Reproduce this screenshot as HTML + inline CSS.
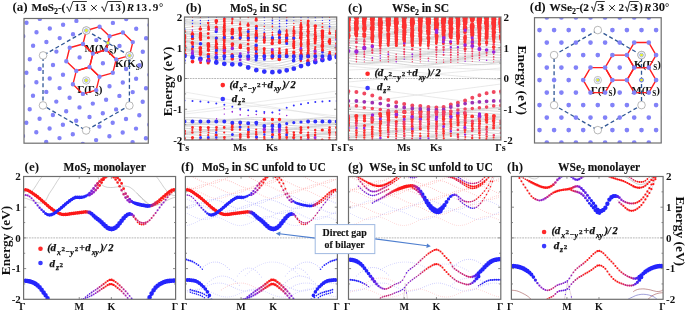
<!DOCTYPE html>
<html><head><meta charset="utf-8"><style>
html,body{margin:0;padding:0;background:#fff;width:685px;height:311px;overflow:hidden}
svg{display:block;will-change:transform}
</style></head><body>
<svg width="685" height="311" viewBox="0 0 685 311">
<defs><clipPath id="ca"><rect x="24" y="18.5" width="124.30000000000001" height="124.69999999999999"/></clipPath><clipPath id="cb"><rect x="184.5" y="17" width="152.2" height="123"/></clipPath><clipPath id="cc"><rect x="348.4" y="17" width="152.5" height="123"/></clipPath><clipPath id="cd"><rect x="534.5" y="17.7" width="126.70000000000005" height="125.3"/></clipPath><clipPath id="ce"><rect x="23.6" y="176.5" width="152.0" height="122.80000000000001"/></clipPath><clipPath id="cf"><rect x="185.4" y="176.5" width="151.99999999999997" height="122.80000000000001"/></clipPath><clipPath id="cg"><rect x="348.5" y="176.5" width="152.3" height="122.80000000000001"/></clipPath><clipPath id="ch"><rect x="511.4" y="176.5" width="151.70000000000005" height="122.80000000000001"/></clipPath></defs>
<text x="84.6" y="52.2" style="font-family:'Liberation Serif',serif;font-weight:bold;fill:#111;font-size:11px">M(<tspan>M</tspan><tspan style="font-size:7.2px" dy="2.3">S</tspan><tspan dy="-2.3">)</tspan></text>
<text x="114.9" y="67.3" style="font-family:'Liberation Serif',serif;font-weight:bold;fill:#111;font-size:11px">K(<tspan>K</tspan><tspan style="font-size:7.2px" dy="2.3">S</tspan><tspan dy="-2.3">)</tspan></text>
<text x="77.2" y="93.3" style="font-family:'Liberation Serif',serif;font-weight:bold;fill:#111;font-size:11px">Γ(<tspan>Γ</tspan><tspan style="font-size:7.2px" dy="2.3">S</tspan><tspan dy="-2.3">)</tspan></text>
<text x="634.0" y="67.6" style="font-family:'Liberation Serif',serif;font-weight:bold;fill:#111;font-size:11px">K(<tspan>Γ</tspan><tspan style="font-size:7.2px" dy="2.3">S</tspan><tspan dy="-2.3">)</tspan></text>
<text x="631.3" y="93.7" style="font-family:'Liberation Serif',serif;font-weight:bold;fill:#111;font-size:11px">M(<tspan>Γ</tspan><tspan style="font-size:7.2px" dy="2.3">S</tspan><tspan dy="-2.3">)</tspan></text>
<text x="590.8" y="93.7" style="font-family:'Liberation Serif',serif;font-weight:bold;fill:#111;font-size:11px">Γ(<tspan>Γ</tspan><tspan style="font-size:7.2px" dy="2.3">S</tspan><tspan dy="-2.3">)</tspan></text>
<g clip-path="url(#ca)">
<polygon points="99.53,76.67 96.18,90.12 82.88,93.94 72.93,84.31 76.28,70.86 89.58,67.04" fill="none" stroke="#ff1f1f" stroke-width="1.4" stroke-linejoin="round"/>
<polygon points="116.18,59.40 112.83,72.85 99.53,76.67 89.58,67.04 92.93,53.59 106.23,49.77" fill="none" stroke="#ff1f1f" stroke-width="1.4" stroke-linejoin="round"/>
<polygon points="92.93,53.59 89.58,67.04 76.28,70.86 66.33,61.23 69.68,47.78 82.98,43.96" fill="none" stroke="#ff1f1f" stroke-width="1.4" stroke-linejoin="round"/>
<polygon points="109.58,36.32 106.23,49.77 92.93,53.59 82.98,43.96 86.33,30.51 99.63,26.69" fill="none" stroke="#ff1f1f" stroke-width="1.4" stroke-linejoin="round"/>
<polygon points="132.83,42.13 129.48,55.58 116.18,59.40 106.23,49.77 109.58,36.32 122.88,32.50" fill="none" stroke="#ff1f1f" stroke-width="1.4" stroke-linejoin="round"/>
<polygon points="86.33,30.51 129.48,55.58 129.38,105.56 86.13,130.47 42.98,105.40 43.08,55.42" fill="none" stroke="#2f5694" stroke-width="1.3" stroke-dasharray="4,2.6"/>
<path d="M26.5 22.7h0M23.2 36.2h0M39.8 18.9h0M36.5 32.3h0M33.1 45.8h0M29.8 59.2h0M26.4 72.7h0M23.1 86.1h0M49.8 28.5h0M46.4 42.0h0M43.1 55.4h0M39.7 68.9h0M36.4 82.3h0M33.0 95.8h0M29.7 109.2h0M26.3 122.7h0M23.0 136.1h0M63.1 24.7h0M59.7 38.1h0M56.4 51.6h0M53.0 65.0h0M49.7 78.5h0M46.3 91.9h0M43.0 105.4h0M39.6 118.8h0M36.3 132.3h0M32.9 145.8h0M76.4 20.9h0M73.0 34.3h0M69.7 47.8h0M66.3 61.2h0M63.0 74.7h0M59.6 88.1h0M56.3 101.6h0M52.9 115.0h0M49.6 128.5h0M46.2 141.9h0M89.7 17.1h0M86.3 30.5h0M83.0 44.0h0M79.6 57.4h0M76.3 70.9h0M72.9 84.3h0M69.6 97.8h0M66.2 111.2h0M62.9 124.7h0M59.5 138.1h0M99.6 26.7h0M96.3 40.1h0M92.9 53.6h0M89.6 67.0h0M86.2 80.5h0M82.9 93.9h0M79.5 107.4h0M76.2 120.8h0M72.8 134.3h0M112.9 22.9h0M109.6 36.3h0M106.2 49.8h0M102.9 63.2h0M99.5 76.7h0M96.2 90.1h0M92.8 103.6h0M89.5 117.0h0M86.1 130.5h0M82.8 143.9h0M126.2 19.0h0M122.9 32.5h0M119.5 45.9h0M116.2 59.4h0M112.8 72.8h0M109.5 86.3h0M106.1 99.8h0M102.8 113.2h0M99.4 126.6h0M96.1 140.1h0M136.2 28.7h0M132.8 42.1h0M129.5 55.6h0M126.1 69.0h0M122.8 82.5h0M119.4 95.9h0M116.1 109.4h0M112.7 122.8h0M109.4 136.3h0M149.5 24.9h0M146.1 38.3h0M142.8 51.8h0M139.4 65.2h0M136.1 78.7h0M132.7 92.1h0M129.4 105.6h0M126.0 119.0h0M122.7 132.5h0M119.3 145.9h0M149.4 74.8h0M146.0 88.3h0M142.7 101.7h0M139.3 115.2h0M136.0 128.6h0M132.6 142.1h0M149.3 124.8h0M145.9 138.3h0" stroke="#8282f8" stroke-width="4.40" stroke-linecap="round"/>
<circle cx="86.33" cy="30.51" r="3.8" fill="#fff" stroke="#8a8a8a" stroke-width="0.6"/>
<circle cx="129.48" cy="55.58" r="3.8" fill="#fff" stroke="#8a8a8a" stroke-width="0.6"/>
<circle cx="129.38" cy="105.56" r="3.8" fill="#fff" stroke="#8a8a8a" stroke-width="0.6"/>
<circle cx="86.13" cy="130.47" r="3.8" fill="#fff" stroke="#8a8a8a" stroke-width="0.6"/>
<circle cx="42.98" cy="105.40" r="3.8" fill="#fff" stroke="#8a8a8a" stroke-width="0.6"/>
<circle cx="43.08" cy="55.42" r="3.8" fill="#fff" stroke="#8a8a8a" stroke-width="0.6"/>
<circle cx="86.23" cy="80.49" r="3.7" fill="#fff" stroke="#999" stroke-width="0.6"/>
<circle cx="86.23" cy="80.49" r="1.9" fill="none" stroke="#5a78d8" stroke-width="0.6"/>
<circle cx="86.23" cy="80.49" r="1.45" fill="#e4f028"/>
<circle cx="86.33" cy="30.51" r="3.7" fill="#fff" stroke="#999" stroke-width="0.6"/>
<circle cx="86.33" cy="30.51" r="1.9" fill="none" stroke="#5a78d8" stroke-width="0.6"/>
<circle cx="86.33" cy="30.51" r="1.45" fill="#e4f028"/>
<circle cx="129.48" cy="55.58" r="3.7" fill="#fff" stroke="#999" stroke-width="0.6"/>
<circle cx="129.48" cy="55.58" r="1.9" fill="none" stroke="#5a78d8" stroke-width="0.6"/>
<circle cx="129.48" cy="55.58" r="1.45" fill="#e4f028"/>
<circle cx="107.91" cy="43.05" r="1.9" fill="none" stroke="#5a78d8" stroke-width="0.6"/>
<circle cx="107.91" cy="43.05" r="1.45" fill="#e4f028"/>
</g>
<g clip-path="url(#cd)">
<polygon points="612.37,80.10 605.08,92.61 590.51,92.61 583.23,80.10 590.51,67.59 605.08,67.59" fill="none" stroke="#ff1f1f" stroke-width="1.4" stroke-linejoin="round"/>
<polygon points="634.23,67.59 626.94,80.10 612.37,80.10 605.08,67.59 612.37,55.08 626.94,55.08" fill="none" stroke="#ff1f1f" stroke-width="1.4" stroke-linejoin="round"/>
<polygon points="656.08,55.08 648.79,67.59 634.23,67.59 626.94,55.08 634.23,42.57 648.79,42.57" fill="none" stroke="#ff1f1f" stroke-width="1.4" stroke-linejoin="round"/>
<polygon points="656.08,80.10 648.79,92.61 634.23,92.61 626.94,80.10 634.23,67.59 648.79,67.59" fill="none" stroke="#ff1f1f" stroke-width="1.4" stroke-linejoin="round"/>
<polygon points="597.80,30.06 641.51,55.08 641.51,105.12 597.80,130.14 554.09,105.12 554.09,55.08" fill="none" stroke="#2f5694" stroke-width="1.3" stroke-dasharray="4,2.6"/>
<path d="M532.2 17.5h0M546.8 17.5h0M539.5 30.1h0M532.2 42.6h0M561.4 17.5h0M554.1 30.1h0M546.8 42.6h0M539.5 55.1h0M532.2 67.6h0M575.9 17.5h0M568.7 30.1h0M561.4 42.6h0M554.1 55.1h0M546.8 67.6h0M539.5 80.1h0M532.2 92.6h0M590.5 17.5h0M583.2 30.1h0M575.9 42.6h0M568.7 55.1h0M561.4 67.6h0M554.1 80.1h0M546.8 92.6h0M539.5 105.1h0M532.2 117.6h0M605.1 17.5h0M597.8 30.1h0M590.5 42.6h0M583.2 55.1h0M575.9 67.6h0M568.7 80.1h0M561.4 92.6h0M554.1 105.1h0M546.8 117.6h0M539.5 130.1h0M532.2 142.6h0M619.7 17.5h0M612.4 30.1h0M605.1 42.6h0M597.8 55.1h0M590.5 67.6h0M583.2 80.1h0M575.9 92.6h0M568.7 105.1h0M561.4 117.6h0M554.1 130.1h0M546.8 142.6h0M634.2 17.5h0M626.9 30.1h0M619.7 42.6h0M612.4 55.1h0M605.1 67.6h0M597.8 80.1h0M590.5 92.6h0M583.2 105.1h0M575.9 117.6h0M568.7 130.1h0M561.4 142.6h0M648.8 17.5h0M641.5 30.1h0M634.2 42.6h0M626.9 55.1h0M619.7 67.6h0M612.4 80.1h0M605.1 92.6h0M597.8 105.1h0M590.5 117.6h0M583.2 130.1h0M575.9 142.6h0M663.4 17.5h0M656.1 30.1h0M648.8 42.6h0M641.5 55.1h0M634.2 67.6h0M626.9 80.1h0M619.7 92.6h0M612.4 105.1h0M605.1 117.6h0M597.8 130.1h0M590.5 142.6h0M663.4 42.6h0M656.1 55.1h0M648.8 67.6h0M641.5 80.1h0M634.2 92.6h0M626.9 105.1h0M619.7 117.6h0M612.4 130.1h0M605.1 142.6h0M663.4 67.6h0M656.1 80.1h0M648.8 92.6h0M641.5 105.1h0M634.2 117.6h0M626.9 130.1h0M619.7 142.6h0M663.4 92.6h0M656.1 105.1h0M648.8 117.6h0M641.5 130.1h0M634.2 142.6h0M663.4 117.6h0M656.1 130.1h0M648.8 142.6h0M663.4 142.6h0" stroke="#8282f8" stroke-width="4.70" stroke-linecap="round"/>
<circle cx="597.80" cy="30.06" r="3.8" fill="#fff" stroke="#8a8a8a" stroke-width="0.6"/>
<circle cx="641.51" cy="55.08" r="3.8" fill="#fff" stroke="#8a8a8a" stroke-width="0.6"/>
<circle cx="641.51" cy="105.12" r="3.8" fill="#fff" stroke="#8a8a8a" stroke-width="0.6"/>
<circle cx="597.80" cy="130.14" r="3.8" fill="#fff" stroke="#8a8a8a" stroke-width="0.6"/>
<circle cx="554.09" cy="105.12" r="3.8" fill="#fff" stroke="#8a8a8a" stroke-width="0.6"/>
<circle cx="554.09" cy="55.08" r="3.8" fill="#fff" stroke="#8a8a8a" stroke-width="0.6"/>
<circle cx="597.80" cy="80.10" r="3.7" fill="#fff" stroke="#999" stroke-width="0.6"/>
<circle cx="597.80" cy="80.10" r="1.9" fill="none" stroke="#5a78d8" stroke-width="0.6"/>
<circle cx="597.80" cy="80.10" r="1.45" fill="#e4f028"/>
<circle cx="641.51" cy="55.08" r="3.7" fill="#fff" stroke="#999" stroke-width="0.6"/>
<circle cx="641.51" cy="55.08" r="1.9" fill="none" stroke="#5a78d8" stroke-width="0.6"/>
<circle cx="641.51" cy="55.08" r="1.45" fill="#e4f028"/>
<circle cx="641.51" cy="80.10" r="1.9" fill="none" stroke="#5a78d8" stroke-width="0.6"/>
<circle cx="641.51" cy="80.10" r="1.45" fill="#e4f028"/>
</g>
<g clip-path="url(#cb)">
<path d="M184.5,55.2 188.4,55.7 192.3,56.1 196.2,56.5 200.1,56.9 204,57.5 207.9,58.1 211.8,58.8 215.7,59.7 219.6,60.5 223.5,61.5 227.4,62.1 231.3,62.7 235.2,63 239.1,63.1 243,64.2 246.9,65.5 250.8,66.5 254.7,67.4 258.6,68 262.6,68.4 266.5,68.7 270.4,69 274.3,69.1 278.2,69.1 282.1,68.9 286,68.5 289.9,68 293.8,67.3 297.7,66 301.6,64.6 305.5,63.2 309.4,61.8 313.3,60.4 317.2,59 321.1,57.8 325,56.8 328.9,56.1 332.8,55.5 336.7,55" fill="none" stroke="#cacaca" stroke-width="0.75"/>
<path d="M184.5,53.5 188.4,53.7 192.3,54 196.2,54.4 200.1,54.9 204,55.7 207.9,56.6 211.8,57.6 215.7,58.7 219.6,59.6 223.5,60.5 227.4,61 231.3,61.3 235.2,61.3 239.1,61.1 243,61.8 246.9,62.9 250.8,63.8 254.7,64.7 258.6,65.4 262.6,66.1 266.5,66.7 270.4,67.3 274.3,67.6 278.2,67.7 282.1,67.4 286,66.9 289.9,66.1 293.8,65.2 297.7,63.6 301.6,62.1 305.5,60.7 309.4,59.4 313.3,58.2 317.2,57.2 321.1,56.3 325,55.7 328.9,55.3 332.8,54.9 336.7,54.4" fill="none" stroke="#cacaca" stroke-width="0.75"/>
<path d="M184.5,51.4 188.4,51.7 192.3,52.1 196.2,52.8 200.1,53.6 204,54.6 207.9,55.7 211.8,56.8 215.7,57.8 219.6,58.5 223.5,59.1 227.4,59.2 231.3,59.2 235.2,58.9 239.1,58.6 243,59.2 246.9,60.3 250.8,61.4 254.7,62.6 258.6,63.6 262.6,64.5 266.5,65.3 270.4,65.9 274.3,66.1 278.2,65.9 282.1,65.4 286,64.6 289.9,63.6 293.8,62.5 297.7,61 301.6,59.5 305.5,58.4 309.4,57.5 313.3,56.7 317.2,56 321.1,55.4 325,55 328.9,54.6 332.8,54.1 336.7,53.4" fill="none" stroke="#cacaca" stroke-width="0.75"/>
<path d="M184.5,49.8 188.4,50.3 192.3,51 196.2,51.9 200.1,52.9 204,53.9 207.9,54.9 211.8,55.7 215.7,56.3 219.6,56.7 223.5,56.9 227.4,56.8 231.3,56.7 235.2,56.5 239.1,56.3 243,57.2 246.9,58.5 250.8,59.8 254.7,61.2 258.6,62.3 262.6,63.1 266.5,63.7 270.4,64 274.3,63.9 278.2,63.4 282.1,62.6 286,61.7 289.9,60.8 293.8,59.8 297.7,58.6 301.6,57.6 305.5,56.9 309.4,56.3 313.3,55.8 317.2,55.2 321.1,54.6 325,54 328.9,53.3 332.8,52.5 336.7,51.6" fill="none" stroke="#cacaca" stroke-width="0.75"/>
<path d="M184.5,48.8 188.4,49.6 192.3,50.4 196.2,51.3 200.1,52.1 204,52.8 207.9,53.4 211.8,53.8 215.7,54.1 219.6,54.3 223.5,54.4 227.4,54.4 231.3,54.5 235.2,54.5 239.1,54.7 243,55.8 246.9,57.3 250.8,58.6 254.7,59.8 258.6,60.7 262.6,61.2 266.5,61.4 270.4,61.4 274.3,61.1 278.2,60.5 282.1,59.8 286,59.1 289.9,58.4 293.8,57.8 297.7,57 301.6,56.3 305.5,55.9 309.4,55.3 313.3,54.7 317.2,54 321.1,53.2 325,52.3 328.9,51.4 332.8,50.4 336.7,49.5" fill="none" stroke="#cacaca" stroke-width="0.75"/>
<path d="M184.5,48.3 188.4,49 192.3,49.6 196.2,50.2 200.1,50.6 204,51 207.9,51.3 211.8,51.5 215.7,51.7 219.6,52 223.5,52.3 227.4,52.6 231.3,53 235.2,53.3 239.1,53.7 243,54.8 246.9,56.1 250.8,57.1 254.7,57.9 258.6,58.4 262.6,58.6 266.5,58.6 270.4,58.4 274.3,58.2 278.2,57.8 282.1,57.4 286,57.1 289.9,56.8 293.8,56.5 297.7,55.9 301.6,55.2 305.5,54.6 309.4,53.9 313.3,53.1 317.2,52.1 321.1,51 325,50.1 328.9,49.2 332.8,48.5 336.7,47.8" fill="none" stroke="#cacaca" stroke-width="0.75"/>
<path d="M184.5,47.5 188.4,47.9 192.3,48.2 196.2,48.4 200.1,48.5 204,48.7 207.9,49 211.8,49.4 215.7,49.8 219.6,50.4 223.5,51 227.4,51.5 231.3,52 235.2,52.3 239.1,52.5 243,53.3 246.9,54.2 250.8,54.8 254.7,55.3 258.6,55.5 262.6,55.7 266.5,55.7 270.4,55.8 274.3,55.8 278.2,55.8 282.1,55.8 286,55.7 289.9,55.5 293.8,55.2 297.7,54.4 301.6,53.6 305.5,52.7 309.4,51.8 313.3,50.8 317.2,49.8 321.1,48.8 325,48.1 328.9,47.5 332.8,47.1 336.7,46.9" fill="none" stroke="#cacaca" stroke-width="0.75"/>
<path d="M184.5,46.1 188.4,46.1 192.3,46.1 196.2,46.2 200.1,46.4 204,46.8 207.9,47.3 211.8,47.9 215.7,48.6 219.6,49.4 223.5,50 227.4,50.5 231.3,50.8 235.2,50.9 239.1,50.7 243,51.1 246.9,51.7 250.8,52.1 254.7,52.5 258.6,52.8 262.6,53.2 266.5,53.5 270.4,53.9 274.3,54.2 278.2,54.4 282.1,54.4 286,54.2 289.9,53.8 293.8,53.3 297.7,52.3 301.6,51.2 305.5,50.3 309.4,49.3 313.3,48.4 317.2,47.7 321.1,47.1 325,46.8 328.9,46.6 332.8,46.4 336.7,46.3" fill="none" stroke="#cacaca" stroke-width="0.75"/>
<path d="M184.5,44 188.4,44.1 192.3,44.1 196.2,44.4 200.1,44.9 204,45.5 207.9,46.3 211.8,47 215.7,47.8 219.6,48.4 223.5,48.8 227.4,48.9 231.3,48.9 235.2,48.6 239.1,48.3 243,48.5 246.9,49 250.8,49.6 254.7,50.2 258.6,50.8 262.6,51.4 266.5,52 270.4,52.5 274.3,52.8 278.2,52.8 282.1,52.5 286,52.1 289.9,51.4 293.8,50.7 297.7,49.6 301.6,48.6 305.5,47.8 309.4,47.2 313.3,46.7 317.2,46.4 321.1,46.1 325,46 328.9,45.9 332.8,45.8 336.7,45.5" fill="none" stroke="#cacaca" stroke-width="0.75"/>
<path d="M184.5,42.2 188.4,42.4 192.3,42.8 196.2,43.4 200.1,44.1 204,44.8 207.9,45.5 211.8,46.1 215.7,46.5 219.6,46.7 223.5,46.8 227.4,46.7 231.3,46.4 235.2,46.1 239.1,45.9 243,46.3 246.9,47 250.8,47.8 254.7,48.6 258.6,49.4 262.6,50 266.5,50.5 270.4,50.8 274.3,50.8 278.2,50.5 282.1,50 286,49.3 289.9,48.6 293.8,47.9 297.7,47.1 301.6,46.5 305.5,46.1 309.4,45.8 313.3,45.7 317.2,45.5 321.1,45.3 325,45.2 328.9,44.9 332.8,44.4 336.7,43.9" fill="none" stroke="#cacaca" stroke-width="0.75"/>
<path d="M184.5,41 188.4,41.6 192.3,42.1 196.2,42.8 200.1,43.4 204,43.9 207.9,44.2 211.8,44.5 215.7,44.5 219.6,44.5 223.5,44.4 227.4,44.2 231.3,44.1 235.2,44 239.1,44.1 243,44.7 246.9,45.6 250.8,46.5 254.7,47.3 258.6,47.9 262.6,48.3 266.5,48.4 270.4,48.4 274.3,48.1 278.2,47.6 282.1,47.1 286,46.5 289.9,46.1 293.8,45.7 297.7,45.3 301.6,45.1 305.5,45 309.4,44.9 313.3,44.7 317.2,44.5 321.1,44.1 325,43.6 328.9,43.1 332.8,42.5 336.7,41.8" fill="none" stroke="#cacaca" stroke-width="0.75"/>
<path d="M184.5,40.5 188.4,41 192.3,41.5 196.2,41.9 200.1,42.1 204,42.2 207.9,42.3 211.8,42.2 215.7,42.1 219.6,42.1 223.5,42.1 227.4,42.2 231.3,42.4 235.2,42.7 239.1,43 243,43.7 246.9,44.5 250.8,45.1 254.7,45.6 258.6,45.8 262.6,45.8 266.5,45.7 270.4,45.4 274.3,45.1 278.2,44.8 282.1,44.5 286,44.3 289.9,44.2 293.8,44.2 297.7,44.1 301.6,44 305.5,43.9 309.4,43.7 313.3,43.3 317.2,42.8 321.1,42.1 325,41.5 328.9,40.9 332.8,40.4 336.7,39.9" fill="none" stroke="#cacaca" stroke-width="0.75"/>
<path d="M184.5,39.9 188.4,40.1 192.3,40.2 196.2,40.2 200.1,40.2 204,40 207.9,40 211.8,39.9 215.7,40 219.6,40.2 223.5,40.6 227.4,40.9 231.3,41.3 235.2,41.7 239.1,41.9 243,42.4 246.9,42.8 250.8,43.1 254.7,43.2 258.6,43.1 262.6,42.9 266.5,42.8 270.4,42.7 274.3,42.6 278.2,42.6 282.1,42.7 286,42.8 289.9,42.9 293.8,43 297.7,42.8 301.6,42.6 305.5,42.2 309.4,41.7 313.3,41.1 317.2,40.5 321.1,39.9 325,39.4 328.9,39 332.8,38.8 336.7,38.8" fill="none" stroke="#cacaca" stroke-width="0.75"/>
<path d="M184.5,38.6 188.4,38.5 192.3,38.3 196.2,38.1 200.1,38 204,37.9 207.9,38 211.8,38.3 215.7,38.6 219.6,39.1 223.5,39.6 227.4,40 231.3,40.2 235.2,40.4 239.1,40.3 243,40.4 246.9,40.5 250.8,40.4 254.7,40.3 258.6,40.3 262.6,40.3 266.5,40.4 270.4,40.6 274.3,40.8 278.2,41.1 282.1,41.3 286,41.4 289.9,41.4 293.8,41.3 297.7,40.9 301.6,40.4 305.5,39.8 309.4,39.2 313.3,38.7 317.2,38.3 321.1,38 325,37.8 328.9,37.9 332.8,38 336.7,38.2" fill="none" stroke="#cacaca" stroke-width="0.75"/>
<path d="M184.5,36.7 188.4,36.4 192.3,36.2 196.2,36.2 200.1,36.2 204,36.5 207.9,36.8 211.8,37.3 215.7,37.8 219.6,38.2 223.5,38.5 227.4,38.6 231.3,38.6 235.2,38.4 239.1,38.1 243,37.9 246.9,37.8 250.8,37.8 254.7,37.8 258.6,38 262.6,38.3 266.5,38.7 270.4,39 274.3,39.4 278.2,39.6 282.1,39.6 286,39.5 289.9,39.3 293.8,38.9 297.7,38.3 301.6,37.8 305.5,37.3 309.4,37 313.3,36.8 317.2,36.7 321.1,36.8 325,37 328.9,37.2 332.8,37.4 336.7,37.5" fill="none" stroke="#cacaca" stroke-width="0.75"/>
<path d="M184.5,34.7 188.4,34.6 192.3,34.7 196.2,34.9 200.1,35.2 204,35.7 207.9,36.1 211.8,36.4 215.7,36.7 219.6,36.8 223.5,36.7 227.4,36.5 231.3,36.2 235.2,35.9 239.1,35.6 243,35.5 246.9,35.5 250.8,35.7 254.7,36.1 258.6,36.5 262.6,36.9 266.5,37.2 270.4,37.5 274.3,37.6 278.2,37.5 282.1,37.3 286,36.9 289.9,36.5 293.8,36.1 297.7,35.7 301.6,35.5 305.5,35.4 309.4,35.4 313.3,35.6 317.2,35.8 321.1,36 325,36.2 328.9,36.3 332.8,36.3 336.7,36.1" fill="none" stroke="#cacaca" stroke-width="0.75"/>
<path d="M184.5,33.3 188.4,33.5 192.3,33.9 196.2,34.2 200.1,34.6 204,34.9 207.9,35 211.8,35 215.7,34.9 219.6,34.6 223.5,34.3 227.4,34 231.3,33.7 235.2,33.6 239.1,33.6 243,33.7 246.9,34 250.8,34.4 254.7,34.8 258.6,35.1 262.6,35.3 266.5,35.4 270.4,35.3 274.3,35.1 278.2,34.8 282.1,34.4 286,34.1 289.9,33.8 293.8,33.7 297.7,33.7 301.6,33.8 305.5,34.1 309.4,34.4 313.3,34.7 317.2,34.9 321.1,35 325,35 328.9,34.8 332.8,34.5 336.7,34.1" fill="none" stroke="#cacaca" stroke-width="0.75"/>
<path d="M184.5,32.4 188.4,32.8 192.3,33.1 196.2,33.3 200.1,33.4 204,33.3 207.9,33.1 211.8,32.8 215.7,32.5 219.6,32.2 223.5,31.9 227.4,31.8 231.3,31.8 235.2,32 239.1,32.3 243,32.6 246.9,32.9 250.8,33.2 254.7,33.4 258.6,33.4 262.6,33.2 266.5,33 270.4,32.7 274.3,32.3 278.2,32 282.1,31.8 286,31.8 289.9,31.9 293.8,32.1 297.7,32.4 301.6,32.8 305.5,33.1 309.4,33.3 313.3,33.4 317.2,33.3 321.1,33.1 325,32.8 328.9,32.5 332.8,32.2 336.7,31.9" fill="none" stroke="#cacaca" stroke-width="0.75"/>
<path d="M184.5,31.4 188.4,31.6 192.3,31.6 196.2,31.5 200.1,31.3 204,31 207.9,30.6 211.8,30.3 215.7,30.1 219.6,30 223.5,30.1 227.4,30.3 231.3,30.6 235.2,31 239.1,31.3 243,31.5 246.9,31.6 250.8,31.6 254.7,31.4 258.6,31.1 262.6,30.8 266.5,30.5 270.4,30.2 274.3,30.1 278.2,30.1 282.1,30.2 286,30.5 289.9,30.8 293.8,31.1 297.7,31.4 301.6,31.6 305.5,31.6 309.4,31.5 313.3,31.3 317.2,31 321.1,30.6 325,30.3 328.9,30.1 332.8,30 336.7,30.1" fill="none" stroke="#cacaca" stroke-width="0.75"/>
<path d="M184.5,29.9 188.4,29.7 192.3,29.5 196.2,29.1 200.1,28.8 204,28.5 207.9,28.3 211.8,28.3 215.7,28.4 219.6,28.7 223.5,29 227.4,29.3 231.3,29.6 235.2,29.8 239.1,29.9 243,29.8 246.9,29.6 250.8,29.3 254.7,29 258.6,28.6 262.6,28.4 266.5,28.3 270.4,28.3 274.3,28.5 278.2,28.8 282.1,29.2 286,29.5 289.9,29.7 293.8,29.9 297.7,29.9 301.6,29.7 305.5,29.5 309.4,29.1 313.3,28.8 317.2,28.5 321.1,28.3 325,28.3 328.9,28.4 332.8,28.7 336.7,29" fill="none" stroke="#cacaca" stroke-width="0.75"/>
<path d="M184.5,27.6 188.4,27.3 192.3,26.9 196.2,26.7 200.1,26.6 204,26.6 207.9,26.7 211.8,27 215.7,27.3 219.6,27.7 223.5,27.9 227.4,28.1 231.3,28.1 235.2,28 239.1,27.8 243,27.4 246.9,27.1 250.8,26.8 254.7,26.6 258.6,26.5 262.6,26.6 266.5,26.9 270.4,27.2 274.3,27.5 278.2,27.8 282.1,28 286,28.1 289.9,28.1 293.8,27.9 297.7,27.6 301.6,27.3 305.5,26.9 309.4,26.7 313.3,26.6 317.2,26.6 321.1,26.7 325,27 328.9,27.3 332.8,27.7 336.7,28" fill="none" stroke="#cacaca" stroke-width="0.75"/>
<path d="M184.5,25.1 188.4,24.9 192.3,24.8 196.2,24.9 200.1,25.1 204,25.3 207.9,25.7 211.8,26 215.7,26.3 219.6,26.4 223.5,26.4 227.4,26.2 231.3,25.9 235.2,25.6 239.1,25.2 243,25 246.9,24.8 250.8,24.8 254.7,24.9 258.6,25.2 262.6,25.5 266.5,25.9 270.4,26.2 274.3,26.3 278.2,26.4 282.1,26.3 286,26.1 289.9,25.8 293.8,25.4 297.7,25.1 301.6,24.9 305.5,24.8 309.4,24.9 313.3,25.1 317.2,25.4 321.1,25.7 325,26 328.9,26.3 332.8,26.4 336.7,26.4" fill="none" stroke="#cacaca" stroke-width="0.75"/>
<path d="M184.5,23 188.4,23.2 192.3,23.4 196.2,23.7 200.1,24 204,24.4 207.9,24.6 211.8,24.6 215.7,24.6 219.6,24.4 223.5,24.1 227.4,23.7 231.3,23.4 235.2,23.2 239.1,23.1 243,23.1 246.9,23.3 250.8,23.5 254.7,23.9 258.6,24.2 262.6,24.5 266.5,24.6 270.4,24.6 274.3,24.5 278.2,24.2 282.1,23.9 286,23.6 289.9,23.3 293.8,23.1 297.7,23 301.6,23.2 305.5,23.4 309.4,23.7 313.3,24.1 317.2,24.4 321.1,24.6 325,24.6 328.9,24.6 332.8,24.4 336.7,24.1" fill="none" stroke="#cacaca" stroke-width="0.75"/>
<path d="M184.5,21.7 188.4,22.1 192.3,22.4 196.2,22.7 200.1,22.9 204,22.9 207.9,22.8 211.8,22.5 215.7,22.2 219.6,21.9 223.5,21.6 227.4,21.4 231.3,21.3 235.2,21.4 239.1,21.6 243,21.9 246.9,22.2 250.8,22.5 254.7,22.8 258.6,22.9 262.6,22.8 266.5,22.7 270.4,22.4 274.3,22 278.2,21.7 282.1,21.5 286,21.3 289.9,21.3 293.8,21.5 297.7,21.7 301.6,22.1 305.5,22.4 309.4,22.7 313.3,22.9 317.2,22.9 321.1,22.8 325,22.5 328.9,22.2 332.8,21.9 336.7,21.6" fill="none" stroke="#cacaca" stroke-width="0.75"/>
<path d="M184.5,20.7 188.4,21 192.3,21.1 196.2,21.1 200.1,21 204,20.7 207.9,20.4 211.8,20 215.7,19.7 219.6,19.6 223.5,19.6 227.4,19.7 231.3,19.9 235.2,20.2 239.1,20.6 243,20.9 246.9,21.1 250.8,21.1 254.7,21.1 258.6,20.8 262.6,20.5 266.5,20.2 270.4,19.9 274.3,19.6 278.2,19.5 282.1,19.6 286,19.8 289.9,20.1 293.8,20.4 297.7,20.7 301.6,21 305.5,21.1 309.4,21.1 313.3,21 317.2,20.7 321.1,20.4 325,20 328.9,19.7 332.8,19.6 336.7,19.6" fill="none" stroke="#cacaca" stroke-width="0.75"/>
<path d="M184.5,19.4 188.4,19.3 192.3,19.1 196.2,18.8 200.1,18.5 204,18.2 207.9,17.9 211.8,17.8 215.7,17.8 219.6,18 223.5,18.3 227.4,18.6 231.3,18.9 235.2,19.2 239.1,19.4 243,19.4 246.9,19.3 250.8,19 254.7,18.7 258.6,18.3 262.6,18 266.5,17.8 270.4,17.8 274.3,17.9 278.2,18.1 282.1,18.4 286,18.8 289.9,19.1 293.8,19.3 297.7,19.4 301.6,19.3 305.5,19.1 309.4,18.8 313.3,18.5 317.2,18.2 321.1,17.9 325,17.8 328.9,17.8 332.8,18 336.7,18.3" fill="none" stroke="#cacaca" stroke-width="0.75"/>
<path d="M184.5,17.3 188.4,17 192.3,16.7 196.2,16.3 200.1,16.1 204,16 207.9,16.1 211.8,16.3 215.7,16.6 219.6,17 223.5,17.3 227.4,17.5 231.3,17.6 235.2,17.6 239.1,17.4 243,17.2 246.9,16.8 250.8,16.5 254.7,16.2 258.6,16.1 262.6,16.1 266.5,16.2 270.4,16.5 274.3,16.8 278.2,17.1 282.1,17.4 286,17.6 289.9,17.6 293.8,17.5 297.7,17.3 301.6,17 305.5,16.6 309.4,16.3 313.3,16.1 317.2,16 321.1,16.1 325,16.3 328.9,16.6 332.8,17 336.7,17.3" fill="none" stroke="#cacaca" stroke-width="0.75"/>
<path d="M184.5,14.8 188.4,14.5 192.3,14.3 196.2,14.3 200.1,14.4 204,14.6 207.9,15 211.8,15.3 215.7,15.6 219.6,15.8 223.5,15.9 227.4,15.8 231.3,15.6 235.2,15.3 239.1,15 243,14.6 246.9,14.4 250.8,14.3 254.7,14.3 258.6,14.5 262.6,14.8 266.5,15.1 270.4,15.5 274.3,15.7 278.2,15.9 282.1,15.9 286,15.7 289.9,15.5 293.8,15.1 297.7,14.8 301.6,14.5 305.5,14.3 309.4,14.3 313.3,14.4 317.2,14.6 321.1,15 325,15.3 328.9,15.6 332.8,15.8 336.7,15.9" fill="none" stroke="#cacaca" stroke-width="0.75"/>
<path d="M184.5,92 336.7,118" fill="none" stroke="#dcdcdc" stroke-width="0.55"/>
<path d="M184.5,112 336.7,91" fill="none" stroke="#dcdcdc" stroke-width="0.55"/>
<path d="M184.5,98 336.7,116" fill="none" stroke="#dcdcdc" stroke-width="0.55"/>
<path d="M184.5,114 336.7,97" fill="none" stroke="#dcdcdc" stroke-width="0.55"/>
<path d="M184.5,117.7 188.4,117.6 192.3,117.6 196.2,117.7 200.1,117.9 204,118.2 207.9,118.5 211.8,118.9 215.7,119.1 219.6,119.3 223.5,119.4 227.4,119.4 231.3,119.2 235.2,119 239.1,118.7 243,118.4 246.9,118.1 250.8,117.8 254.7,117.7 258.6,117.6 262.6,117.6 266.5,117.8 270.4,118 274.3,118.3 278.2,118.6 282.1,118.9 286,119.2 289.9,119.3 293.8,119.4 297.7,119.3 301.6,119.2 305.5,118.9 309.4,118.6 313.3,118.3 317.2,118 321.1,117.8 325,117.6 328.9,117.6 332.8,117.7 336.7,117.9" fill="none" stroke="#cacaca" stroke-width="0.75"/>
<path d="M184.5,119.6 188.4,119.8 192.3,120.1 196.2,120.5 200.1,120.7 204,121 207.9,121.1 211.8,121.1 215.7,121 219.6,120.8 223.5,120.5 227.4,120.2 231.3,119.9 235.2,119.6 239.1,119.4 243,119.3 246.9,119.3 250.8,119.4 254.7,119.6 258.6,119.9 262.6,120.2 266.5,120.5 270.4,120.8 274.3,121 278.2,121.1 282.1,121.1 286,120.9 289.9,120.7 293.8,120.4 297.7,120.1 301.6,119.8 305.5,119.6 309.4,119.4 313.3,119.3 317.2,119.3 321.1,119.5 325,119.7 328.9,120 332.8,120.3 336.7,120.6" fill="none" stroke="#cacaca" stroke-width="0.75"/>
<path d="M184.5,122.3 188.4,122.6 192.3,122.7 196.2,122.8 200.1,122.7 204,122.6 207.9,122.3 211.8,122 215.7,121.7 219.6,121.4 223.5,121.2 227.4,121 231.3,121 235.2,121.1 239.1,121.3 243,121.5 246.9,121.8 250.8,122.1 254.7,122.4 258.6,122.6 262.6,122.8 266.5,122.8 270.4,122.7 274.3,122.5 278.2,122.2 282.1,121.9 286,121.6 289.9,121.3 293.8,121.1 297.7,121 301.6,121 305.5,121.1 309.4,121.3 313.3,121.6 317.2,121.9 321.1,122.2 325,122.5 328.9,122.7 332.8,122.8 336.7,122.8" fill="none" stroke="#cacaca" stroke-width="0.75"/>
<path d="M184.5,124.5 188.4,124.3 192.3,124.1 196.2,123.8 200.1,123.5 204,123.2 207.9,122.9 211.8,122.8 215.7,122.7 219.6,122.7 223.5,122.9 227.4,123.1 231.3,123.4 235.2,123.7 239.1,124 243,124.3 246.9,124.4 250.8,124.5 254.7,124.4 258.6,124.3 262.6,124 266.5,123.7 270.4,123.4 274.3,123.1 278.2,122.9 282.1,122.7 286,122.7 289.9,122.8 293.8,122.9 297.7,123.2 301.6,123.5 305.5,123.8 309.4,124.1 313.3,124.3 317.2,124.5 321.1,124.5 325,124.4 328.9,124.2 332.8,124 336.7,123.6" fill="none" stroke="#cacaca" stroke-width="0.75"/>
<path d="M184.5,125.3 188.4,125 192.3,124.7 196.2,124.5 200.1,124.4 204,124.4 207.9,124.5 211.8,124.7 215.7,125 219.6,125.3 223.5,125.6 227.4,125.9 231.3,126.1 235.2,126.2 239.1,126.2 243,126 246.9,125.8 250.8,125.5 254.7,125.2 258.6,124.9 262.6,124.7 266.5,124.5 270.4,124.4 274.3,124.4 278.2,124.6 282.1,124.8 286,125.1 289.9,125.4 293.8,125.7 297.7,126 301.6,126.1 305.5,126.2 309.4,126.1 313.3,126 317.2,125.7 321.1,125.5 325,125.1 328.9,124.8 332.8,124.6 336.7,124.4" fill="none" stroke="#cacaca" stroke-width="0.75"/>
<path d="M184.5,126.1 188.4,126.1 192.3,126.2 196.2,126.4 200.1,126.6 204,126.9 207.9,127.2 211.8,127.5 215.7,127.7 219.6,127.9 223.5,127.9 227.4,127.8 231.3,127.6 235.2,127.3 239.1,127 243,126.7 246.9,126.4 250.8,126.2 254.7,126.1 258.6,126.1 262.6,126.2 266.5,126.4 270.4,126.7 274.3,127 278.2,127.3 282.1,127.6 286,127.8 289.9,127.9 293.8,127.9 297.7,127.8 301.6,127.5 305.5,127.3 309.4,126.9 313.3,126.6 317.2,126.4 321.1,126.2 325,126.1 328.9,126.1 332.8,126.3 336.7,126.5" fill="none" stroke="#cacaca" stroke-width="0.75"/>
<path d="M184.5,128.2 188.4,128.5 192.3,128.8 196.2,129.1 200.1,129.4 204,129.5 207.9,129.6 211.8,129.5 215.7,129.4 219.6,129.1 223.5,128.8 227.4,128.5 231.3,128.2 235.2,128 239.1,127.8 243,127.8 246.9,127.9 250.8,128 254.7,128.3 258.6,128.6 262.6,128.9 266.5,129.2 270.4,129.4 274.3,129.6 278.2,129.6 282.1,129.5 286,129.3 289.9,129.1 293.8,128.7 297.7,128.4 301.6,128.1 305.5,127.9 309.4,127.8 313.3,127.8 317.2,127.9 321.1,128.1 325,128.4 328.9,128.7 332.8,129 336.7,129.3" fill="none" stroke="#cacaca" stroke-width="0.75"/>
<path d="M184.5,131 188.4,131.2 192.3,131.3 196.2,131.3 200.1,131.1 204,130.9 207.9,130.6 211.8,130.3 215.7,130 219.6,129.8 223.5,129.6 227.4,129.5 231.3,129.5 235.2,129.7 239.1,129.9 243,130.2 246.9,130.5 250.8,130.8 254.7,131.1 258.6,131.2 262.6,131.3 266.5,131.2 270.4,131.1 274.3,130.9 278.2,130.6 282.1,130.2 286,129.9 289.9,129.7 293.8,129.5 297.7,129.5 301.6,129.6 305.5,129.7 309.4,130 313.3,130.3 317.2,130.6 321.1,130.9 325,131.1 328.9,131.3 332.8,131.3 336.7,131.2" fill="none" stroke="#cacaca" stroke-width="0.75"/>
<path d="M184.5,132.9 188.4,132.7 192.3,132.4 196.2,132.1 200.1,131.8 204,131.5 207.9,131.3 211.8,131.2 215.7,131.2 219.6,131.3 223.5,131.5 227.4,131.8 231.3,132.1 235.2,132.4 239.1,132.7 243,132.9 246.9,133 250.8,133 254.7,132.9 258.6,132.6 262.6,132.4 266.5,132 270.4,131.7 274.3,131.5 278.2,131.3 282.1,131.2 286,131.2 289.9,131.4 293.8,131.6 297.7,131.9 301.6,132.2 305.5,132.5 309.4,132.8 313.3,132.9 317.2,133 321.1,133 325,132.8 328.9,132.6 332.8,132.3 336.7,131.9" fill="none" stroke="#cacaca" stroke-width="0.75"/>
<path d="M184.5,133.6 188.4,133.3 192.3,133.1 196.2,132.9 200.1,132.9 204,133 207.9,133.1 211.8,133.4 215.7,133.7 219.6,134 223.5,134.3 227.4,134.5 231.3,134.7 235.2,134.7 239.1,134.6 243,134.4 246.9,134.2 250.8,133.8 254.7,133.5 258.6,133.3 262.6,133 266.5,132.9 270.4,132.9 274.3,133 278.2,133.2 282.1,133.5 286,133.8 289.9,134.1 293.8,134.4 297.7,134.6 301.6,134.7 305.5,134.7 309.4,134.6 313.3,134.4 317.2,134.1 321.1,133.8 325,133.4 328.9,133.2 332.8,133 336.7,132.9" fill="none" stroke="#cacaca" stroke-width="0.75"/>
<path d="M184.5,134.6 188.4,134.6 192.3,134.8 196.2,135 200.1,135.3 204,135.6 207.9,135.9 211.8,136.2 215.7,136.3 219.6,136.4 223.5,136.4 227.4,136.2 231.3,136 235.2,135.7 239.1,135.3 243,135 246.9,134.8 250.8,134.6 254.7,134.6 258.6,134.7 262.6,134.8 266.5,135.1 270.4,135.4 274.3,135.7 278.2,136 282.1,136.2 286,136.4 289.9,136.4 293.8,136.3 297.7,136.1 301.6,135.9 305.5,135.6 309.4,135.2 313.3,135 317.2,134.7 321.1,134.6 325,134.6 328.9,134.7 332.8,134.9 336.7,135.2" fill="none" stroke="#cacaca" stroke-width="0.75"/>
<path d="M184.5,136.9 188.4,137.2 192.3,137.5 196.2,137.8 200.1,138 204,138.1 207.9,138.1 211.8,138 215.7,137.7 219.6,137.5 223.5,137.1 227.4,136.8 231.3,136.6 235.2,136.4 239.1,136.3 243,136.3 246.9,136.5 250.8,136.7 254.7,137 258.6,137.3 262.6,137.6 266.5,137.9 270.4,138 274.3,138.1 278.2,138.1 282.1,137.9 286,137.7 289.9,137.4 293.8,137.1 297.7,136.8 301.6,136.5 305.5,136.4 309.4,136.3 313.3,136.4 317.2,136.5 321.1,136.8 325,137.1 328.9,137.4 332.8,137.7 336.7,137.9" fill="none" stroke="#cacaca" stroke-width="0.75"/>
<path d="M184.5,139.6 188.4,139.8 192.3,139.8 196.2,139.7 200.1,139.5 204,139.3 207.9,139 211.8,138.6 215.7,138.4 219.6,138.1 223.5,138 227.4,138 231.3,138.1 235.2,138.3 239.1,138.6 243,138.9 246.9,139.2 250.8,139.5 254.7,139.7 258.6,139.8 262.6,139.8 266.5,139.7 270.4,139.5 274.3,139.2 278.2,138.9 282.1,138.5 286,138.3 289.9,138.1 293.8,138 297.7,138 301.6,138.2 305.5,138.4 309.4,138.7 313.3,139 317.2,139.3 321.1,139.6 325,139.7 328.9,139.8 332.8,139.8 336.7,139.6" fill="none" stroke="#cacaca" stroke-width="0.75"/>
<path d="M184.5,141.3 188.4,141.1 192.3,140.8 196.2,140.4 200.1,140.1 204,139.9 207.9,139.7 211.8,139.7 215.7,139.8 219.6,139.9 223.5,140.2 227.4,140.5 231.3,140.8 235.2,141.1 239.1,141.3 243,141.5 246.9,141.5 250.8,141.4 254.7,141.2 258.6,141 262.6,140.7 266.5,140.3 270.4,140.1 274.3,139.8 278.2,139.7 282.1,139.7 286,139.8 289.9,140 293.8,140.3 297.7,140.6 301.6,140.9 305.5,141.2 309.4,141.4 313.3,141.5 317.2,141.5 321.1,141.4 325,141.2 328.9,140.9 332.8,140.6 336.7,140.3" fill="none" stroke="#cacaca" stroke-width="0.75"/>
<path d="M184.7 29.1h0M232.3 17.5h0M264.3 32.5h0M272.4 20.5h0M279.5 26.5h0M286.7 20.5h0M329.6 26.5h0" stroke="#3030fc" stroke-width="1.8" stroke-linecap="round"/>
<path d="M184.4 31.2h0M184.4 39.6h0M200.4 50h0M200.6 62.6h0M208.6 29.3h0M208.2 33.5h0M208.4 37.7h0M224.3 21.1h0M224.4 25.3h0M224.1 33.7h0M232.2 56.8h0M240 30.5h0M256.3 30.6h0M256.3 32.7h0M256.2 39h0M264.1 52.9h0M279.4 57.2h0M286.8 56.2h0M293.8 37.5h0M293.9 41.7h0M300.9 25.1h0M308.2 21h0M308 46.2h0M308.2 48.3h0M308.3 50.4h0M308 52.5h0M315.1 42.9h0M315.1 53.4h0M322.6 41.7h0M322.5 43.8h0M329.7 33.2h0M184.5 131h0M184.5 133.5h0M200.2 140h0M232.3 124.5h0M232.1 129.5h0M240.3 134.5h0M248.4 132h0M256.5 139.5h0M264.4 139.5h0M272.4 124.5h0M279.7 137h0M286.9 132.5h0M300.9 127.5h0M308 135h0M322.2 140h0M329.4 130h0M329.5 132.5h0M336.6 132.5h0M336.5 140h0" stroke="#fc2424" stroke-width="3.0" stroke-linecap="round"/>
<path d="M184.6 35.4h0M184.7 45.9h0M200.5 35.3h0M216.3 27.3h0M216.5 44.1h0M216.2 46.2h0M224.2 37.9h0M224.3 52.6h0M232.4 29.5h0M248.1 25.3h0M248.2 48.4h0M256.2 20.1h0M256.4 26.4h0M256.3 53.7h0M264.3 40.3h0M272.2 58.1h0M286.7 39.4h0M286.5 54.1h0M293.8 52.2h0M301 35.6h0M301 50.3h0M301.2 56.6h0M308.1 42h0M322.4 33.3h0M322.4 37.5h0M336.6 35.2h0M336.8 43.6h0M336.9 47.8h0M336.5 56.2h0M264.3 119.5h0M272.4 119.5h0M279.5 119.5h0" stroke="#fc2424" stroke-width="3.4" stroke-linecap="round"/>
<path d="M184.5 37.5h0M184.4 50.1h0M192.4 34.3h0M192.5 61.6h0M200.3 47.9h0M200.5 52.1h0M208.3 44h0M208.5 46.1h0M216.3 21h0M224.4 48.4h0M232.3 31.6h0M232.3 37.9h0M232.4 44.2h0M240.1 28.4h0M240.4 34.7h0M240.3 47.3h0M256.3 34.8h0M256.4 36.9h0M279.4 34.1h0M279.3 59.3h0M286.7 35.2h0M301 33.5h0M300.8 37.7h0M308.3 56.7h0M322.4 31.2h0M322.3 45.9h0M329.4 41.6h0" stroke="#fc2424" stroke-width="3.8" stroke-linecap="round"/>
<path d="M184.5 41.7h0M192.5 38.5h0M192.3 42.7h0M200.3 29h0M200.4 37.4h0M200.4 54.2h0M200.5 58.4h0M208.4 50.3h0M208.4 54.5h0M216.5 48.3h0M224.2 31.6h0M232.2 33.7h0M232.3 58.9h0M256.1 47.4h0M256.2 49.5h0M272.4 39.2h0M272.2 43.4h0M272.5 56h0M279.5 42.5h0M279.6 53h0M286.5 41.5h0M301 27.2h0M301.1 54.5h0M308.1 31.5h0M308.2 44.1h0M308 54.6h0M307.9 60.9h0M315.3 26.1h0M315.2 38.7h0M322.4 35.4h0M336.5 54.1h0" stroke="#fc2424" stroke-width="3.6" stroke-linecap="round"/>
<path d="M184.5 43.8h0M192.6 44.8h0M208.2 23h0M208.2 48.2h0M216.1 39.9h0M216.2 58.8h0M224.5 23.2h0M232.3 46.3h0M248.4 29.5h0M248.3 33.7h0M248.4 50.5h0M256.2 18h0M256.1 55.8h0M264.3 42.4h0M279.4 38.3h0M279.5 48.8h0M301.1 39.8h0M301.1 46.1h0M300.8 60.8h0M308 29.4h0M308.2 37.8h0M315.3 28.2h0M315.1 30.3h0M315.1 49.2h0M322.3 39.6h0M322.6 56.4h0M329.7 43.7h0M329.7 52.1h0M192.4 132.5h0M216.4 140h0M224.4 140h0M240.3 139.5h0M286.6 130h0M293.8 132.5h0M294 135h0M301 140h0M315.1 135h0M329.6 127.5h0" stroke="#fc2424" stroke-width="2.6" stroke-linecap="round"/>
<path d="M184.4 48h0M216.2 23.1h0M224.3 54.7h0M232.4 19h0M232.1 23.2h0M240.1 24.2h0M240.2 55.7h0M264.4 34h0M264.2 50.8h0M272.3 41.3h0M279.3 36.2h0M279.4 50.9h0M286.6 31h0M293.7 35.4h0M301 41.9h0M301.1 52.4h0M307.9 23.1h0M315.3 47.1h0M322.4 48h0M336.6 49.9h0M192.3 140h0M200.3 135h0M216.4 130h0M240 129.5h0M256.2 132h0M264.3 137h0M286.5 127.5h0M301 137.5h0M308.2 127.5h0M315.2 130h0M315.4 140h0" stroke="#fc2424" stroke-width="2.4" stroke-linecap="round"/>
<path d="M184.6 54.3h0" stroke="#fc2424" stroke-width="4.0" stroke-linecap="round"/>
<path d="M184.4 60.6h0M192.7 46.9h0M216.1 56.7h0M216.3 60.9h0M224.2 58.9h0M256.3 28.5h0M322.5 52.2h0M279.3 127h0M286.6 135h0" stroke="#3030fc" stroke-width="2.8" stroke-linecap="round"/>
<path d="M184.5 17.5h0M192.5 17.5h0M336.7 17.5h0" stroke="#fc2424" stroke-width="1.0" stroke-linecap="round"/>
<path d="M184.5 20.5h0M192.5 23.5h0M200.4 20.5h0M200.4 23.5h0M208.4 20.5h0M264.3 17.5h0M279.5 17.5h0M279.5 20.5h0M279.5 29.5h0M308.1 17.5h0M315.3 17.5h0M322.4 17.5h0M329.6 20.5h0M336.7 29.5h0" stroke="#3030fc" stroke-width="1.4" stroke-linecap="round"/>
<path d="M184.5 23.5h0M192.5 20.5h0M272.4 23.5h0M279.5 23.5h0M286.7 23.5h0M301 17.5h0M336.7 26.5h0" stroke="#3030fc" stroke-width="1.6" stroke-linecap="round"/>
<path d="M184.5 56.1h0M192.5 57.4h0M200.4 59h0M208.4 60.8h0M216.3 62.5h0M224.3 63.8h0M232.3 64.3h0M240.2 64.3h0M248.2 67.5h0M256.3 70.1h0M264.3 71.6h0M272.4 72.2h0M279.5 71.6h0M286.7 70.3h0M293.8 68.7h0M301 66.1h0M308.1 64h0M315.3 62h0M322.4 60h0M329.6 58.5h0M336.7 57h0" stroke="#3030fc" stroke-width="4.8" stroke-linecap="round"/>
<path d="M192.4 30.1h0M224.3 108.7h0M232.3 112h0M240.2 114.9h0M248.2 115.5h0M256.3 114.5h0M264.3 113.5h0M272.4 112.5h0M279.5 114h0M286.7 115.5h0" stroke="#9c24d8" stroke-width="1.6" stroke-linecap="round"/>
<path d="M192.4 32.2h0M293.9 27h0M293.7 29.1h0M208.5 132.5h0" stroke="#fc2424" stroke-width="2.0" stroke-linecap="round"/>
<path d="M192.4 36.4h0M192.6 55.3h0M256.4 57.9h0M264.4 59.2h0M286.7 43.6h0M200.6 137.5h0M208.3 137.5h0M232.4 134.5h0M240.1 127h0M248.4 129.5h0M279.4 124.5h0" stroke="#3030fc" stroke-width="3.0" stroke-linecap="round"/>
<path d="M192.3 49h0M208.5 27.2h0M216.5 37.8h0M216.2 42h0M224.4 19h0M224.3 42.1h0M224.2 44.2h0M224.5 56.8h0M240.3 32.6h0M240 38.9h0M248.1 44.2h0M264.2 55h0M279.6 40.4h0M286.6 49.9h0M286.6 52h0M293.7 39.6h0M293.9 48h0M293.9 54.3h0M300.8 31.4h0M308.3 27.3h0M308.3 33.6h0M315.3 32.4h0M315.4 57.6h0M329.7 39.5h0M336.5 33.1h0M184.5 138.5h0M192.5 127.5h0M200.4 130h0M208.3 140h0M216.5 127.5h0M224.2 127.5h0M224.4 137.5h0M240.3 137h0M256.2 134.5h0M264.5 127h0M264.3 132h0M279.6 129.5h0M279.6 139.5h0M286.7 137.5h0M301 130h0M308.3 137.5h0M329.4 140h0M336.8 135h0" stroke="#fc2424" stroke-width="2.8" stroke-linecap="round"/>
<path d="M192.5 51.1h0M240.3 53.6h0M240.2 59.9h0M248.3 52.6h0M322.4 58.5h0M279.4 132h0" stroke="#9c24d8" stroke-width="2.8" stroke-linecap="round"/>
<path d="M192.4 53.2h0M216.3 54.6h0M293.6 56.4h0M315.1 51.3h0M336.8 39.4h0" stroke="#9c24d8" stroke-width="3.4" stroke-linecap="round"/>
<path d="M192.5 26.5h0M240.2 22.1h0M248.2 17.5h0M264.3 26.5h0M272.4 17.5h0M286.7 17.5h0M301 20.5h0M322.4 23.5h0M329.5 29h0M336.7 20.5h0" stroke="#fc2424" stroke-width="1.6" stroke-linecap="round"/>
<path d="M200.5 33.2h0M200.6 39.5h0M208.6 58.7h0M208.2 62.9h0M216.2 52.5h0M224.2 27.4h0M224.4 29.5h0M224.4 35.8h0M224.2 40h0M224.2 46.3h0M232.1 54.7h0M240.3 36.8h0M240.4 45.2h0M248.1 35.8h0M248.4 37.9h0M248.3 40h0M256.2 41.1h0M264.2 48.7h0M272.3 51.8h0M272.4 53.9h0M286.5 37.3h0M293.9 31.2h0M294 33.3h0M293.7 43.8h0M293.7 45.9h0M301 29.3h0M301.1 44h0M308 25.2h0M307.9 35.7h0M308.2 39.9h0M315.1 34.5h0M315.5 36.6h0M315.2 40.8h0M322.5 50.1h0M329.6 54.2h0M336.7 31h0M336.7 37.3h0M192.5 137.5h0M200.4 127.5h0M208.3 127.5h0M216.2 135h0M232.2 127h0M248.1 134.5h0M248.3 137h0M272.6 134.5h0M279.4 134.5h0M293.7 137.5h0M300.8 132.5h0M322.3 130h0M336.7 127.5h0" stroke="#fc2424" stroke-width="3.2" stroke-linecap="round"/>
<path d="M200.5 43.7h0M256.2 45.3h0M300.9 58.7h0" stroke="#3030fc" stroke-width="3.6" stroke-linecap="round"/>
<path d="M200.3 60.5h0M300.9 48.2h0M336.8 45.7h0M315.1 137.5h0" stroke="#9c24d8" stroke-width="3.0" stroke-linecap="round"/>
<path d="M200.4 17.5h0M329.6 17.5h0" stroke="#fc2424" stroke-width="1.2" stroke-linecap="round"/>
<path d="M200.4 26.5h0M240.2 17.5h0M286.7 29.5h0M293.8 23.5h0" stroke="#fc2424" stroke-width="1.4" stroke-linecap="round"/>
<path d="M208.5 25.1h0M232.2 21.1h0M248.1 23.2h0M272.4 35h0M272.4 26.5h0M272.4 32.5h0M329.5 31.1h0" stroke="#fc2424" stroke-width="1.8" stroke-linecap="round"/>
<path d="M208.3 56.6h0M216.2 31.5h0M248.2 56.8h0" stroke="#3030fc" stroke-width="3.4" stroke-linecap="round"/>
<path d="M208.3 60.8h0M216.5 29.4h0M264.4 57.1h0M272.3 49.7h0M308 140h0" stroke="#9c24d8" stroke-width="3.2" stroke-linecap="round"/>
<path d="M208.4 17.5h0M216.3 17.5h0M264.3 20.5h0M264.3 23.5h0M272.4 29.5h0M286.7 26.5h0M293.8 20.5h0" stroke="#3030fc" stroke-width="1.0" stroke-linecap="round"/>
<path d="M216.4 50.4h0M248.2 31.6h0M256.1 60h0M216.3 38h0M224.3 37.5h0M232.3 37.5h0M240.2 37.8h0M248.2 38h0M256.3 38h0M264.3 37.4h0M272.4 37.7h0M279.5 37.5h0M286.7 38h0M293.8 38h0M256.5 137h0M286.7 123.6h0M293.8 122.6h0M301 122h0" stroke="#3030fc" stroke-width="3.2" stroke-linecap="round"/>
<path d="M224.3 50.5h0M232.3 48.4h0M315.4 59.7h0M329.4 56.3h0M264.3 129.5h0M272.4 129.5h0M279.5 129.5h0" stroke="#9c24d8" stroke-width="3.6" stroke-linecap="round"/>
<path d="M224.3 17.5h0M264.3 29.5h0M293.8 17.5h0M315.3 20.5h0M322.4 20.5h0M329.6 23.5h0M336.7 23.5h0" stroke="#3030fc" stroke-width="1.2" stroke-linecap="round"/>
<path d="M248.2 58.9h0" stroke="#9c24d8" stroke-width="3.8" stroke-linecap="round"/>
<path d="M256.2 51.6h0M293.8 58.5h0M216.3 137.5h0M272.4 132h0M272.2 137h0" stroke="#3030fc" stroke-width="2.6" stroke-linecap="round"/>
<path d="M264.3 36.1h0M264.4 38.2h0M286.8 33.1h0M301 23h0M322.4 27h0M192.3 130h0M200.5 132.5h0M208.4 130h0M208.2 135h0M224.2 132.5h0M240.1 124.5h0M248.4 127h0M256.2 129.5h0M272.3 139.5h0M286.7 140h0M308.2 132.5h0M315.3 132.5h0M329.6 135h0M329.4 137.5h0M336.7 137.5h0" stroke="#fc2424" stroke-width="2.2" stroke-linecap="round"/>
<path d="M279.5 32h0M293.6 60.6h0M264.3 126h0M272.4 126h0M279.5 126h0" stroke="#3030fc" stroke-width="3.8" stroke-linecap="round"/>
<path d="M216.3 57.6h0M224.3 56.3h0M232.3 56.3h0M240.2 56.3h0M248.2 56.3h0M256.3 56.3h0M264.3 56.3h0M272.4 56.3h0M279.5 56.3h0M286.7 56.3h0M293.8 56.3h0M301 56.3h0M308.1 56.3h0M315.3 56.3h0M322.4 56.3h0M329.6 56.3h0M336.7 56.3h0M184.5 121.6h0M192.5 121.6h0M200.4 121.6h0M208.4 121.6h0M216.3 121.6h0M224.3 121.6h0M232.3 122.7h0M240.2 122.5h0M248.2 123.2h0M256.3 122.7h0M308.1 121.5h0M315.3 121.5h0M322.4 121.5h0M329.6 121.5h0M336.7 121.5h0" stroke="#3030fc" stroke-width="4.0" stroke-linecap="round"/>
<path d="M184.5 100.6h0M192.5 100.9h0M200.4 101.4h0M208.4 102.2h0M216.3 103.4h0M224.3 104.8h0M232.3 106.8h0M240.2 108.9h0M248.2 110.2h0M256.3 111.3h0M264.3 112h0M272.4 112.4h0M279.5 110.2h0M286.7 107.7h0M293.8 105.6h0M301 104.2h0M308.1 103.1h0M315.3 101.9h0M322.4 101.4h0M329.6 101h0M336.7 100.9h0" stroke="#3030fc" stroke-width="2.0" stroke-linecap="round"/>
<path d="M216.2 132.5h0M256.4 124.5h0M264.4 134.5h0M272.5 129.5h0" stroke="#3030fc" stroke-width="2.4" stroke-linecap="round"/>
<path d="M232.2 139.5h0" stroke="#9c24d8" stroke-width="2.4" stroke-linecap="round"/>
<path d="M293.9 140h0" stroke="#3030fc" stroke-width="2.2" stroke-linecap="round"/>
<path d="M216.6 118.7h0M224.3 114.1h0M232.3 111.5h0M240.3 110h0" stroke="#9c24d8" stroke-width="1.4" stroke-linecap="round"/>
</g>
<g clip-path="url(#cc)">
<path d="M348.4,17.2 352.3,16.8 356.2,16.5 360.1,16.3 364,16.3 368,16.6 371.9,16.9 375.8,17.4 379.7,17.8 383.6,18.2 387.5,18.5 391.4,18.7 395.3,18.7 399.2,18.5 403.1,18.1 407.1,17.7 411,17.2 414.9,16.8 418.8,16.5 422.7,16.3 426.6,16.3 430.5,16.5 434.4,16.9 438.3,17.3 442.2,17.8 446.2,18.2 450.1,18.5 454,18.7 457.9,18.7 461.8,18.5 465.7,18.1 469.6,17.7 473.5,17.2 477.4,16.8 481.3,16.5 485.3,16.3 489.2,16.3 493.1,16.5 497,16.9 500.9,17.3" fill="none" stroke="#cacaca" stroke-width="0.75"/>
<path d="M348.4,18.2 352.3,18.1 356.2,18.2 360.1,18.5 364,18.8 368,19.3 371.9,19.8 375.8,20.1 379.7,20.4 383.6,20.5 387.5,20.4 391.4,20.2 395.3,19.8 399.2,19.3 403.1,18.9 407.1,18.5 411,18.2 414.9,18.1 418.8,18.2 422.7,18.4 426.6,18.8 430.5,19.3 434.4,19.7 438.3,20.1 442.2,20.4 446.2,20.5 450.1,20.4 454,20.2 457.9,19.8 461.8,19.4 465.7,18.9 469.6,18.5 473.5,18.2 477.4,18.1 481.3,18.2 485.3,18.4 489.2,18.8 493.1,19.2 497,19.7 500.9,20.1" fill="none" stroke="#cacaca" stroke-width="0.75"/>
<path d="M348.4,20.1 352.3,20.4 356.2,20.8 360.1,21.2 364,21.7 368,22 371.9,22.3 375.8,22.3 379.7,22.2 383.6,21.9 387.5,21.4 391.4,21 395.3,20.5 399.2,20.2 403.1,20 407.1,19.9 411,20 414.9,20.3 418.8,20.7 422.7,21.2 426.6,21.7 430.5,22 434.4,22.2 438.3,22.3 442.2,22.2 446.2,21.9 450.1,21.5 454,21 457.9,20.6 461.8,20.2 465.7,20 469.6,19.9 473.5,20 477.4,20.3 481.3,20.7 485.3,21.2 489.2,21.6 493.1,22 497,22.2 500.9,22.3" fill="none" stroke="#cacaca" stroke-width="0.75"/>
<path d="M348.4,22.7 352.3,23.2 356.2,23.6 360.1,23.9 364,24.1 368,24.1 371.9,23.9 375.8,23.5 379.7,23.1 383.6,22.6 387.5,22.2 391.4,21.9 395.3,21.7 399.2,21.7 403.1,21.9 407.1,22.2 411,22.7 414.9,23.1 418.8,23.6 422.7,23.9 426.6,24.1 430.5,24.1 434.4,23.9 438.3,23.6 442.2,23.1 446.2,22.7 450.1,22.2 454,21.9 457.9,21.7 461.8,21.7 465.7,21.9 469.6,22.2 473.5,22.6 477.4,23.1 481.3,23.5 485.3,23.9 489.2,24.1 493.1,24.1 497,23.9 500.9,23.6" fill="none" stroke="#cacaca" stroke-width="0.75"/>
<path d="M348.4,25.5 352.3,25.8 356.2,25.9 360.1,25.8 364,25.6 368,25.2 371.9,24.8 375.8,24.3 379.7,23.9 383.6,23.6 387.5,23.5 391.4,23.6 395.3,23.8 399.2,24.2 403.1,24.6 407.1,25.1 411,25.5 414.9,25.8 418.8,25.9 422.7,25.8 426.6,25.6 430.5,25.2 434.4,24.8 438.3,24.3 442.2,23.9 446.2,23.6 450.1,23.5 454,23.6 457.9,23.8 461.8,24.1 465.7,24.6 469.6,25.1 473.5,25.5 477.4,25.8 481.3,25.9 485.3,25.9 489.2,25.6 493.1,25.3 497,24.8 500.9,24.4" fill="none" stroke="#cacaca" stroke-width="0.75"/>
<path d="M348.4,27.7 352.3,27.6 356.2,27.3 360.1,26.9 364,26.4 368,26 371.9,25.6 375.8,25.4 379.7,25.3 383.6,25.4 387.5,25.7 391.4,26.1 395.3,26.6 399.2,27 403.1,27.4 407.1,27.6 411,27.7 414.9,27.6 418.8,27.3 422.7,26.9 426.6,26.5 430.5,26 434.4,25.6 438.3,25.4 442.2,25.3 446.2,25.4 450.1,25.7 454,26.1 457.9,26.5 461.8,27 465.7,27.4 469.6,27.6 473.5,27.7 477.4,27.6 481.3,27.3 485.3,26.9 489.2,26.5 493.1,26 497,25.6 500.9,25.4" fill="none" stroke="#cacaca" stroke-width="0.75"/>
<path d="M348.4,29 352.3,28.5 356.2,28.1 360.1,27.7 364,27.3 368,27.1 371.9,27.1 375.8,27.3 379.7,27.6 383.6,28 387.5,28.5 391.4,28.9 395.3,29.3 399.2,29.5 403.1,29.5 407.1,29.3 411,29 414.9,28.6 418.8,28.1 422.7,27.7 426.6,27.3 430.5,27.1 434.4,27.1 438.3,27.3 442.2,27.6 446.2,28 450.1,28.5 454,28.9 457.9,29.3 461.8,29.5 465.7,29.5 469.6,29.3 473.5,29 477.4,28.6 481.3,28.1 485.3,27.7 489.2,27.4 493.1,27.1 497,27.1 500.9,27.3" fill="none" stroke="#cacaca" stroke-width="0.75"/>
<path d="M348.4,29.7 352.3,29.3 356.2,29 360.1,28.9 364,29 368,29.2 371.9,29.5 375.8,30 379.7,30.4 383.6,30.9 387.5,31.2 391.4,31.3 395.3,31.3 399.2,31 403.1,30.7 407.1,30.2 411,29.8 414.9,29.4 418.8,29.1 422.7,28.9 426.6,28.9 430.5,29.1 434.4,29.5 438.3,29.9 442.2,30.4 446.2,30.8 450.1,31.1 454,31.3 457.9,31.3 461.8,31.1 465.7,30.7 469.6,30.3 473.5,29.8 477.4,29.4 481.3,29.1 485.3,28.9 489.2,28.9 493.1,29.1 497,29.5 500.9,29.9" fill="none" stroke="#cacaca" stroke-width="0.75"/>
<path d="M348.4,30.8 352.3,30.7 356.2,30.8 360.1,31.1 364,31.5 368,31.9 371.9,32.4 375.8,32.8 379.7,33 383.6,33.1 387.5,33 391.4,32.7 395.3,32.4 399.2,31.9 403.1,31.4 407.1,31.1 411,30.8 414.9,30.7 418.8,30.8 422.7,31 426.6,31.4 430.5,31.9 434.4,32.3 438.3,32.7 442.2,33 446.2,33.1 450.1,33 454,32.8 457.9,32.4 461.8,31.9 465.7,31.5 469.6,31.1 473.5,30.8 477.4,30.7 481.3,30.8 485.3,31 489.2,31.4 493.1,31.9 497,32.3 500.9,32.7" fill="none" stroke="#cacaca" stroke-width="0.75"/>
<path d="M348.4,32.7 352.3,33 356.2,33.4 360.1,33.9 364,34.3 368,34.6 371.9,34.9 375.8,34.9 379.7,34.7 383.6,34.4 387.5,34 391.4,33.6 395.3,33.1 399.2,32.8 403.1,32.5 407.1,32.5 411,32.6 414.9,32.9 418.8,33.4 422.7,33.8 426.6,34.3 430.5,34.6 434.4,34.8 438.3,34.9 442.2,34.8 446.2,34.5 450.1,34.1 454,33.6 457.9,33.1 461.8,32.8 465.7,32.6 469.6,32.5 473.5,32.6 477.4,32.9 481.3,33.3 485.3,33.8 489.2,34.2 493.1,34.6 497,34.8 500.9,34.9" fill="none" stroke="#cacaca" stroke-width="0.75"/>
<path d="M348.4,35.3 352.3,35.8 356.2,36.2 360.1,36.5 364,36.7 368,36.7 371.9,36.5 375.8,36.1 379.7,35.7 383.6,35.2 387.5,34.8 391.4,34.5 395.3,34.3 399.2,34.3 403.1,34.5 407.1,34.9 411,35.3 414.9,35.8 418.8,36.2 422.7,36.5 426.6,36.7 430.5,36.7 434.4,36.5 438.3,36.2 442.2,35.7 446.2,35.3 450.1,34.8 454,34.5 457.9,34.3 461.8,34.3 465.7,34.5 469.6,34.8 473.5,35.3 477.4,35.7 481.3,36.2 485.3,36.5 489.2,36.7 493.1,36.7 497,36.5 500.9,36.2" fill="none" stroke="#cacaca" stroke-width="0.75"/>
<path d="M348.4,38.1 352.3,38.4 356.2,38.5 360.1,38.4 364,38.2 368,37.8 371.9,37.3 375.8,36.9 379.7,36.5 383.6,36.2 387.5,36.1 391.4,36.2 395.3,36.4 399.2,36.8 403.1,37.2 407.1,37.7 411,38.1 414.9,38.4 418.8,38.5 422.7,38.4 426.6,38.2 430.5,37.8 434.4,37.4 438.3,36.9 442.2,36.5 446.2,36.2 450.1,36.1 454,36.2 457.9,36.4 461.8,36.8 465.7,37.2 469.6,37.7 473.5,38.1 477.4,38.4 481.3,38.5 485.3,38.4 489.2,38.2 493.1,37.9 497,37.4 500.9,36.9" fill="none" stroke="#cacaca" stroke-width="0.75"/>
<path d="M348.4,40.3 352.3,40.2 356.2,39.9 360.1,39.5 364,39 368,38.6 371.9,38.2 375.8,38 379.7,37.9 383.6,38 387.5,38.3 391.4,38.7 395.3,39.2 399.2,39.6 403.1,40 407.1,40.2 411,40.3 414.9,40.2 418.8,39.9 422.7,39.5 426.6,39 430.5,38.6 434.4,38.2 438.3,38 442.2,37.9 446.2,38 450.1,38.3 454,38.7 457.9,39.1 461.8,39.6 465.7,40 469.6,40.2 473.5,40.3 477.4,40.2 481.3,39.9 485.3,39.5 489.2,39.1 493.1,38.6 497,38.2 500.9,38" fill="none" stroke="#cacaca" stroke-width="0.75"/>
<path d="M348.4,41.6 352.3,41.1 356.2,40.7 360.1,40.2 364,39.9 368,39.7 371.9,39.7 375.8,39.9 379.7,40.2 383.6,40.7 387.5,41.1 391.4,41.6 395.3,41.9 399.2,42.1 403.1,42.1 407.1,41.9 411,41.6 414.9,41.2 418.8,40.7 422.7,40.3 426.6,39.9 430.5,39.7 434.4,39.7 438.3,39.9 442.2,40.2 446.2,40.6 450.1,41.1 454,41.5 457.9,41.9 461.8,42.1 465.7,42.1 469.6,41.9 473.5,41.6 477.4,41.2 481.3,40.7 485.3,40.3 489.2,39.9 493.1,39.7 497,39.7 500.9,39.9" fill="none" stroke="#cacaca" stroke-width="0.75"/>
<path d="M348.4,42.3 352.3,41.9 356.2,41.6 360.1,41.5 364,41.6 368,41.8 371.9,42.1 375.8,42.6 379.7,43.1 383.6,43.5 387.5,43.8 391.4,43.9 395.3,43.8 399.2,43.6 403.1,43.3 407.1,42.8 411,42.4 414.9,41.9 418.8,41.6 422.7,41.5 426.6,41.5 430.5,41.8 434.4,42.1 438.3,42.6 442.2,43 446.2,43.4 450.1,43.7 454,43.9 457.9,43.9 461.8,43.6 465.7,43.3 469.6,42.9 473.5,42.4 477.4,42 481.3,41.7 485.3,41.5 489.2,41.5 493.1,41.7 497,42.1 500.9,42.5" fill="none" stroke="#cacaca" stroke-width="0.75"/>
<path d="M348.4,43.4 352.3,43.3 356.2,43.4 360.1,43.7 364,44.1 368,44.5 371.9,45 375.8,45.4 379.7,45.6 383.6,45.7 387.5,45.6 391.4,45.3 395.3,44.9 399.2,44.5 403.1,44 407.1,43.6 411,43.4 414.9,43.3 418.8,43.4 422.7,43.7 426.6,44 430.5,44.5 434.4,45 438.3,45.3 442.2,45.6 446.2,45.7 450.1,45.6 454,45.4 457.9,45 461.8,44.5 465.7,44.1 469.6,43.7 473.5,43.4 477.4,43.3 481.3,43.4 485.3,43.6 489.2,44 493.1,44.5 497,44.9 500.9,45.3" fill="none" stroke="#cacaca" stroke-width="0.75"/>
<path d="M348.4,45.3 352.3,45.7 356.2,46.3 360.1,47 364,47.5 368,48 371.9,48.4 375.8,48.6 379.7,48.5 383.6,48.4 387.5,48 391.4,47.7 395.3,47.3 399.2,47.1 403.1,46.9 407.1,47 411,47.2 414.9,47.5 418.8,48 422.7,48.4 426.6,48.9 430.5,49.2 434.4,49.4 438.3,49.4 442.2,49.2 446.2,48.9 450.1,48.4 454,47.8 457.9,47.3 461.8,46.8 465.7,46.5 469.6,46.3 473.5,46.3 477.4,46.5 481.3,46.7 485.3,47 489.2,47.3 493.1,47.5 497,47.6 500.9,47.5" fill="none" stroke="#cacaca" stroke-width="0.75"/>
<path d="M348.4,47.9 352.3,48.6 356.2,49.2 360.1,49.6 364,49.9 368,50 371.9,50 375.8,49.8 379.7,49.5 383.6,49.1 387.5,48.8 391.4,48.6 395.3,48.6 399.2,48.7 403.1,48.9 407.1,49.3 411,49.8 414.9,50.3 418.8,50.8 422.7,51.1 426.6,51.3 430.5,51.3 434.4,51 438.3,50.7 442.2,50.2 446.2,49.6 450.1,49.1 454,48.7 457.9,48.5 461.8,48.4 465.7,48.4 469.6,48.7 473.5,49 477.4,49.3 481.3,49.6 485.3,49.7 489.2,49.8 493.1,49.6 497,49.3 500.9,48.8" fill="none" stroke="#cacaca" stroke-width="0.75"/>
<path d="M348.4,50.7 352.3,51.2 356.2,51.4 360.1,51.5 364,51.4 368,51.2 371.9,50.9 375.8,50.5 379.7,50.3 383.6,50.1 387.5,50.1 391.4,50.3 395.3,50.7 399.2,51.1 403.1,51.7 407.1,52.2 411,52.6 414.9,52.9 418.8,53.1 422.7,53 426.6,52.8 430.5,52.4 434.4,51.9 438.3,51.4 442.2,51 446.2,50.6 450.1,50.4 454,50.4 457.9,50.6 461.8,50.8 465.7,51.2 469.6,51.5 473.5,51.8 477.4,51.9 481.3,51.9 485.3,51.7 489.2,51.3 493.1,50.8 497,50.2 500.9,49.5" fill="none" stroke="#cacaca" stroke-width="0.75"/>
<path d="M348.4,52.9 352.3,52.9 356.2,52.8 360.1,52.5 364,52.2 368,51.9 371.9,51.7 375.8,51.6 379.7,51.7 383.6,52 387.5,52.4 391.4,52.9 395.3,53.4 399.2,54 403.1,54.4 407.1,54.7 411,54.8 414.9,54.7 418.8,54.5 422.7,54.1 426.6,53.6 430.5,53.2 434.4,52.8 438.3,52.5 442.2,52.4 446.2,52.4 450.1,52.6 454,53 457.9,53.3 461.8,53.7 465.7,53.9 469.6,54 473.5,54 477.4,53.7 481.3,53.3 485.3,52.7 489.2,52.1 493.1,51.5 497,51 500.9,50.6" fill="none" stroke="#cacaca" stroke-width="0.75"/>
<path d="M348.4,54.1 352.3,53.9 356.2,53.6 360.1,53.3 364,53.1 368,53.1 371.9,53.3 375.8,53.6 379.7,54 383.6,54.6 387.5,55.2 391.4,55.7 395.3,56.1 399.2,56.4 403.1,56.5 407.1,56.4 411,56.1 414.9,55.7 418.8,55.3 422.7,54.8 426.6,54.5 430.5,54.3 434.4,54.3 438.3,54.4 442.2,54.7 446.2,55 450.1,55.4 454,55.8 457.9,56 461.8,56.1 465.7,56 469.6,55.7 473.5,55.3 477.4,54.7 481.3,54.1 485.3,53.5 489.2,53 493.1,52.7 497,52.5 500.9,52.5" fill="none" stroke="#cacaca" stroke-width="0.75"/>
<path d="M348.4,54.9 352.3,54.7 356.2,54.5 360.1,54.6 364,54.8 368,55.2 371.9,55.7 375.8,56.3 379.7,56.9 383.6,57.4 387.5,57.8 391.4,58 395.3,58.1 399.2,57.9 403.1,57.7 407.1,57.3 411,56.9 414.9,56.5 418.8,56.2 422.7,56.1 426.6,56.2 430.5,56.4 434.4,56.7 438.3,57.1 442.2,57.5 446.2,57.9 450.1,58.1 454,58.1 457.9,58 461.8,57.7 465.7,57.2 469.6,56.6 473.5,56 477.4,55.5 481.3,55 485.3,54.7 489.2,54.6 493.1,54.7 497,54.9 500.9,55.2" fill="none" stroke="#cacaca" stroke-width="0.75"/>
<path d="M348.4,56 352.3,56.1 356.2,56.3 360.1,56.8 364,57.3 368,57.9 371.9,58.5 375.8,59.1 379.7,59.4 383.6,59.6 387.5,59.6 391.4,59.5 395.3,59.2 399.2,58.8 403.1,58.4 407.1,58.1 411,57.9 414.9,57.9 418.8,58 422.7,58.3 426.6,58.7 430.5,59.1 434.4,59.5 438.3,59.9 442.2,60.1 446.2,60.1 450.1,59.9 454,59.6 457.9,59.1 461.8,58.5 465.7,58 469.6,57.5 473.5,57.1 477.4,56.8 481.3,56.8 485.3,56.9 489.2,57.1 493.1,57.4 497,57.7 500.9,57.9" fill="none" stroke="#cacaca" stroke-width="0.75"/>
<path d="M348.4,57.9 352.3,58.4 356.2,59 360.1,59.6 364,60.2 368,60.7 371.9,61 375.8,61.2 379.7,61.1 383.6,60.9 387.5,60.6 391.4,60.3 395.3,59.9 399.2,59.7 403.1,59.5 407.1,59.6 411,59.8 414.9,60.1 418.8,60.6 422.7,61.1 426.6,61.5 430.5,61.8 434.4,62 438.3,62 442.2,61.8 446.2,61.4 450.1,60.9 454,60.4 457.9,59.9 461.8,59.4 465.7,59.1 469.6,58.9 473.5,58.9 477.4,59.1 481.3,59.4 485.3,59.7 489.2,60 493.1,60.2 497,60.2 500.9,60.1" fill="none" stroke="#cacaca" stroke-width="0.75"/>
<path d="M348.4,60.6 352.3,61.2 356.2,61.8 360.1,62.2 364,62.5 368,62.6 371.9,62.6 375.8,62.4 379.7,62 383.6,61.7 387.5,61.4 391.4,61.2 395.3,61.2 399.2,61.3 403.1,61.6 407.1,62 411,62.5 414.9,63 418.8,63.4 422.7,63.7 426.6,63.9 430.5,63.8 434.4,63.6 438.3,63.2 442.2,62.7 446.2,62.2 450.1,61.7 454,61.3 457.9,61.1 461.8,61 465.7,61.1 469.6,61.3 473.5,61.6 477.4,61.9 481.3,62.2 485.3,62.4 489.2,62.4 493.1,62.2 497,61.8 500.9,61.3" fill="none" stroke="#cacaca" stroke-width="0.75"/>
<path d="M348.4,63.4 352.3,63.8 356.2,64 360.1,64.1 364,64 368,63.7 371.9,63.4 375.8,63.1 379.7,62.9 383.6,62.7 387.5,62.7 391.4,62.9 395.3,63.3 399.2,63.8 403.1,64.3 407.1,64.8 411,65.3 414.9,65.6 418.8,65.7 422.7,65.6 426.6,65.4 430.5,65 434.4,64.5 438.3,64 442.2,63.6 446.2,63.2 450.1,63 454,63 457.9,63.2 461.8,63.4 465.7,63.8 469.6,64.1 473.5,64.4 477.4,64.5 481.3,64.5 485.3,64.3 489.2,63.9 493.1,63.3 497,62.7 500.9,62.1" fill="none" stroke="#cacaca" stroke-width="0.75"/>
<path d="M348.4,64 500.9,70" fill="none" stroke="#d6d6d6" stroke-width="0.55"/>
<path d="M348.4,70 500.9,64" fill="none" stroke="#d6d6d6" stroke-width="0.55"/>
<path d="M348.4,66 500.9,80" fill="none" stroke="#d6d6d6" stroke-width="0.55"/>
<path d="M348.4,82 500.9,68" fill="none" stroke="#d6d6d6" stroke-width="0.55"/>
<path d="M348.4,104 500.9,84" fill="none" stroke="#d6d6d6" stroke-width="0.55"/>
<path d="M348.4,86 500.9,106" fill="none" stroke="#d6d6d6" stroke-width="0.55"/>
<path d="M348.4,107.3 352.3,107.1 356.2,107 360.1,107 364,107.1 368,107.3 371.9,107.6 375.8,107.9 379.7,108.2 383.6,108.5 387.5,108.8 391.4,108.9 395.3,109 399.2,109 403.1,108.8 407.1,108.6 411,108.3 414.9,108 418.8,107.7 422.7,107.4 426.6,107.2 430.5,107 434.4,107 438.3,107.1 442.2,107.3 446.2,107.5 450.1,107.8 454,108.1 457.9,108.4 461.8,108.7 465.7,108.9 469.6,109 473.5,109 477.4,108.9 481.3,108.7 485.3,108.4 489.2,108.1 493.1,107.8 497,107.5 500.9,107.2" fill="none" stroke="#cacaca" stroke-width="0.75"/>
<path d="M348.4,108.8 352.3,109 356.2,109.2 360.1,109.5 364,109.8 368,110.1 371.9,110.4 375.8,110.6 379.7,110.8 383.6,110.8 387.5,110.7 391.4,110.5 395.3,110.3 399.2,110 403.1,109.7 407.1,109.4 411,109.1 414.9,108.9 418.8,108.8 422.7,108.8 426.6,108.9 430.5,109.1 434.4,109.4 438.3,109.7 442.2,110.1 446.2,110.3 450.1,110.6 454,110.7 457.9,110.8 461.8,110.8 465.7,110.6 469.6,110.4 473.5,110.1 477.4,109.8 481.3,109.4 485.3,109.2 489.2,108.9 493.1,108.8 497,108.8 500.9,108.9" fill="none" stroke="#cacaca" stroke-width="0.75"/>
<path d="M348.4,111.4 352.3,111.7 356.2,112.1 360.1,112.3 364,112.5 368,112.6 371.9,112.6 375.8,112.5 379.7,112.3 383.6,112 387.5,111.7 391.4,111.3 395.3,111 399.2,110.8 403.1,110.7 407.1,110.6 411,110.7 414.9,110.8 418.8,111 422.7,111.3 426.6,111.7 430.5,112 434.4,112.2 438.3,112.5 442.2,112.6 446.2,112.6 450.1,112.5 454,112.3 457.9,112.1 461.8,111.8 465.7,111.4 469.6,111.1 473.5,110.9 477.4,110.7 481.3,110.6 485.3,110.6 489.2,110.7 493.1,111 497,111.2 500.9,111.6" fill="none" stroke="#cacaca" stroke-width="0.75"/>
<path d="M348.4,114.2 352.3,114.3 356.2,114.4 360.1,114.3 364,114.2 368,114 371.9,113.7 375.8,113.3 379.7,113 383.6,112.7 387.5,112.5 391.4,112.4 395.3,112.4 399.2,112.5 403.1,112.7 407.1,112.9 411,113.2 414.9,113.6 418.8,113.9 422.7,114.1 426.6,114.3 430.5,114.4 434.4,114.4 438.3,114.2 442.2,114 446.2,113.8 450.1,113.4 454,113.1 457.9,112.8 461.8,112.6 465.7,112.4 469.6,112.4 473.5,112.5 477.4,112.6 481.3,112.9 485.3,113.2 489.2,113.5 493.1,113.8 497,114.1 500.9,114.3" fill="none" stroke="#cacaca" stroke-width="0.75"/>
<path d="M348.4,116.1 352.3,115.9 356.2,115.7 360.1,115.3 364,115 368,114.7 371.9,114.5 375.8,114.3 379.7,114.2 383.6,114.2 387.5,114.4 391.4,114.6 395.3,114.9 399.2,115.2 403.1,115.5 407.1,115.8 411,116 414.9,116.2 418.8,116.2 422.7,116.1 426.6,116 430.5,115.7 434.4,115.4 438.3,115.1 442.2,114.8 446.2,114.5 450.1,114.3 454,114.2 457.9,114.2 461.8,114.3 465.7,114.5 469.6,114.8 473.5,115.1 477.4,115.4 481.3,115.7 485.3,116 489.2,116.1 493.1,116.2 497,116.2 500.9,116" fill="none" stroke="#cacaca" stroke-width="0.75"/>
<path d="M348.4,117 352.3,116.7 356.2,116.4 360.1,116.2 364,116 368,116 371.9,116.1 375.8,116.2 379.7,116.5 383.6,116.8 387.5,117.1 391.4,117.4 395.3,117.7 399.2,117.9 403.1,118 407.1,118 411,117.9 414.9,117.7 418.8,117.4 422.7,117.1 426.6,116.8 430.5,116.5 434.4,116.2 438.3,116.1 442.2,116 446.2,116 450.1,116.2 454,116.4 457.9,116.7 461.8,117 465.7,117.3 469.6,117.6 473.5,117.8 477.4,118 481.3,118 485.3,117.9 489.2,117.8 493.1,117.5 497,117.2 500.9,116.9" fill="none" stroke="#cacaca" stroke-width="0.75"/>
<path d="M348.4,117.9 352.3,117.8 356.2,117.8 360.1,117.9 364,118.1 368,118.4 371.9,118.7 375.8,119 379.7,119.3 383.6,119.6 387.5,119.7 391.4,119.8 395.3,119.8 399.2,119.6 403.1,119.4 407.1,119.1 411,118.8 414.9,118.5 418.8,118.2 422.7,118 426.6,117.8 430.5,117.8 434.4,117.9 438.3,118 442.2,118.3 446.2,118.6 450.1,118.9 454,119.2 457.9,119.5 461.8,119.7 465.7,119.8 469.6,119.8 473.5,119.7 477.4,119.5 481.3,119.2 485.3,118.9 489.2,118.6 493.1,118.3 497,118 500.9,117.9" fill="none" stroke="#cacaca" stroke-width="0.75"/>
<path d="M348.4,119.8 352.3,120 356.2,120.3 360.1,120.6 364,120.9 368,121.2 371.9,121.4 375.8,121.6 379.7,121.6 383.6,121.5 387.5,121.4 391.4,121.1 395.3,120.8 399.2,120.5 403.1,120.2 407.1,119.9 411,119.7 414.9,119.6 418.8,119.6 422.7,119.7 426.6,119.9 430.5,120.2 434.4,120.5 438.3,120.8 442.2,121.1 446.2,121.4 450.1,121.5 454,121.6 457.9,121.6 461.8,121.4 465.7,121.2 469.6,120.9 473.5,120.6 477.4,120.2 481.3,120 485.3,119.8 489.2,119.6 493.1,119.6 497,119.7 500.9,119.9" fill="none" stroke="#cacaca" stroke-width="0.75"/>
<path d="M348.4,122.5 352.3,122.8 356.2,123.1 360.1,123.3 364,123.4 368,123.4 371.9,123.3 375.8,123.1 379.7,122.8 383.6,122.5 387.5,122.2 391.4,121.9 395.3,121.6 399.2,121.5 403.1,121.4 407.1,121.4 411,121.6 414.9,121.8 418.8,122.1 422.7,122.4 426.6,122.8 430.5,123 434.4,123.3 438.3,123.4 442.2,123.4 446.2,123.3 450.1,123.1 454,122.9 457.9,122.6 461.8,122.2 465.7,121.9 469.6,121.7 473.5,121.5 477.4,121.4 481.3,121.4 485.3,121.5 489.2,121.8 493.1,122 497,122.4 500.9,122.7" fill="none" stroke="#cacaca" stroke-width="0.75"/>
<path d="M348.4,125.1 352.3,125.2 356.2,125.2 360.1,125 364,124.8 368,124.5 371.9,124.2 375.8,123.8 379.7,123.6 383.6,123.3 387.5,123.2 391.4,123.2 395.3,123.3 399.2,123.5 403.1,123.7 407.1,124 411,124.4 414.9,124.7 418.8,124.9 422.7,125.1 426.6,125.2 430.5,125.2 434.4,125.1 438.3,124.8 442.2,124.6 446.2,124.2 450.1,123.9 454,123.6 457.9,123.4 461.8,123.2 465.7,123.2 469.6,123.3 473.5,123.4 477.4,123.7 481.3,123.9 485.3,124.3 489.2,124.6 493.1,124.9 497,125.1 500.9,125.2" fill="none" stroke="#cacaca" stroke-width="0.75"/>
<path d="M348.4,126.7 352.3,126.5 356.2,126.2 360.1,125.8 364,125.5 368,125.3 371.9,125.1 375.8,125 379.7,125 383.6,125.1 387.5,125.4 391.4,125.6 395.3,126 399.2,126.3 403.1,126.6 407.1,126.8 411,127 414.9,127 418.8,126.9 422.7,126.8 426.6,126.5 430.5,126.2 434.4,125.9 438.3,125.6 442.2,125.3 446.2,125.1 450.1,125 454,125 457.9,125.1 461.8,125.3 465.7,125.6 469.6,125.9 473.5,126.2 477.4,126.5 481.3,126.7 485.3,126.9 489.2,127 493.1,127 497,126.8 500.9,126.6" fill="none" stroke="#cacaca" stroke-width="0.75"/>
<path d="M348.4,127.5 352.3,127.2 356.2,127 360.1,126.8 364,126.8 368,126.9 371.9,127 375.8,127.3 379.7,127.6 383.6,127.9 387.5,128.2 391.4,128.5 395.3,128.7 399.2,128.8 403.1,128.8 407.1,128.7 411,128.5 414.9,128.2 418.8,127.9 422.7,127.6 426.6,127.3 430.5,127 434.4,126.9 438.3,126.8 442.2,126.8 446.2,127 450.1,127.2 454,127.5 457.9,127.8 461.8,128.1 465.7,128.4 469.6,128.6 473.5,128.8 477.4,128.8 481.3,128.7 485.3,128.6 489.2,128.3 493.1,128 497,127.7 500.9,127.4" fill="none" stroke="#cacaca" stroke-width="0.75"/>
<path d="M348.4,128.6 352.3,128.6 356.2,128.7 360.1,128.9 364,129.2 368,129.5 371.9,129.8 375.8,130.1 379.7,130.4 383.6,130.5 387.5,130.6 391.4,130.6 395.3,130.4 399.2,130.2 403.1,129.9 407.1,129.6 411,129.3 414.9,129 418.8,128.8 422.7,128.6 426.6,128.6 430.5,128.7 434.4,128.8 438.3,129.1 442.2,129.4 446.2,129.7 450.1,130 454,130.3 457.9,130.5 461.8,130.6 465.7,130.6 469.6,130.5 473.5,130.3 477.4,130 481.3,129.7 485.3,129.4 489.2,129.1 493.1,128.8 497,128.7 500.9,128.6" fill="none" stroke="#cacaca" stroke-width="0.75"/>
<path d="M348.4,130.8 352.3,131.1 356.2,131.4 360.1,131.7 364,132 368,132.2 371.9,132.4 375.8,132.4 379.7,132.3 383.6,132.2 387.5,131.9 391.4,131.6 395.3,131.3 399.2,131 403.1,130.7 407.1,130.5 411,130.4 414.9,130.4 418.8,130.5 422.7,130.7 426.6,131 430.5,131.3 434.4,131.6 438.3,131.9 442.2,132.2 446.2,132.3 450.1,132.4 454,132.4 457.9,132.2 461.8,132 465.7,131.7 469.6,131.4 473.5,131.1 477.4,130.8 481.3,130.6 485.3,130.4 489.2,130.4 493.1,130.5 497,130.7 500.9,130.9" fill="none" stroke="#cacaca" stroke-width="0.75"/>
<path d="M348.4,133.6 352.3,133.9 356.2,134.1 360.1,134.2 364,134.2 368,134.1 371.9,133.9 375.8,133.6 379.7,133.3 383.6,133 387.5,132.7 391.4,132.4 395.3,132.3 399.2,132.2 403.1,132.2 407.1,132.4 411,132.6 414.9,132.9 418.8,133.2 422.7,133.6 426.6,133.8 430.5,134 434.4,134.2 438.3,134.2 442.2,134.1 446.2,133.9 450.1,133.7 454,133.4 457.9,133.1 461.8,132.7 465.7,132.5 469.6,132.3 473.5,132.2 477.4,132.2 481.3,132.3 485.3,132.5 489.2,132.8 493.1,133.1 497,133.5 500.9,133.8" fill="none" stroke="#cacaca" stroke-width="0.75"/>
<path d="M348.4,136 352.3,136 356.2,135.8 360.1,135.6 364,135.3 368,135 371.9,134.6 375.8,134.4 379.7,134.1 383.6,134 387.5,134 391.4,134.1 395.3,134.3 399.2,134.5 403.1,134.8 407.1,135.2 411,135.5 414.9,135.7 418.8,135.9 422.7,136 426.6,136 430.5,135.9 434.4,135.6 438.3,135.4 442.2,135.1 446.2,134.7 450.1,134.4 454,134.2 457.9,134.1 461.8,134 465.7,134.1 469.6,134.2 473.5,134.4 477.4,134.7 481.3,135.1 485.3,135.4 489.2,135.7 493.1,135.9 497,136 500.9,136" fill="none" stroke="#cacaca" stroke-width="0.75"/>
<path d="M348.4,137.3 352.3,137 356.2,136.6 360.1,136.3 364,136.1 368,135.9 371.9,135.8 375.8,135.8 379.7,135.9 383.6,136.2 387.5,136.4 391.4,136.8 395.3,137.1 399.2,137.4 403.1,137.6 407.1,137.8 411,137.8 414.9,137.7 418.8,137.6 422.7,137.4 426.6,137.1 430.5,136.7 434.4,136.4 438.3,136.1 442.2,135.9 446.2,135.8 450.1,135.8 454,135.9 457.9,136.1 461.8,136.4 465.7,136.7 469.6,137 473.5,137.3 477.4,137.5 481.3,137.7 485.3,137.8 489.2,137.8 493.1,137.6 497,137.4 500.9,137.1" fill="none" stroke="#cacaca" stroke-width="0.75"/>
<path d="M348.4,138 352.3,137.8 356.2,137.6 360.1,137.6 364,137.7 368,137.8 371.9,138.1 375.8,138.4 379.7,138.7 383.6,139 387.5,139.3 391.4,139.5 395.3,139.6 399.2,139.6 403.1,139.5 407.1,139.3 411,139 414.9,138.7 418.8,138.4 422.7,138.1 426.6,137.9 430.5,137.7 434.4,137.6 438.3,137.6 442.2,137.8 446.2,138 450.1,138.3 454,138.6 457.9,138.9 461.8,139.2 465.7,139.4 469.6,139.6 473.5,139.6 477.4,139.5 481.3,139.4 485.3,139.1 489.2,138.8 493.1,138.5 497,138.2 500.9,137.9" fill="none" stroke="#cacaca" stroke-width="0.75"/>
<path d="M348.4,139.4 352.3,139.5 356.2,139.7 360.1,140 364,140.3 368,140.6 371.9,140.9 375.8,141.2 379.7,141.3 383.6,141.4 387.5,141.4 391.4,141.2 395.3,141 399.2,140.7 403.1,140.4 407.1,140.1 411,139.8 414.9,139.6 418.8,139.4 422.7,139.4 426.6,139.5 430.5,139.6 434.4,139.9 438.3,140.2 442.2,140.5 446.2,140.8 450.1,141.1 454,141.3 457.9,141.4 461.8,141.4 465.7,141.3 469.6,141.1 473.5,140.8 477.4,140.5 481.3,140.2 485.3,139.9 489.2,139.6 493.1,139.5 497,139.4 500.9,139.4" fill="none" stroke="#cacaca" stroke-width="0.75"/>
<path d="M348.3 17h0M372.5 17h0M380.4 22.7h0M380.3 24.6h0M388.3 24.6h0M396.3 22.7h0M412.4 22.7h0M420.3 20.8h0M436.5 24.6h0M443.7 18.9h0M443.4 20.8h0M450.7 22.7h0M457.8 17h0M479.2 20.8h0M486.5 17h0M493.8 17h0M493.8 18.9h0M500.8 22.7h0" stroke="#fc3030" stroke-width="5.2" stroke-linecap="round"/>
<path d="M348.5 18.9h0M356.3 22.7h0M356.4 28.4h0M372.3 18.9h0M372.2 28.4h0M388.1 17h0M388.1 20.8h0M404.2 26.5h0M412.3 20.8h0M428.5 20.8h0M436.2 18.9h0M436.3 22.7h0M436.3 28.4h0M443.4 22.7h0M451 28.4h0M465 20.8h0M472.4 18.9h0M472.2 26.5h0M479.3 22.7h0M486.4 22.7h0M493.6 22.7h0M500.8 18.9h0M500.8 20.8h0" stroke="#fc3030" stroke-width="5.0" stroke-linecap="round"/>
<path d="M348.5 20.8h0M348.6 30.3h0M348.5 36h0M356.5 18.9h0M356.6 20.8h0M356.3 26.5h0M356.2 34.1h0M364.5 18.9h0M364.2 22.7h0M372.5 24.6h0M372.5 26.5h0M380.3 18.9h0M380.5 32.2h0M396.3 28.4h0M396.3 30.3h0M396.1 32.2h0M404.2 18.9h0M404.2 22.7h0M404.4 32.2h0M404.3 34.1h0M412.4 18.9h0M412.2 36h0M420.4 22.7h0M420.3 26.5h0M428.3 17h0M428.2 24.6h0M428.5 26.5h0M428.4 32.2h0M436.3 20.8h0M450.9 17h0M450.9 24.6h0M450.9 32.2h0M450.6 34.1h0M450.7 36h0M457.9 18.9h0M458 36h0M472.2 24.6h0M472.1 28.4h0M472.2 32.2h0M472.3 34.1h0M479.5 28.4h0M486.6 20.8h0M486.7 24.6h0M493.9 26.5h0M501 17h0M501 30.3h0M388.2 113h0M404.4 112h0M420.5 112h0" stroke="#fc3030" stroke-width="4.4" stroke-linecap="round"/>
<path d="M348.3 22.7h0M348.3 24.6h0M348.5 26.5h0M356.2 24.6h0M364.2 20.8h0M372.4 20.8h0M372.4 22.7h0M396.2 18.9h0M404.4 24.6h0M412.3 17h0M412.2 24.6h0M420.3 24.6h0M420.2 30.3h0M428.4 28.4h0M428.2 30.3h0M436.5 17h0M436.4 26.5h0M443.8 17h0M443.7 30.3h0M458.1 20.8h0M465.3 22.7h0M479.3 17h0M479.3 26.5h0M486.7 26.5h0M486.7 28.4h0M493.9 20.8h0M493.6 28.4h0M493.8 32.2h0M500.7 24.6h0M500.7 26.5h0" stroke="#fc3030" stroke-width="4.6" stroke-linecap="round"/>
<path d="M348.2 28.4h0M364.4 28.4h0M380.2 17h0M380.2 20.8h0M380.5 28.4h0M388.4 22.7h0M396.2 17h0M396.1 20.8h0M404.1 20.8h0M420.2 18.9h0M443.5 26.5h0M450.9 18.9h0M450.6 20.8h0M458 22.7h0M458.1 24.6h0M465.2 18.9h0M465.1 28.4h0M486.6 18.9h0M493.7 24.6h0" stroke="#fc3030" stroke-width="4.8" stroke-linecap="round"/>
<path d="M348.5 34.1h0M356.2 32.2h0M372.3 34.1h0M380.1 34.1h0M380.3 37.9h0M388.3 37.9h0M396.3 34.1h0M396.3 36h0M396.4 39.8h0M404.2 36h0M404.2 39.8h0M412.2 39.8h0M420.5 37.9h0M420.5 39.8h0M443.7 36h0M465 32.2h0M479.4 30.3h0M486.8 30.3h0M493.6 30.3h0M493.6 34.1h0M500.9 32.2h0M388.5 120.2h0M420.5 116.8h0M472.2 116.4h0M486.5 119.8h0" stroke="#fc3030" stroke-width="3.8" stroke-linecap="round"/>
<path d="M348.4 37.9h0M356.5 36h0M388.1 43.6h0M396.3 41.7h0M412.4 45.5h0M420.4 41.7h0M420.2 43.6h0M443.6 39.8h0M451 37.9h0M465.2 36h0M464.9 41.7h0M486.6 43h0M348.4 120.8h0M364.4 116h0M364.5 120.8h0M372.1 117.4h0M380.5 121.2h0M380.4 123.6h0M396.3 116.8h0M396.3 121.6h0M428.2 119.2h0M458.1 122.6h0M486.6 117.4h0M501.1 123.2h0" stroke="#fc3030" stroke-width="3.4" stroke-linecap="round"/>
<path d="M348.4 40.3h0M348.4 45.3h0M364.3 44.3h0M364.3 46.8h0M372.3 50.3h0M380.3 48.3h0M436.4 49.8h0M443.6 49.8h0M465.1 48.8h0M479.4 45.3h0M479.4 47.8h0M493.7 49.3h0M500.9 42.3h0M348.5 137.6h0M388.4 134.6h0M404 131.2h0M428.3 131.2h0M436.5 138.4h0M486.8 131.8h0" stroke="#f03c60" stroke-width="2.4" stroke-linecap="round"/>
<path d="M348.4 42.8h0M465.1 46.3h0M388.3 132.2h0M412.1 124h0M436.4 133.6h0M443.5 121.6h0M450.8 128.8h0M457.9 129.8h0M472.2 130.8h0M479.5 130.8h0" stroke="#f03c60" stroke-width="2.8" stroke-linecap="round"/>
<path d="M348.4 47.8h0M356.4 49.3h0M356.4 59.3h0M364.3 51.8h0M364.3 56.8h0M388.3 51.8h0M396.2 56.8h0M396.2 59.3h0M420.3 51.8h0M428.4 58.3h0M436.4 52.3h0M450.8 57.3h0M450.8 59.8h0M457.9 49.8h0M465.1 56.3h0M465.1 58.8h0M472.3 53.8h0M479.4 52.8h0M479.4 57.8h0M486.6 50.3h0M486.6 55.3h0M493.7 56.8h0M500.9 54.8h0" stroke="#f03c60" stroke-width="1.8" stroke-linecap="round"/>
<path d="M348.4 50.3h0M388.3 54.3h0M412.3 54.3h0" stroke="#9c24d8" stroke-width="2.0" stroke-linecap="round"/>
<path d="M348.4 52.8h0M348.4 57.8h0M356.4 51.8h0M356.4 54.3h0M364.3 39.3h0M372.3 47.8h0M380.3 50.8h0M380.3 53.3h0M388.3 56.8h0M404.2 49.3h0M404.2 54.3h0M420.3 56.8h0M436.4 54.8h0M450.8 49.8h0M450.8 52.3h0M457.9 52.3h0M457.9 54.8h0M472.3 48.8h0M472.3 56.3h0M479.4 55.3h0M486.6 45.3h0M493.7 46.8h0M500.9 47.3h0M356.3 140h0M372.3 139h0M380.3 140.4h0M396.1 138.4h0M404.3 138.4h0M412.1 138.4h0" stroke="#f03c60" stroke-width="2.0" stroke-linecap="round"/>
<path d="M348.4 55.3h0M356.4 56.8h0M388.3 59.3h0M396.2 54.3h0M420.3 59.3h0M450.8 62.3h0M457.9 57.3h0M457.9 59.8h0M465.1 53.8h0M493.7 54.3h0M493.7 59.3h0M500.9 52.3h0M500.9 57.3h0" stroke="#f03c60" stroke-width="1.6" stroke-linecap="round"/>
<path d="M356.4 17h0M364.5 17h0M388.3 18.9h0M420.5 17h0M428.2 18.9h0M428.3 22.7h0M472.1 17h0M479.4 18.9h0" stroke="#fc3030" stroke-width="5.4" stroke-linecap="round"/>
<path d="M356.2 30.3h0M364.3 24.6h0M364.2 34.1h0M364.3 36h0M372.5 36h0M372.2 37.9h0M380.3 26.5h0M388.3 28.4h0M388.3 34.1h0M396.1 24.6h0M404.4 28.4h0M404.3 30.3h0M412.2 26.5h0M412.1 28.4h0M412.4 30.3h0M412.1 34.1h0M420.2 28.4h0M420.5 32.2h0M420.2 34.1h0M420.2 36h0M428.4 34.1h0M428.4 37.9h0M436.6 36h0M443.6 32.2h0M443.5 34.1h0M450.6 26.5h0M450.8 30.3h0M457.9 26.5h0M464.9 24.6h0M465.1 26.5h0M472.2 20.8h0M479.2 24.6h0M486.6 34.1h0M486.5 37.9h0M493.6 36h0M500.9 28.4h0M501 37.9h0M356.3 116h0" stroke="#fc3030" stroke-width="4.2" stroke-linecap="round"/>
<path d="M356.4 39.3h0M372.3 45.3h0M412.3 49.3h0M436.4 47.3h0M443.6 47.3h0M493.7 44.3h0M356.3 125.6h0M396.2 126.4h0M396.4 131.2h0M404.3 136h0M458 137h0M486.5 129.4h0M486.5 134.2h0M493.8 135.2h0M501 132.8h0" stroke="#f03c60" stroke-width="2.6" stroke-linecap="round"/>
<path d="M356.4 46.8h0M364.3 49.3h0M364.3 54.3h0M372.3 52.8h0M404.2 51.8h0M420.3 49.3h0M420.3 54.3h0M428.4 48.3h0M443.6 54.8h0M450.8 54.8h0M465.1 51.3h0M472.3 46.3h0M472.3 51.3h0M479.4 50.3h0M486.6 52.8h0M500.9 49.8h0M364.4 140h0M472.3 135.6h0" stroke="#f03c60" stroke-width="2.2" stroke-linecap="round"/>
<path d="M356.4 61.8h0M372.3 60.3h0M380.3 60.8h0M388.3 61.8h0M404.2 56.8h0M412.3 59.3h0M412.3 61.8h0M436.4 57.3h0M436.4 59.8h0M443.6 62.3h0M472.3 58.8h0" stroke="#f03c60" stroke-width="1.4" stroke-linecap="round"/>
<path d="M364.5 26.5h0M364.4 30.3h0M372.5 30.3h0M380.1 30.3h0M380.2 36h0M388.3 26.5h0M388.1 30.3h0M388.3 36h0M396.1 26.5h0M404.1 37.9h0M412.2 32.2h0M443.4 28.4h0M457.9 28.4h0M458 30.3h0M457.8 32.2h0M458 34.1h0M458.1 37.9h0M465 37.9h0M472.2 30.3h0M479.3 32.2h0M479.5 34.1h0M479.4 36h0M486.7 32.2h0M486.7 36h0M500.8 36h0M380.1 114h0M388.3 115.4h0M457.8 115.4h0M486.4 115h0M493.9 116h0" stroke="#fc3030" stroke-width="4.0" stroke-linecap="round"/>
<path d="M364.3 59.3h0M428.4 60.8h0M479.4 60.3h0" stroke="#9c24d8" stroke-width="1.2" stroke-linecap="round"/>
<path d="M364.3 61.8h0M420.3 61.8h0M436.4 62.3h0M443.6 59.8h0M457.9 62.3h0M472.3 61.3h0M493.7 61.8h0" stroke="#f03c60" stroke-width="1.2" stroke-linecap="round"/>
<path d="M372.2 32.2h0M372.3 39.8h0M380.3 41.7h0M388.4 39.8h0M396.3 37.9h0M412.2 37.9h0M412.1 41.7h0M436.3 34.1h0M436.6 37.9h0M472.2 36h0M479.4 37.9h0M493.8 37.9h0M479.4 44h0M493.7 47h0M348.4 118.4h0M348.3 123.2h0M380.5 116.4h0M388.4 117.8h0M396.3 112h0M404.2 116.8h0M412.3 112h0M412.1 119.2h0M428.4 112h0M443.6 119.2h0M465.3 115.4h0M493.6 120.8h0" stroke="#fc3030" stroke-width="3.6" stroke-linecap="round"/>
<path d="M372.4 41.7h0M380.4 39.8h0M380.3 43.6h0M380.2 45.5h0M388.3 41.7h0M396.3 43.6h0M396.4 45.5h0M404.4 41.7h0M412.2 43.6h0M428.6 39.8h0M428.5 41.7h0M436.6 39.8h0M457.8 39.8h0M465.1 39.8h0M479.6 39.8h0M486.7 41.7h0M493.7 39.8h0M465.1 49h0M356.3 118.4h0M356.5 120.8h0M364.5 118.4h0M364.5 125.6h0M372.1 122.2h0M380.2 130.8h0M412.3 114.4h0M412.2 126.4h0M420.3 128.8h0M428.6 124h0M443.5 116.8h0M443.8 124h0M450.7 114.4h0M457.8 117.8h0M457.9 120.2h0M458 125h0M465.2 117.8h0M465.2 122.6h0M472.4 123.6h0M479.5 121.2h0M479.5 123.6h0M493.8 118.4h0M501.1 128h0" stroke="#fc3030" stroke-width="3.2" stroke-linecap="round"/>
<path d="M372.3 57.8h0M404.4 140.8h0" stroke="#9c24d8" stroke-width="1.8" stroke-linecap="round"/>
<path d="M380.3 55.8h0M380.3 58.3h0M396.2 61.8h0M412.3 56.8h0M443.6 52.3h0M486.6 60.3h0" stroke="#9c24d8" stroke-width="1.6" stroke-linecap="round"/>
<path d="M388.3 45.5h0M436.3 43.6h0M450.7 43.6h0M457.8 43.6h0M479.3 41.7h0M348.6 130.4h0M356.5 132.8h0M372.2 129.4h0M372.2 131.8h0M372.2 134.2h0M380.1 128.4h0M388.2 127.4h0M388.2 129.8h0M396.1 128.8h0M404.3 128.8h0M428.3 128.8h0M436.5 124h0M443.6 131.2h0M443.6 133.6h0M450.9 124h0M451 126.4h0M457.9 134.6h0M472.2 126h0M479.3 128.4h0M479.4 133.2h0M486.7 127h0M493.8 123.2h0" stroke="#fc3030" stroke-width="2.8" stroke-linecap="round"/>
<path d="M404.2 17h0M465 17h0" stroke="#fc3030" stroke-width="5.6" stroke-linecap="round"/>
<path d="M404.3 43.6h0M472.4 41.7h0M348.3 128h0" stroke="#9c24d8" stroke-width="2.8" stroke-linecap="round"/>
<path d="M404.2 45.5h0M420.3 45.5h0M465.1 43.6h0M500.7 39.8h0M356.4 130.4h0M364.4 130.4h0M364.3 132.8h0M364.4 135.2h0M372.3 136.6h0M380.1 126h0M380.3 135.6h0M420.3 136h0M443.4 128.8h0M464.9 125h0" stroke="#fc3030" stroke-width="2.6" stroke-linecap="round"/>
<path d="M404.2 59.3h0M465.1 61.3h0M500.9 59.8h0" stroke="#9c24d8" stroke-width="1.4" stroke-linecap="round"/>
<path d="M428.4 43.6h0M428.3 45.5h0M436.5 41.7h0M443.4 43.6h0M458 41.7h0M472.4 39.8h0M472.4 43.6h0M493.9 41.7h0M372.3 127h0M404.1 126.4h0M412.1 121.6h0M412.4 131.2h0M428.2 126.4h0M436.6 121.6h0M450.9 119.2h0M450.6 121.6h0M465 129.8h0M472.5 128.4h0M486.7 122.2h0M493.7 125.6h0M493.6 128h0" stroke="#fc3030" stroke-width="3.0" stroke-linecap="round"/>
<path d="M436.5 30.3h0M372.3 46.4h0M465.1 45h0M472.3 42h0M486.6 50h0M493.7 52h0M420.4 119.2h0M457.9 113h0" stroke="#9c24d8" stroke-width="3.6" stroke-linecap="round"/>
<path d="M436.6 32.2h0M443.8 37.9h0M396.4 114.4h0M412.1 116.8h0M450.9 116.8h0" stroke="#9c24d8" stroke-width="3.8" stroke-linecap="round"/>
<path d="M443.4 41.7h0M450.6 41.7h0M472.2 37.9h0M380.3 118.8h0M436.3 119.2h0M464.9 127.4h0" stroke="#9c24d8" stroke-width="3.2" stroke-linecap="round"/>
<path d="M450.8 47.3h0M457.9 47.3h0M356.5 128h0M465.1 134.6h0" stroke="#9c24d8" stroke-width="2.4" stroke-linecap="round"/>
<path d="M465.2 30.3h0M372.5 115h0M436.6 116.8h0M479.5 114h0" stroke="#9c24d8" stroke-width="3.4" stroke-linecap="round"/>
<path d="M493.7 51.8h0M420.2 138.4h0M428.5 138.4h0" stroke="#9c24d8" stroke-width="2.2" stroke-linecap="round"/>
<path d="M356.4 42.2h0M364.3 41.2h0M396.2 124h0M420.3 124h0M420.2 126.4h0M436.4 128.8h0M479.3 126h0M500.8 120.8h0" stroke="#f03c60" stroke-width="3.0" stroke-linecap="round"/>
<path d="M356.4 51.6h0M364.3 48h0" stroke="#9c24d8" stroke-width="4.4" stroke-linecap="round"/>
<path d="M348.4 51h0M472.3 46h0M479.4 49h0M479.5 116.4h0" stroke="#9c24d8" stroke-width="4.0" stroke-linecap="round"/>
<path d="M348.4 91.2h0M356.4 92.1h0M364.3 93.5h0M372.3 95.6h0M380.3 98.3h0M388.3 100h0M396.2 102.3h0M404.2 104.1h0M412.3 105.4h0M420.3 105.9h0M428.4 107h0M436.4 107.5h0M443.6 107.1h0M450.8 104.5h0M457.9 102.7h0M465.1 100.6h0M472.3 97.7h0M479.4 95.3h0M486.6 93.3h0M493.7 92.1h0M500.9 91.5h0" stroke="#f04860" stroke-width="4.0" stroke-linecap="round"/>
<path d="M348.4 100.9h0M356.4 101h0M364.3 101.8h0M372.3 102.7h0M380.3 103.6h0M388.3 105.4h0M396.2 106.5h0M404.2 107.5h0M412.3 108.5h0M420.3 109h0M428.4 109.5h0M436.4 110h0M443.6 109.5h0M450.8 107h0M457.9 105.4h0M465.1 103.6h0M472.3 102.7h0M479.4 101.8h0M486.6 101.3h0M493.7 100.9h0M500.9 100.9h0" stroke="#9c30b4" stroke-width="3.8" stroke-linecap="round"/>
<path d="M348.4 105.9h0M356.4 105.9h0M364.3 107.7h0M372.3 108.5h0M380.3 109.5h0M388.3 110.5h0M396.2 111.5h0M404.2 112h0M412.3 112.5h0M420.3 113h0M428.4 113h0M436.4 113h0M443.6 112.5h0M450.8 111h0M457.9 110h0M465.1 109h0M472.3 108.5h0M479.4 107.7h0M486.6 107.1h0M493.7 105.9h0M500.9 105.4h0" stroke="#f04860" stroke-width="3.6" stroke-linecap="round"/>
<path d="M348.4 116h0M348.4 125.6h0M388.2 125h0M404 121.6h0M404.1 124h0M428.2 114.4h0M428.5 121.6h0M450.9 112h0M472.3 121.2h0" stroke="#f03c60" stroke-width="3.4" stroke-linecap="round"/>
<path d="M348.4 135.2h0M420.2 133.6h0M428.4 140.8h0M436.5 136h0M443.6 136h0M443.7 140.8h0M458.1 139.4h0M465.3 137h0M465.1 139.4h0M493.6 137.6h0M500.9 137.6h0M501 140h0" stroke="#fc3030" stroke-width="2.0" stroke-linecap="round"/>
<path d="M348.4 140h0M356.4 135.2h0M364.3 137.6h0M380.4 133.2h0M388.1 137h0M396.1 133.6h0M404.3 133.6h0M412.3 133.6h0M420.4 140.8h0M428.4 133.6h0M428.2 136h0M436.3 131.2h0M450.8 133.6h0M472.2 138h0M486.7 136.6h0" stroke="#fc3030" stroke-width="2.4" stroke-linecap="round"/>
<path d="M356.3 123.2h0M388.4 122.6h0M420.2 121.6h0M436.5 114.4h0M436.6 126.4h0M465.1 120.2h0M479.2 118.8h0" stroke="#f03c60" stroke-width="3.2" stroke-linecap="round"/>
<path d="M356.3 137.6h0M412.5 140.8h0M472.1 140.4h0M493.6 140h0" stroke="#fc3030" stroke-width="1.8" stroke-linecap="round"/>
<path d="M364.2 128h0M380.4 138h0M450.8 131.2h0" stroke="#9c24d8" stroke-width="2.6" stroke-linecap="round"/>
<path d="M372.3 119.8h0M443.7 112h0M464.9 113h0" stroke="#f03c60" stroke-width="4.0" stroke-linecap="round"/>
<path d="M396.2 136h0M396.4 140.8h0M412.4 136h0M443.8 138.4h0M450.9 136h0M450.7 140.8h0M464.9 132.2h0M479.6 135.6h0M479.6 138h0M486.4 139h0" stroke="#fc3030" stroke-width="2.2" stroke-linecap="round"/>
<path d="M404.2 119.2h0M412.3 128.8h0M443.6 126.4h0" stroke="#9c24d8" stroke-width="3.0" stroke-linecap="round"/>
<path d="M420.5 114.4h0M428.5 116.8h0M443.6 114.4h0" stroke="#f03c60" stroke-width="3.8" stroke-linecap="round"/>
<path d="M436.5 112h0" stroke="#f03c60" stroke-width="4.2" stroke-linecap="round"/>
<path d="M436.3 140.8h0M479.3 140.4h0" stroke="#fc3030" stroke-width="1.6" stroke-linecap="round"/>
</g>
<g clip-path="url(#ce)">
<path d="M23.6,197.8 25.1,198.2 26.6,198.6 28.1,199.1 29.6,199.7 31.1,200.2 32.6,200.8 34,201.4 35.5,201.9 37,202.4 38.5,202.8 40.1,203 41.8,203 43.3,202.6 44.5,201.8 45.6,200.7 46.4,199.3 47.2,197.8 47.9,196.3 48.6,194.8 49.4,193.4 50.3,192.1 51.1,190.8 52,189.5 52.9,188.2 53.7,186.9 54.5,185.6 55.4,184.2 56.2,182.9 57,181.5 57.9,180.2 58.8,178.9 59.7,177.6 60.6,176.3" fill="none" stroke="#a8a8a8" stroke-width="0.55"/>
<path d="M23.6,196.2 25.2,195.8 26.7,195.1 28.2,194.3 29.5,193.4 30.8,192.3 32,191.1 33,189.8 34.1,188.5 35,187.1 35.9,185.8 36.8,184.3 37.7,182.9 38.5,181.5 39.5,180.2 40.4,178.8 41.5,177.5 42.6,176.3" fill="none" stroke="#a8a8a8" stroke-width="0.55"/>
<path d="M97.7,176.4 98.2,177.8 98.8,179.2 99.4,180.7 100.1,182.2 100.8,183.5 101.8,184.7 103,185.7 104.3,186.4 105.8,186.9 107.4,187.3 109,187.4 110.6,187.5 112.2,187.5 113.7,187.4 115.3,187.2 116.8,187 118.3,186.8 119.8,186.5 121.4,186.3 122.9,186.2 124.5,186.1 126.1,186.2 127.6,186.5 129.1,186.9 130.4,187.6 131.7,188.5 133,189.5 134.1,190.5 135.3,191.6 136.4,192.7 137.4,193.8 138.5,194.9 139.6,196 140.6,197.2 141.7,198.3 142.8,199.4 143.8,200.5 145,201.6 146.1,202.6 147.4,203.6 148.6,204.4 150,205.2" fill="none" stroke="#a8a8a8" stroke-width="0.55"/>
<path d="M150,205.2 151.7,205.5 153.3,205.6 154.9,205.5 156.5,205.2 158,204.8 159.5,204.2 160.9,203.6 162.4,202.9 163.8,202.1 165.2,201.4 166.7,200.6 168.1,199.9 169.5,199.2 171,198.6 172.5,198 174,197.6 175.6,197.2" fill="none" stroke="#a8a8a8" stroke-width="0.55"/>
<path d="M156.3,176.6 157.4,177.9 158.4,179.2 159.3,180.5 160.2,181.9 161.2,183.2 162.1,184.6 163,186 163.9,187.3 164.9,188.6 165.9,189.9 167,191.2 168.2,192.4 169.4,193.5 170.8,194.4 172.3,195.1 173.9,195.5 175.6,195.5" fill="none" stroke="#a8a8a8" stroke-width="0.55"/>
<path d="M137,193.3 138.2,194.5 139.5,195.7 140.7,196.9 142,198.1 143.3,199.3 144.6,200.4 145.9,201.6 147.2,202.7 148.6,203.8 149.9,204.9" fill="none" stroke="#a8a8a8" stroke-width="0.55"/>
<path d="M23.6,189.4 25.6,189.7 27.4,190.3 29.2,191.1 30.8,192.1 32.5,193.2 34.1,194.3 35.7,195.5 37.2,196.6 38.7,197.8 40.3,199.1 41.7,200.4 43.2,201.7 44.6,203 46.1,204.3 47.5,205.6 49,206.8 50.5,208.1 52.1,209.3 53.7,210.4 55.3,211.4 57.1,212.3 58.8,213.2 60.6,214 62.5,214.5 64.4,214.5 66.4,214.3 68.3,214 70.3,213.8 72.2,213.5 74.1,213.3 76.1,213.1 78,212.8 80,212.6 81.9,212.3 83.8,212 85.8,211.9 87.7,212 89.6,212.5 91.3,213.5 92.7,214.8 94.1,216.2 95.6,217.5 97.1,218.7 98.7,219.9 100.3,221.1 101.7,222.3 103.1,223.7 104.4,225.1 105.9,226.5 107.4,227.7 109.2,228.5 111.1,229 113,228.8 114.9,228.1 116.5,226.9 117.8,225.5 119.1,224 120.3,222.4 121.4,220.9 122.6,219.4 123.9,217.9 125.2,216.5 126.7,215.2 128.5,214.2 130.4,213.9 132.2,214.6 133.7,215.9 134.9,217.5 136.1,219.1 137.5,220.4 139.1,221.6 140.8,222.5 142.7,223 144.6,222.9 146.5,222.3 148.2,221.3 149.7,220.1 151.1,218.7 152.3,217.2 153.5,215.6 154.7,214.1 155.9,212.5 157.1,211 158.3,209.4 159.4,207.8 160.5,206.2 161.7,204.7 162.9,203.2 164.2,201.7 165.4,200.1 166.6,198.6 167.7,197 168.9,195.5 170.1,193.9 171.5,192.5 172.9,191.2 174.6,190.2" fill="none" stroke="#c8a0b0" stroke-width="0.45"/>
<path d="M133,216.5 134.3,217.7 135.5,219.3 136.7,221 137.9,222.7 139.4,223.9 141.2,224.6 143.2,224.6 145.1,224" fill="none" stroke="#c8a0b0" stroke-width="0.45"/>
<path d="M23.6,195.2 25.7,195.1 27.5,195.5 29.3,196.4 30.8,197.6 32.2,198.9 33.5,200.4 34.8,201.9 36,203.5 37.2,205 38.5,206.4 39.8,207.9 41.1,209.3 42.5,210.7 43.9,212 45.4,213.3 47.1,214.4 48.9,215 50.9,214.8 52.7,214.1 54.4,213.2 56,212 57.6,210.9 59.1,209.7 60.6,208.4 62.1,207.2 63.6,205.9 65.1,204.6 66.6,203.3 68.1,202.1 69.6,200.9 71.2,199.8 72.9,198.7 74.6,197.8 76.5,197.3 78.4,197.3 80.4,197.4 82.3,197.2 84.2,196.7 86,195.9 87.7,194.9 89.2,193.6 90.5,192.2 91.8,190.8 93,189.2 94.2,187.7 95.3,186.1 96.5,184.5 97.8,183.1 99.2,181.7 100.7,180.4 102.1,179.1 103.6,177.8 105.2,176.7 107,175.8" fill="none" stroke="#c8a0b0" stroke-width="0.45"/>
<path d="M88,195.8 89.8,195 91.4,193.9 93,192.7 94.4,191.4 95.8,190 97.1,188.5 98.4,187.1 99.6,185.5 100.7,184 101.8,182.3 102.9,180.7 104,179.1 105.3,177.6 106.8,176.4" fill="none" stroke="#c8a0b0" stroke-width="0.45"/>
<path d="M114.5,176 116.3,176.9 117.9,178 119.2,179.5 120.3,181.1 121.3,182.8 122.1,184.5 122.8,186.4 123.4,188.2 124.1,190.1 124.8,191.9 125.6,193.6 126.7,195.3 127.8,196.9 129,198.5 130.2,200 131.6,201.3 133.2,202.4 135,203.2 136.9,203.8 138.8,204.3 140.7,204.7 142.6,205.1 144.5,205.5 146.5,205.8 148.4,206 150.3,205.8 152.1,205.1 153.9,204.1 155.5,203 157.1,201.8 158.6,200.6 160.1,199.4 161.6,198.1 163,196.8 164.5,195.5 165.9,194.2 167.4,192.9 168.9,191.7 170.6,190.7 172.3,189.8 174.2,189.3" fill="none" stroke="#c8a0b0" stroke-width="0.45"/>
<path d="M112,176 113.6,177.2 114.9,178.6 116.1,180.2 117.2,181.8 118.2,183.5 119.1,185.2 120,187 120.9,188.7 121.7,190.5 122.6,192.2 123.5,194 124.4,195.7 125.4,197.4 126.6,199 127.8,200.4 129.3,201.8 130.9,202.9" fill="none" stroke="#c8a0b0" stroke-width="0.45"/>
<path d="M150,206.8 151.9,206.2 153.7,205.5 155.5,204.7 157.2,203.7 158.8,202.7 160.4,201.5 162,200.3 163.4,199 164.9,197.7 166.2,196.3 167.6,194.9 169,193.5 170.5,192.2 172.1,191.2 174,190.6" fill="none" stroke="#c8a0b0" stroke-width="0.45"/>
<path d="M97,186 97.8,184.5 98.5,183" fill="none" stroke="#c8a0b0" stroke-width="0.45"/>
<path d="M23.6,280.8 25.6,280.8 27.5,281 29.4,281.3 31.3,281.9 33.1,282.6 34.9,283.5 36.5,284.6 38.1,285.8 39.5,287.2 40.7,288.7 41.9,290.2 43.1,291.8 44.2,293.4 45.4,295 46.5,296.6 47.5,298.2 48.5,299.9" fill="none" stroke="#c8a0b0" stroke-width="0.45"/>
<path d="M82.5,299.8 83.9,298.5 85.4,297.2 86.9,295.9 88.5,294.7 90,293.6 91.6,292.5 93.2,291.4 94.8,290.3 96.5,289.2 98.1,288.1 99.7,287 101.3,285.9 102.8,284.7 104.3,283.5 105.9,282.3 107.6,281 109.4,280 111.1,279.7 112.9,280.2 114.7,281.3 116.3,282.6 117.9,283.9 119.3,285.1 120.8,286.4 122.1,287.7 123.5,289.1 124.9,290.5 126.2,291.9 127.5,293.4 128.8,294.9 130,296.4 131.2,298 132.3,299.6" fill="none" stroke="#c8a0b0" stroke-width="0.45"/>
<path d="M79,299.8 81,299.4 82.9,299 84.7,298.4 86.6,297.8 88.4,297 90.2,296.2 91.9,295.3 93.6,294.4 95.3,293.4 96.9,292.3 98.5,291.2 100.1,290.1 101.7,289 103.3,288 105,286.9 106.7,285.7 108.5,284.7 110.3,284.1 112.1,284.2 113.8,285 115.5,286.2 117.1,287.5 118.7,288.7 120.2,290 121.6,291.3 122.9,292.6 124.2,294.1 125.5,295.5 126.8,297 128.2,298.5" fill="none" stroke="#c8a0b0" stroke-width="0.45"/>
<path d="M147.5,300.8 148.6,299.2 149.5,297.5 150.5,295.7 151.4,294 152.3,292.3 153.4,290.6 154.5,289 155.7,287.5 157.1,286.1 158.6,284.9 160.3,283.9 162.1,283 163.9,282.2 165.7,281.6 167.6,281.1 169.5,280.9 171.5,280.7 173.5,280.6 175.4,280.6" fill="none" stroke="#c8a0b0" stroke-width="0.45"/>
<path d="M25.6 189.7h0M27.6 190.3h0M29.6 191.3h0M31.6 192.6h0M33.6 194h0M35.6 195.4h0M37.6 196.9h0M39.6 198.5h0M41.6 200.2h0M43.6 202h0M45.6 203.8h0M47.6 205.6h0M49.6 207.3h0M51.6 208.9h0M53.6 210.3h0M55.6 211.5h0M57.6 212.6h0M59.6 213.6h0M61.6 214.3h0M63.6 214.5h0M65.6 214.4h0M67.6 214.2h0M69.6 213.9h0M71.6 213.6h0M73.6 213.4h0M75.6 213.1h0M77.6 212.9h0M79.6 212.6h0M81.6 212.4h0M83.6 212.1h0M85.6 211.9h0" stroke="#fc1818" stroke-width="3.6" stroke-linecap="round"/>
<path d="M87.6 212h0" stroke="#cc2454" stroke-width="3.6" stroke-linecap="round"/>
<path d="M89.6 212.5h0" stroke="#6024cc" stroke-width="4.0" stroke-linecap="round"/>
<path d="M91.6 213.8h0M129.6 213.9h0M139.6 204.5h0M141.6 204.9h0M143.6 205.3h0M145.6 205.7h0" stroke="#2424fc" stroke-width="4.0" stroke-linecap="round"/>
<path d="M93.6 215.7h0M127.6 214.6h0" stroke="#2424fc" stroke-width="4.2" stroke-linecap="round"/>
<path d="M95.6 217.5h0M97.6 219h0M125.6 216.1h0M45.6 295.3h0M47.6 298.3h0M147.6 300.7h0" stroke="#2424fc" stroke-width="4.4" stroke-linecap="round"/>
<path d="M99.6 220.5h0M101.6 222.2h0M121.6 220.7h0M123.6 218.2h0M25.6 280.8h0M27.6 281h0M29.6 281.4h0M31.6 282h0M33.6 282.8h0M35.6 283.9h0M37.6 285.4h0M39.6 287.3h0M41.6 289.8h0M43.6 292.6h0M149.6 297.3h0M151.6 293.6h0M153.6 290.3h0M155.6 287.6h0M157.6 285.7h0M159.6 284.3h0M161.6 283.2h0M163.6 282.3h0M165.6 281.6h0M167.6 281.1h0M169.6 280.9h0M171.6 280.7h0M173.6 280.6h0M175.6 280.6h0" stroke="#2424fc" stroke-width="4.6" stroke-linecap="round"/>
<path d="M103.6 224.3h0M105.6 226.2h0M107.6 227.8h0M109.6 228.7h0M111.6 229h0M113.6 228.6h0M115.6 227.6h0M117.6 225.8h0M119.6 223.3h0" stroke="#2424fc" stroke-width="4.8" stroke-linecap="round"/>
<path d="M131.6 214.3h0" stroke="#6024e4" stroke-width="3.2" stroke-linecap="round"/>
<path d="M133.6 215.8h0" stroke="#9c24b4" stroke-width="2.6" stroke-linecap="round"/>
<path d="M135.6 218.5h0" stroke="#cc2478" stroke-width="2.2" stroke-linecap="round"/>
<path d="M137.6 220.5h0M139.6 221.9h0M141.6 222.8h0M143.6 223h0M145.6 222.6h0M147.6 221.7h0M149.6 220.2h0M151.6 218.1h0M153.6 215.5h0" stroke="#cc2478" stroke-width="2.0" stroke-linecap="round"/>
<path d="M155.6 212.9h0" stroke="#b4249c" stroke-width="2.0" stroke-linecap="round"/>
<path d="M157.6 210.3h0M159.6 207.5h0M161.6 204.8h0M163.6 202.4h0M25.6 195.1h0M27.6 195.5h0M29.6 196.6h0M31.6 198.3h0" stroke="#9024cc" stroke-width="2.0" stroke-linecap="round"/>
<path d="M165.6 199.8h0M125.6 295.6h0" stroke="#a824b4" stroke-width="2.0" stroke-linecap="round"/>
<path d="M167.6 197.2h0M123.6 289.2h0" stroke="#c02490" stroke-width="2.0" stroke-linecap="round"/>
<path d="M169.6 194.6h0M101.6 285.6h0M101.6 289.1h0" stroke="#d82460" stroke-width="2.0" stroke-linecap="round"/>
<path d="M171.6 192.4h0" stroke="#fc2424" stroke-width="2.0" stroke-linecap="round"/>
<path d="M173.6 190.8h0M175.6 189.8h0" stroke="#fc1818" stroke-width="2.0" stroke-linecap="round"/>
<path d="M133.6 217h0M145.6 223.8h0" stroke="#cc246c" stroke-width="1.8" stroke-linecap="round"/>
<path d="M135.6 219.5h0M153.6 205.5h0" stroke="#f0243c" stroke-width="1.8" stroke-linecap="round"/>
<path d="M137.6 222.3h0M139.6 224h0M141.6 224.6h0M155.6 204.6h0M157.6 203.5h0M159.6 202.2h0M161.6 200.6h0M163.6 198.9h0M165.6 196.9h0M167.6 194.9h0M169.6 192.9h0M171.6 191.5h0M173.6 190.6h0M175.6 190.5h0M97.6 184.8h0" stroke="#fc1818" stroke-width="1.8" stroke-linecap="round"/>
<path d="M143.6 224.5h0" stroke="#f02430" stroke-width="1.8" stroke-linecap="round"/>
<path d="M33.6 200.5h0" stroke="#8424d8" stroke-width="2.0" stroke-linecap="round"/>
<path d="M35.6 203h0" stroke="#6c24e4" stroke-width="2.2" stroke-linecap="round"/>
<path d="M37.6 205.4h0" stroke="#6024e4" stroke-width="2.2" stroke-linecap="round"/>
<path d="M39.6 207.7h0" stroke="#6024e4" stroke-width="2.4" stroke-linecap="round"/>
<path d="M41.6 209.8h0" stroke="#4824f0" stroke-width="2.6" stroke-linecap="round"/>
<path d="M43.6 211.7h0" stroke="#3024fc" stroke-width="2.8" stroke-linecap="round"/>
<path d="M45.6 213.4h0" stroke="#2424fc" stroke-width="3.0" stroke-linecap="round"/>
<path d="M47.6 214.6h0M83.6 196.9h0M133.6 202.6h0" stroke="#2424fc" stroke-width="3.4" stroke-linecap="round"/>
<path d="M49.6 215h0M51.6 214.6h0M53.6 213.7h0M55.6 212.4h0M57.6 210.8h0M59.6 209.3h0M61.6 207.6h0M63.6 205.9h0M65.6 204.1h0M67.6 202.5h0M69.6 200.9h0M71.6 199.5h0M73.6 198.3h0M75.6 197.4h0M77.6 197.2h0M79.6 197.4h0M81.6 197.3h0M135.6 203.4h0M149.6 205.9h0" stroke="#2424fc" stroke-width="3.6" stroke-linecap="round"/>
<path d="M85.6 196.1h0" stroke="#2424fc" stroke-width="3.2" stroke-linecap="round"/>
<path d="M87.6 194.9h0" stroke="#3024fc" stroke-width="3.0" stroke-linecap="round"/>
<path d="M89.6 193.2h0" stroke="#5424f0" stroke-width="2.8" stroke-linecap="round"/>
<path d="M91.6 191h0M89.6 195h0" stroke="#7824d8" stroke-width="2.8" stroke-linecap="round"/>
<path d="M93.6 188.5h0" stroke="#9c24c0" stroke-width="2.8" stroke-linecap="round"/>
<path d="M95.6 185.7h0M95.6 190.2h0" stroke="#b4249c" stroke-width="2.8" stroke-linecap="round"/>
<path d="M97.6 183.3h0" stroke="#cc246c" stroke-width="2.8" stroke-linecap="round"/>
<path d="M99.6 181.4h0" stroke="#f0243c" stroke-width="2.8" stroke-linecap="round"/>
<path d="M101.6 179.6h0M103.6 177.9h0M105.6 176.5h0M101.6 182.6h0M103.6 179.6h0M105.6 177.3h0M107.6 176h0M115.6 176.5h0M117.6 177.8h0M119.6 180h0M121.6 183.4h0" stroke="#fc1818" stroke-width="2.8" stroke-linecap="round"/>
<path d="M91.6 193.8h0M93.6 192.2h0" stroke="#9024cc" stroke-width="2.8" stroke-linecap="round"/>
<path d="M97.6 187.9h0" stroke="#d8246c" stroke-width="2.8" stroke-linecap="round"/>
<path d="M99.6 185.5h0" stroke="#fc2430" stroke-width="2.8" stroke-linecap="round"/>
<path d="M123.6 188.7h0" stroke="#fc2424" stroke-width="2.8" stroke-linecap="round"/>
<path d="M125.6 193.6h0M127.6 196.6h0" stroke="#cc2478" stroke-width="2.8" stroke-linecap="round"/>
<path d="M129.6 199.3h0" stroke="#8424c0" stroke-width="3.0" stroke-linecap="round"/>
<path d="M131.6 201.3h0" stroke="#4824f0" stroke-width="3.2" stroke-linecap="round"/>
<path d="M137.6 204h0M147.6 206h0" stroke="#2424fc" stroke-width="3.8" stroke-linecap="round"/>
<path d="M151.6 205.4h0" stroke="#6c24c0" stroke-width="3.4" stroke-linecap="round"/>
<path d="M153.6 204.3h0" stroke="#c02478" stroke-width="3.2" stroke-linecap="round"/>
<path d="M155.6 202.9h0" stroke="#d82454" stroke-width="3.2" stroke-linecap="round"/>
<path d="M157.6 201.4h0" stroke="#f02430" stroke-width="3.0" stroke-linecap="round"/>
<path d="M159.6 199.8h0M161.6 198.1h0M163.6 196.3h0M165.6 194.4h0M167.6 192.7h0M169.6 191.2h0M171.6 190.1h0M173.6 189.5h0M175.6 189.2h0" stroke="#fc1818" stroke-width="3.0" stroke-linecap="round"/>
<path d="M113.6 177.3h0M115.6 179.5h0M117.6 182.5h0" stroke="#fc1818" stroke-width="2.6" stroke-linecap="round"/>
<path d="M119.6 186.2h0" stroke="#f02430" stroke-width="2.6" stroke-linecap="round"/>
<path d="M121.6 190.2h0M123.6 194.3h0" stroke="#cc2478" stroke-width="2.6" stroke-linecap="round"/>
<path d="M125.6 197.6h0" stroke="#a824a8" stroke-width="2.6" stroke-linecap="round"/>
<path d="M127.6 200.2h0M129.6 202h0" stroke="#9024cc" stroke-width="2.6" stroke-linecap="round"/>
<path d="M151.6 206.3h0" stroke="#d82460" stroke-width="1.8" stroke-linecap="round"/>
<path d="M83.6 298.8h0M85.6 297h0M87.6 295.4h0M89.6 293.9h0M79.6 299.7h0M81.6 299.3h0M83.6 298.8h0M85.6 298.1h0M87.6 297.4h0M89.6 296.5h0" stroke="#6024e4" stroke-width="1.6" stroke-linecap="round"/>
<path d="M91.6 292.5h0M91.6 295.5h0" stroke="#6c24d8" stroke-width="1.8" stroke-linecap="round"/>
<path d="M93.6 291.1h0M129.6 295.9h0M93.6 294.4h0" stroke="#8424d8" stroke-width="1.8" stroke-linecap="round"/>
<path d="M95.6 289.8h0M95.6 293.2h0M127.6 297.9h0" stroke="#9024cc" stroke-width="1.8" stroke-linecap="round"/>
<path d="M97.6 288.4h0M125.6 291.3h0M97.6 291.8h0" stroke="#a824a8" stroke-width="2.0" stroke-linecap="round"/>
<path d="M99.6 287.1h0M99.6 290.5h0" stroke="#c02484" stroke-width="2.0" stroke-linecap="round"/>
<path d="M103.6 284.1h0" stroke="#e42448" stroke-width="2.2" stroke-linecap="round"/>
<path d="M105.6 282.5h0M105.6 286.5h0" stroke="#fc2424" stroke-width="2.2" stroke-linecap="round"/>
<path d="M107.6 281h0M115.6 282h0M107.6 285.2h0M115.6 286.3h0" stroke="#fc1818" stroke-width="2.2" stroke-linecap="round"/>
<path d="M109.6 279.9h0M111.6 279.8h0M113.6 280.6h0M109.6 284.2h0M111.6 284.1h0M113.6 284.9h0" stroke="#fc1818" stroke-width="2.4" stroke-linecap="round"/>
<path d="M117.6 283.6h0M117.6 287.9h0" stroke="#f02430" stroke-width="2.2" stroke-linecap="round"/>
<path d="M119.6 285.4h0M119.6 289.5h0" stroke="#e42454" stroke-width="2.2" stroke-linecap="round"/>
<path d="M121.6 287.2h0M121.6 291.3h0" stroke="#cc246c" stroke-width="2.0" stroke-linecap="round"/>
<path d="M127.6 293.5h0" stroke="#9c24c0" stroke-width="1.8" stroke-linecap="round"/>
<path d="M131.6 298.5h0" stroke="#6c24e4" stroke-width="1.8" stroke-linecap="round"/>
<path d="M103.6 287.8h0" stroke="#e4243c" stroke-width="2.2" stroke-linecap="round"/>
<path d="M123.6 293.4h0" stroke="#b42490" stroke-width="2.0" stroke-linecap="round"/>
</g>
<g clip-path="url(#cf)">
<path d="M185.4,189.4 187.4,189.7 189.2,190.3 191,191.1 192.6,192.1 194.3,193.2 195.9,194.3 197.5,195.5 199,196.6 200.5,197.8 202.1,199.1 203.5,200.4 205,201.7 206.4,203 207.9,204.3 209.3,205.6 210.8,206.8 212.3,208.1 213.9,209.3 215.5,210.4 217.1,211.4 218.9,212.3 220.6,213.2 222.4,214 224.3,214.5 226.2,214.5 228.2,214.3 230.1,214 232.1,213.8 234,213.5 235.9,213.3 237.9,213.1 239.8,212.8 241.8,212.6 243.7,212.3 245.6,212 247.6,211.9 249.5,212 251.4,212.5 253.1,213.5 254.5,214.8 255.9,216.2 257.4,217.5 258.9,218.7 260.5,219.9 262.1,221.1 263.5,222.3 264.9,223.7 266.2,225.1 267.7,226.5 269.2,227.7 271,228.5 272.9,229 274.8,228.8 276.7,228.1 278.3,226.9 279.6,225.5 280.9,224 282.1,222.4 283.2,220.9 284.4,219.4 285.7,217.9 287,216.5 288.5,215.2 290.3,214.2 292.2,213.9 294,214.6 295.5,215.9 296.7,217.5 297.9,219.1 299.3,220.4 300.9,221.6 302.6,222.5 304.5,223 306.4,222.9 308.3,222.3 310,221.3 311.5,220.1 312.9,218.7 314.1,217.2 315.3,215.6 316.5,214.1 317.7,212.5 318.9,211 320.1,209.4 321.2,207.8 322.3,206.2 323.5,204.7 324.7,203.2 326,201.7 327.2,200.1 328.4,198.6 329.5,197 330.7,195.5 331.9,193.9 333.3,192.5 334.7,191.2 336.4,190.2" fill="none" stroke="#c8a0b0" stroke-width="0.45"/>
<path d="M294.8,216.5 296.1,217.7 297.3,219.3 298.5,221 299.7,222.7 301.2,223.9 303,224.6 305,224.6 306.9,224" fill="none" stroke="#c8a0b0" stroke-width="0.45"/>
<path d="M185.4,195.2 187.5,195.1 189.3,195.5 191.1,196.4 192.6,197.6 194,198.9 195.3,200.4 196.6,201.9 197.8,203.5 199,205 200.3,206.4 201.6,207.9 202.9,209.3 204.3,210.7 205.7,212 207.2,213.3 208.9,214.4 210.7,215 212.7,214.8 214.5,214.1 216.2,213.2 217.8,212 219.4,210.9 220.9,209.7 222.4,208.4 223.9,207.2 225.4,205.9 226.9,204.6 228.4,203.3 229.9,202.1 231.4,200.9 233,199.8 234.7,198.7 236.4,197.8 238.3,197.3 240.2,197.3 242.2,197.4 244.1,197.2 246,196.7 247.8,195.9 249.5,194.9 251,193.6 252.3,192.2 253.6,190.8 254.8,189.2 256,187.7 257.1,186.1 258.3,184.5 259.6,183.1 261,181.7 262.5,180.4 263.9,179.1 265.4,177.8 267,176.7 268.8,175.8" fill="none" stroke="#c8a0b0" stroke-width="0.45"/>
<path d="M249.8,195.8 251.6,195 253.2,193.9 254.8,192.7 256.2,191.4 257.6,190 258.9,188.5 260.2,187.1 261.4,185.5 262.5,184 263.6,182.3 264.7,180.7 265.8,179.1 267.1,177.6 268.6,176.4" fill="none" stroke="#c8a0b0" stroke-width="0.45"/>
<path d="M276.3,176 278.1,176.9 279.7,178 281,179.5 282.1,181.1 283.1,182.8 283.9,184.5 284.6,186.4 285.2,188.2 285.9,190.1 286.6,191.9 287.4,193.6 288.5,195.3 289.6,196.9 290.8,198.5 292,200 293.4,201.3 295,202.4 296.8,203.2 298.7,203.8 300.6,204.3 302.5,204.7 304.4,205.1 306.3,205.5 308.3,205.8 310.2,206 312.1,205.8 313.9,205.1 315.7,204.1 317.3,203 318.9,201.8 320.4,200.6 321.9,199.4 323.4,198.1 324.8,196.8 326.3,195.5 327.7,194.2 329.2,192.9 330.7,191.7 332.4,190.7 334.1,189.8 336,189.3" fill="none" stroke="#c8a0b0" stroke-width="0.45"/>
<path d="M273.8,176 275.4,177.2 276.7,178.6 277.9,180.2 279,181.8 280,183.5 280.9,185.2 281.8,187 282.7,188.7 283.5,190.5 284.4,192.2 285.3,194 286.2,195.7 287.2,197.4 288.4,199 289.6,200.4 291.1,201.8 292.7,202.9" fill="none" stroke="#c8a0b0" stroke-width="0.45"/>
<path d="M311.8,206.8 313.7,206.2 315.5,205.5 317.3,204.7 319,203.7 320.6,202.7 322.2,201.5 323.8,200.3 325.2,199 326.7,197.7 328,196.3 329.4,194.9 330.8,193.5 332.3,192.2 333.9,191.2 335.8,190.6" fill="none" stroke="#c8a0b0" stroke-width="0.45"/>
<path d="M258.8,186 259.6,184.5 260.3,183" fill="none" stroke="#c8a0b0" stroke-width="0.45"/>
<path d="M244.3,299.8 245.7,298.5 247.2,297.2 248.7,295.9 250.3,294.7 251.8,293.6 253.4,292.5 255,291.4 256.6,290.3 258.3,289.2 259.9,288.1 261.5,287 263.1,285.9 264.6,284.7 266.1,283.5 267.7,282.3 269.4,281 271.2,280 272.9,279.7 274.7,280.2 276.5,281.3 278.1,282.6 279.7,283.9 281.1,285.1 282.6,286.4 283.9,287.7 285.3,289.1 286.7,290.5 288,291.9 289.3,293.4 290.6,294.9 291.8,296.4 293,298 294.1,299.6" fill="none" stroke="#c8a0b0" stroke-width="0.45"/>
<path d="M240.8,299.8 242.8,299.4 244.7,299 246.5,298.4 248.4,297.8 250.2,297 252,296.2 253.7,295.3 255.4,294.4 257.1,293.4 258.7,292.3 260.3,291.2 261.9,290.1 263.5,289 265.1,288 266.8,286.9 268.5,285.7 270.3,284.7 272.1,284.1 273.9,284.2 275.6,285 277.3,286.2 278.9,287.5 280.5,288.7 282,290 283.4,291.3 284.7,292.6 286,294.1 287.3,295.5 288.6,297 290,298.5" fill="none" stroke="#c8a0b0" stroke-width="0.45"/>
<path d="M187.4 175h0M189.4 175.6h0M191.4 176.3h0M193.4 177.2h0M195.4 178.2h0M197.4 179.2h0M199.4 180.2h0M201.4 181.1h0M203.4 182h0M205.4 182.6h0M207.4 183.1h0M209.4 183.4h0M211.4 183.5h0M213.4 183.3h0M215.4 182.9h0M217.4 182.3h0M219.4 181.6h0M221.4 180.7h0M223.4 179.7h0M225.4 178.7h0M227.4 177.7h0M229.4 176.8h0M231.4 176h0M233.4 175.3h0M235.4 174.8h0M237.4 174.6h0M239.4 174.5h0M241.4 174.7h0M243.4 175.1h0M245.4 175.7h0M247.4 176.5h0M249.4 177.4h0M251.4 178.4h0M253.4 179.4h0M255.4 180.4h0M257.4 181.3h0M259.4 182.1h0M261.4 182.8h0M263.4 183.2h0M265.4 183.5h0M267.4 183.5h0M269.4 183.3h0M271.4 182.8h0M273.4 182.2h0M275.4 181.4h0M277.4 180.5h0M279.4 179.5h0M281.4 178.5h0M283.4 177.5h0M285.4 176.6h0M287.4 175.8h0M289.4 175.2h0M291.4 174.7h0M293.4 174.5h0M295.4 174.5h0M297.4 174.8h0M299.4 175.2h0M301.4 175.9h0M303.4 176.7h0M305.4 177.6h0M307.4 178.6h0M309.4 179.6h0M311.4 180.6h0M313.4 181.5h0M315.4 182.3h0M317.4 182.9h0M319.4 183.3h0M321.4 183.5h0M323.4 183.5h0M325.4 183.2h0M327.4 182.7h0M329.4 182.1h0M331.4 181.2h0M333.4 180.3h0M335.4 179.3h0M187.4 187.1h0M189.4 187.8h0M191.4 188.2h0M193.4 188.5h0M195.4 188.5h0M197.4 188.3h0M199.4 187.8h0M201.4 187.2h0M203.4 186.4h0M205.4 185.5h0M207.4 184.5h0M209.4 183.5h0M211.4 182.5h0M213.4 181.6h0M215.4 180.8h0M217.4 180.2h0M219.4 179.7h0M221.4 179.5h0M223.4 179.5h0M225.4 179.8h0M227.4 180.2h0M229.4 180.9h0M231.4 181.7h0M233.4 182.6h0M235.4 183.6h0M237.4 184.6h0M239.4 185.6h0M241.4 186.5h0M243.4 187.2h0M245.4 187.9h0M247.4 188.3h0M249.4 188.5h0M251.4 188.5h0M253.4 188.2h0M255.4 187.7h0M257.4 187.1h0M259.4 186.3h0M261.4 185.3h0M263.4 184.3h0M265.4 183.3h0M267.4 182.3h0M269.4 181.4h0M271.4 180.7h0M273.4 180.1h0M275.4 179.7h0M277.4 179.5h0M279.4 179.6h0M281.4 179.8h0M283.4 180.3h0M285.4 181h0M287.4 181.8h0M289.4 182.8h0M291.4 183.8h0M293.4 184.8h0M295.4 185.8h0M297.4 186.6h0M299.4 187.4h0M301.4 188h0M303.4 188.3h0M305.4 188.5h0M307.4 188.4h0M309.4 188.1h0M311.4 187.6h0M313.4 186.9h0M315.4 186.1h0M317.4 185.1h0M319.4 184.1h0M321.4 183.1h0M323.4 182.2h0M325.4 181.3h0M327.4 180.5h0M329.4 180h0M331.4 179.6h0M333.4 179.5h0M335.4 179.6h0" stroke="#fc5454" stroke-width="1.2" stroke-linecap="round" stroke-opacity="0.3"/>
<path d="M187.4 191.3h0M189.4 190.3h0M191.4 189.3h0M193.4 188.3h0M195.4 187.4h0M197.4 186.5h0M199.4 185.7h0M201.4 185.1h0M203.4 184.7h0M205.4 184.5h0M207.4 184.6h0M209.4 184.8h0M211.4 185.3h0M213.4 186h0M215.4 186.8h0M217.4 187.8h0M219.4 188.8h0M221.4 189.8h0M223.4 190.7h0M225.4 191.6h0M227.4 192.4h0M229.4 193h0M231.4 193.3h0M233.4 193.5h0M235.4 193.4h0M237.4 193.1h0M239.4 192.6h0M241.4 191.9h0M243.4 191.1h0M245.4 190.2h0M247.4 189.1h0M249.4 188.1h0M251.4 187.2h0M253.4 186.3h0M255.4 185.6h0M257.4 185h0M259.4 184.6h0M261.4 184.5h0M263.4 184.6h0M265.4 184.9h0M267.4 185.4h0M269.4 186.1h0M271.4 187h0M273.4 187.9h0M275.4 189h0M277.4 190h0M279.4 190.9h0M281.4 191.8h0M283.4 192.5h0M285.4 193.1h0M287.4 193.4h0M289.4 193.5h0M291.4 193.4h0M293.4 193h0M295.4 192.5h0M297.4 191.8h0M299.4 190.9h0M301.4 190h0M303.4 188.9h0M305.4 187.9h0M307.4 187h0M309.4 186.1h0M311.4 185.4h0M313.4 184.9h0M315.4 184.6h0M317.4 184.5h0M319.4 184.6h0M321.4 185h0M323.4 185.6h0M325.4 186.3h0M327.4 187.2h0M329.4 188.1h0M331.4 189.2h0M333.4 190.2h0M335.4 191.1h0" stroke="#fc6060" stroke-width="1.2" stroke-linecap="round" stroke-opacity="0.3"/>
<path d="M187.4 189.6h0M189.4 189.5h0M191.4 189.6h0M193.4 189.9h0M195.4 190.4h0M197.4 191.1h0M199.4 192h0M201.4 192.9h0M203.4 193.9h0M205.4 194.9h0M207.4 195.9h0M209.4 196.8h0M211.4 197.5h0M213.4 198h0M215.4 198.4h0M217.4 198.5h0M219.4 198.4h0M221.4 198.1h0M223.4 197.5h0M225.4 196.8h0M227.4 195.9h0M229.4 195h0M231.4 194h0M233.4 193h0M235.4 192h0M237.4 191.1h0M239.4 190.4h0M241.4 189.9h0M243.4 189.6h0M245.4 189.5h0M247.4 189.6h0M249.4 190h0M251.4 190.6h0M253.4 191.3h0M255.4 192.2h0M257.4 193.1h0M259.4 194.1h0M261.4 195.1h0M263.4 196.1h0M265.4 196.9h0M267.4 197.6h0M269.4 198.1h0M271.4 198.4h0M273.4 198.5h0M275.4 198.3h0M277.4 198h0M279.4 197.4h0M281.4 196.6h0M283.4 195.7h0M285.4 194.8h0M287.4 193.8h0M289.4 192.8h0M291.4 191.8h0M293.4 191h0M295.4 190.3h0M297.4 189.8h0M299.4 189.6h0M301.4 189.5h0M303.4 189.7h0M305.4 190.1h0M307.4 190.7h0M309.4 191.5h0M311.4 192.4h0M313.4 193.3h0M315.4 194.3h0M317.4 195.3h0M319.4 196.3h0M321.4 197.1h0M323.4 197.7h0M325.4 198.2h0M327.4 198.5h0M329.4 198.5h0M331.4 198.3h0M333.4 197.9h0M335.4 197.2h0" stroke="#fc6c6c" stroke-width="1.2" stroke-linecap="round" stroke-opacity="0.3"/>
<path d="M187.4 199.1h0M189.4 200.1h0M191.4 201.1h0M193.4 201.9h0M195.4 202.6h0M197.4 203.1h0M199.4 203.4h0M201.4 203.5h0M203.4 203.3h0M205.4 203h0M207.4 202.4h0M209.4 201.6h0M211.4 200.8h0M213.4 199.8h0M215.4 198.8h0M217.4 197.8h0M219.4 196.8h0M221.4 196h0M223.4 195.3h0M225.4 194.8h0M227.4 194.6h0M229.4 194.5h0M231.4 194.7h0M233.4 195.1h0M235.4 195.7h0M237.4 196.4h0M239.4 197.3h0M241.4 198.3h0M243.4 199.3h0M245.4 200.3h0M247.4 201.3h0M249.4 202.1h0M251.4 202.7h0M253.4 203.2h0M255.4 203.5h0M257.4 203.5h0M259.4 203.3h0M261.4 202.9h0M263.4 202.3h0M265.4 201.5h0M267.4 200.6h0M269.4 199.6h0M271.4 198.6h0M273.4 197.6h0M275.4 196.7h0M277.4 195.9h0M279.4 195.2h0M281.4 194.8h0M283.4 194.5h0M285.4 194.5h0M287.4 194.7h0M289.4 195.2h0M291.4 195.8h0M293.4 196.6h0M295.4 197.5h0M297.4 198.5h0M299.4 199.5h0M301.4 200.5h0M303.4 201.4h0M305.4 202.2h0M307.4 202.8h0M309.4 203.3h0M311.4 203.5h0M313.4 203.5h0M315.4 203.2h0M317.4 202.8h0M319.4 202.1h0M321.4 201.3h0M323.4 200.4h0M325.4 199.4h0M327.4 198.4h0M329.4 197.4h0M331.4 196.5h0M333.4 195.7h0M335.4 195.1h0" stroke="#6c6cfc" stroke-width="1.2" stroke-linecap="round" stroke-opacity="0.3"/>
<path d="M187.4 208.3h0M189.4 207.9h0M191.4 207.3h0M193.4 206.5h0M195.4 205.6h0M197.4 204.6h0M199.4 203.6h0M201.4 202.6h0M203.4 201.7h0M205.4 200.9h0M207.4 200.2h0M209.4 199.8h0M211.4 199.5h0M213.4 199.5h0M215.4 199.7h0M217.4 200.2h0M219.4 200.8h0M221.4 201.6h0M223.4 202.5h0M225.4 203.5h0M227.4 204.5h0M229.4 205.5h0M231.4 206.4h0M233.4 207.2h0M235.4 207.8h0M237.4 208.3h0M239.4 208.5h0M241.4 208.5h0M243.4 208.2h0M245.4 207.8h0M247.4 207.1h0M249.4 206.3h0M251.4 205.4h0M253.4 204.4h0M255.4 203.4h0M257.4 202.4h0M259.4 201.5h0M261.4 200.7h0M263.4 200.1h0M265.4 199.7h0M267.4 199.5h0M269.4 199.6h0M271.4 199.8h0M273.4 200.3h0M275.4 201h0M277.4 201.8h0M279.4 202.7h0M281.4 203.7h0M283.4 204.7h0M285.4 205.7h0M287.4 206.6h0M289.4 207.3h0M291.4 207.9h0M293.4 208.3h0M295.4 208.5h0M297.4 208.4h0M299.4 208.1h0M301.4 207.7h0M303.4 207h0M305.4 206.1h0M307.4 205.2h0M309.4 204.2h0M311.4 203.2h0M313.4 202.2h0M315.4 201.3h0M317.4 200.6h0M319.4 200h0M321.4 199.6h0M323.4 199.5h0M325.4 199.6h0M327.4 199.9h0M329.4 200.4h0M331.4 201.1h0M333.4 202h0M335.4 202.9h0M187.4 206.5h0M189.4 205.7h0M191.4 205.1h0M193.4 204.7h0M195.4 204.5h0M197.4 204.5h0M199.4 204.8h0M201.4 205.3h0M203.4 205.9h0M205.4 206.8h0M207.4 207.7h0M209.4 208.7h0M211.4 209.7h0M213.4 210.7h0M215.4 211.6h0M217.4 212.3h0M219.4 212.9h0M221.4 213.3h0M223.4 213.5h0M225.4 213.4h0M227.4 213.2h0M229.4 212.7h0M231.4 212h0M233.4 211.1h0M235.4 210.2h0M237.4 209.2h0M239.4 208.2h0M241.4 207.2h0M243.4 206.3h0M245.4 205.6h0M247.4 205h0M249.4 204.7h0M251.4 204.5h0M253.4 204.6h0M255.4 204.9h0M257.4 205.4h0M259.4 206.1h0M261.4 206.9h0M263.4 207.9h0M265.4 208.9h0M267.4 209.9h0M269.4 210.9h0M271.4 211.7h0M273.4 212.5h0M275.4 213h0M277.4 213.4h0M279.4 213.5h0M281.4 213.4h0M283.4 213.1h0M285.4 212.5h0M287.4 211.8h0M289.4 211h0M291.4 210h0M293.4 209h0M295.4 208h0M297.4 207h0M299.4 206.2h0M301.4 205.5h0M303.4 204.9h0M305.4 204.6h0M307.4 204.5h0M309.4 204.6h0M311.4 205h0M313.4 205.5h0M315.4 206.3h0M317.4 207.1h0M319.4 208.1h0M321.4 209.1h0M323.4 210.1h0M325.4 211.1h0M327.4 211.9h0M329.4 212.6h0M331.4 213.1h0M333.4 213.4h0M335.4 213.5h0" stroke="#6060fc" stroke-width="1.2" stroke-linecap="round" stroke-opacity="0.3"/>
<path d="M187.4 213.5h0M189.4 214.5h0M191.4 215.5h0M193.4 216.5h0M195.4 217.4h0M197.4 218.2h0M199.4 218.8h0M201.4 219.3h0M203.4 219.5h0M205.4 219.5h0M207.4 219.2h0M209.4 218.8h0M211.4 218.1h0M213.4 217.3h0M215.4 216.4h0M217.4 215.4h0M219.4 214.4h0M221.4 213.4h0M223.4 212.5h0M225.4 211.7h0M227.4 211.1h0M229.4 210.7h0M231.4 210.5h0M233.4 210.6h0M235.4 210.8h0M237.4 211.3h0M239.4 212h0M241.4 212.8h0M243.4 213.7h0M245.4 214.7h0M247.4 215.7h0M249.4 216.7h0M251.4 217.6h0M253.4 218.4h0M255.4 218.9h0M257.4 219.3h0M259.4 219.5h0M261.4 219.4h0M263.4 219.1h0M265.4 218.6h0M267.4 218h0M269.4 217.1h0M271.4 216.2h0M273.4 215.2h0M275.4 214.2h0M277.4 213.2h0M279.4 212.3h0M281.4 211.6h0M283.4 211h0M285.4 210.6h0M287.4 210.5h0M289.4 210.6h0M291.4 210.9h0M293.4 211.4h0M295.4 212.1h0M297.4 213h0M299.4 213.9h0M301.4 214.9h0M303.4 215.9h0M305.4 216.9h0M307.4 217.8h0M309.4 218.5h0M311.4 219h0M313.4 219.4h0M315.4 219.5h0M317.4 219.4h0M319.4 219.1h0M321.4 218.5h0M323.4 217.8h0M325.4 216.9h0M327.4 216h0M329.4 215h0M331.4 214h0M333.4 213h0M335.4 212.2h0" stroke="#8484fc" stroke-width="1.2" stroke-linecap="round" stroke-opacity="0.3"/>
<path d="M187.4 225.3h0M189.4 224.9h0M191.4 224.2h0M193.4 223.5h0M195.4 222.6h0M197.4 221.6h0M199.4 220.6h0M201.4 219.6h0M203.4 218.6h0M205.4 217.8h0M207.4 217.2h0M209.4 216.8h0M211.4 216.5h0M213.4 216.5h0M215.4 216.8h0M217.4 217.2h0M219.4 217.8h0M221.4 218.6h0M223.4 219.5h0M225.4 220.5h0M227.4 221.5h0M229.4 222.5h0M231.4 223.4h0M233.4 224.2h0M235.4 224.8h0M237.4 225.3h0M239.4 225.5h0M241.4 225.5h0M243.4 225.2h0M245.4 224.7h0M247.4 224.1h0M249.4 223.3h0M251.4 222.4h0M253.4 221.4h0M255.4 220.3h0M257.4 219.4h0M259.4 218.5h0M261.4 217.7h0M263.4 217.1h0M265.4 216.7h0M267.4 216.5h0M269.4 216.6h0M271.4 216.8h0M273.4 217.3h0M275.4 218h0M277.4 218.8h0M279.4 219.7h0M281.4 220.7h0M283.4 221.8h0M285.4 222.7h0M287.4 223.6h0M289.4 224.4h0M291.4 225h0M293.4 225.3h0M295.4 225.5h0M297.4 225.4h0M299.4 225.1h0M301.4 224.6h0M303.4 223.9h0M305.4 223.1h0M307.4 222.2h0M309.4 221.2h0M311.4 220.1h0M313.4 219.2h0M315.4 218.3h0M317.4 217.6h0M319.4 217h0M321.4 216.6h0M323.4 216.5h0M325.4 216.6h0M327.4 216.9h0M329.4 217.4h0M331.4 218.1h0M333.4 219h0M335.4 219.9h0" stroke="#9090fc" stroke-width="1.2" stroke-linecap="round" stroke-opacity="0.3"/>
<path d="M201.4 268.6h0M203.4 266.8h0M205.4 265.3h0M207.4 264.1h0M209.4 263.1h0M211.4 262.5h0M213.4 262.1h0M215.4 262h0M217.4 262.2h0M219.4 262.7h0M221.4 263.5h0M223.4 264.5h0M225.4 265.8h0M227.4 267.5h0M229.4 269.4h0M293.4 268.6h0M295.4 266.8h0M297.4 265.3h0M299.4 264.1h0M301.4 263.1h0M303.4 262.5h0M305.4 262.1h0M307.4 262h0M309.4 262.2h0M311.4 262.7h0M313.4 263.5h0M315.4 264.5h0M317.4 265.8h0M319.4 267.5h0M321.4 269.4h0" stroke="#5454fc" stroke-width="1.2" stroke-linecap="round" stroke-opacity="0.28"/>
<path d="M237.4 276h0M239.4 273.5h0M241.4 271.4h0M243.4 269.9h0M245.4 268.8h0M247.4 268.2h0M249.4 268h0M251.4 268.3h0M253.4 269.1h0M255.4 270.4h0M257.4 272.2h0M259.4 274.4h0M261.4 277.1h0M285.4 276h0M287.4 273.5h0M289.4 271.4h0M291.4 269.9h0M293.4 268.8h0M295.4 268.2h0M297.4 268h0M299.4 268.3h0M301.4 269.1h0M303.4 270.4h0M305.4 272.2h0M307.4 274.4h0M309.4 277.1h0M287.4 289.9h0M289.4 288.5h0M291.4 287.3h0M293.4 286.2h0M295.4 285.2h0M297.4 284.5h0M299.4 283.9h0M301.4 283.4h0M303.4 283.1h0M305.4 283h0M307.4 283h0M309.4 283.2h0M311.4 283.6h0M313.4 284.1h0M315.4 284.8h0M317.4 285.6h0M319.4 286.6h0M321.4 287.7h0M323.4 289.1h0M325.4 290.5h0M187.4 290.7h0M189.4 290.9h0M191.4 291h0M193.4 290.8h0M195.4 290.5h0M197.4 290h0M199.4 289.3h0M201.4 288.5h0M203.4 287.6h0M205.4 286.7h0M207.4 285.9h0M209.4 285h0M211.4 284.3h0M213.4 283.7h0M215.4 283.3h0M217.4 283h0M219.4 283h0M221.4 283.2h0M223.4 283.5h0M225.4 284.1h0M227.4 284.8h0M229.4 285.6h0M231.4 286.4h0M233.4 287.4h0M235.4 288.2h0M237.4 289.1h0M239.4 289.8h0M241.4 290.3h0M243.4 290.8h0M245.4 291h0M247.4 291h0M249.4 290.8h0M251.4 290.4h0M253.4 289.9h0M255.4 289.2h0M257.4 288.3h0M259.4 287.5h0M261.4 286.6h0M263.4 285.7h0M265.4 284.9h0M267.4 284.2h0M269.4 283.6h0M271.4 283.2h0M273.4 283h0M275.4 283h0M277.4 283.2h0M279.4 283.6h0M281.4 284.2h0M283.4 284.9h0M285.4 285.7h0M287.4 286.6h0M289.4 287.5h0M291.4 288.4h0M293.4 289.2h0M295.4 289.9h0M297.4 290.4h0M299.4 290.8h0M301.4 291h0M303.4 291h0M305.4 290.7h0M307.4 290.3h0M309.4 289.7h0M311.4 289h0M313.4 288.2h0M315.4 287.3h0M317.4 286.4h0M319.4 285.5h0M321.4 284.7h0M323.4 284h0M325.4 283.5h0M327.4 283.2h0M329.4 283h0M331.4 283.1h0M333.4 283.3h0M335.4 283.7h0" stroke="#6c6cfc" stroke-width="1.2" stroke-linecap="round" stroke-opacity="0.28"/>
<path d="M245.4 275.6h0M247.4 273.7h0M249.4 271.9h0M251.4 270.2h0M253.4 268.8h0M255.4 267.4h0M257.4 266.2h0M259.4 265.2h0M261.4 264.3h0M263.4 263.5h0M265.4 262.9h0M267.4 262.5h0M269.4 262.2h0M271.4 262h0M273.4 262h0M275.4 262.2h0M277.4 262.4h0M279.4 262.9h0M281.4 263.5h0M283.4 264.2h0M285.4 265.1h0M287.4 266.1h0M289.4 267.3h0M291.4 268.6h0M293.4 270.1h0M295.4 271.7h0M297.4 273.5h0M299.4 275.4h0" stroke="#9090fc" stroke-width="1.2" stroke-linecap="round" stroke-opacity="0.28"/>
<path d="M205.4 285.5h0M207.4 283.4h0M209.4 281.6h0M211.4 280h0M213.4 278.7h0M215.4 277.6h0M217.4 276.8h0M219.4 276.3h0M221.4 276h0M223.4 276h0M225.4 276.3h0M227.4 276.8h0M229.4 277.6h0M231.4 278.6h0M233.4 279.9h0M235.4 281.4h0M237.4 283.2h0M239.4 285.3h0M283.4 284.5h0M285.4 282.6h0M287.4 280.9h0M289.4 279.5h0M291.4 278.3h0M293.4 277.3h0M295.4 276.7h0M297.4 276.2h0M299.4 276h0M301.4 276.1h0M303.4 276.4h0M305.4 276.9h0M307.4 277.7h0M309.4 278.7h0M311.4 280h0M313.4 281.5h0M315.4 283.3h0M317.4 285.3h0" stroke="#6060fc" stroke-width="1.2" stroke-linecap="round" stroke-opacity="0.28"/>
<path d="M221.4 289.9h0M223.4 288.5h0M225.4 287.3h0M227.4 286.2h0M229.4 285.2h0M231.4 284.5h0M233.4 283.9h0M235.4 283.4h0M237.4 283.1h0M239.4 283h0M241.4 283h0M243.4 283.2h0M245.4 283.6h0M247.4 284.1h0M249.4 284.8h0M251.4 285.6h0M253.4 286.6h0M255.4 287.7h0M257.4 289.1h0M259.4 290.5h0" stroke="#fc6c6c" stroke-width="1.2" stroke-linecap="round" stroke-opacity="0.28"/>
<path d="M187.4 292h0M189.4 291.2h0M191.4 290.4h0M193.4 289.8h0M195.4 289.3h0M197.4 289.1h0M199.4 289h0M201.4 289.1h0M203.4 289.5h0M205.4 290h0M207.4 290.6h0M209.4 291.4h0M211.4 292.3h0M213.4 293.2h0M215.4 294.1h0M217.4 294.9h0M219.4 295.7h0M221.4 296.3h0M223.4 296.7h0M225.4 296.9h0M227.4 297h0M229.4 296.8h0M231.4 296.5h0M233.4 296h0M235.4 295.3h0M237.4 294.5h0M239.4 293.6h0M241.4 292.7h0M243.4 291.8h0M245.4 291h0M247.4 290.3h0M249.4 289.7h0M251.4 289.3h0M253.4 289h0M255.4 289h0M257.4 289.2h0M259.4 289.6h0M261.4 290.1h0M263.4 290.8h0M265.4 291.6h0M267.4 292.5h0M269.4 293.4h0M271.4 294.3h0M273.4 295.1h0M275.4 295.8h0M277.4 296.4h0M279.4 296.8h0M281.4 297h0M283.4 297h0M285.4 296.8h0M287.4 296.4h0M289.4 295.8h0M291.4 295.1h0M293.4 294.3h0M295.4 293.4h0M297.4 292.5h0M299.4 291.7h0M301.4 290.8h0M303.4 290.1h0M305.4 289.6h0M307.4 289.2h0M309.4 289h0M311.4 289h0M313.4 289.2h0M315.4 289.7h0M317.4 290.2h0M319.4 290.9h0M321.4 291.8h0M323.4 292.6h0M325.4 293.6h0M327.4 294.4h0M329.4 295.2h0M331.4 295.9h0M333.4 296.5h0M335.4 296.8h0" stroke="#8484fc" stroke-width="1.2" stroke-linecap="round" stroke-opacity="0.28"/>
<path d="M187.4 189.7h0M189.4 190.3h0M191.4 191.3h0M193.4 192.6h0M195.4 194h0M197.4 195.4h0M199.4 196.9h0M201.4 198.5h0M203.4 200.2h0M205.4 202h0M207.4 203.8h0M209.4 205.6h0M211.4 207.3h0M213.4 208.9h0M215.4 210.3h0M217.4 211.5h0M219.4 212.6h0M221.4 213.6h0M223.4 214.3h0M225.4 214.5h0M227.4 214.4h0M229.4 214.2h0M231.4 213.9h0M233.4 213.6h0M235.4 213.4h0M237.4 213.1h0M239.4 212.9h0M241.4 212.6h0M243.4 212.4h0M245.4 212.1h0M247.4 211.9h0" stroke="#fc1818" stroke-width="3.6" stroke-linecap="round"/>
<path d="M249.4 212h0" stroke="#cc2454" stroke-width="3.6" stroke-linecap="round"/>
<path d="M251.4 212.5h0" stroke="#6024cc" stroke-width="4.0" stroke-linecap="round"/>
<path d="M253.4 213.8h0M291.4 213.9h0M187.4 280h0M189.4 280.1h0M191.4 280.2h0M193.4 280.5h0M195.4 281h0M327.4 281h0M329.4 280.5h0M331.4 280.2h0M333.4 280.1h0M335.4 280h0" stroke="#2424fc" stroke-width="4.0" stroke-linecap="round"/>
<path d="M255.4 215.7h0M289.4 214.6h0" stroke="#2424fc" stroke-width="4.2" stroke-linecap="round"/>
<path d="M257.4 217.5h0M259.4 219h0M287.4 216.1h0" stroke="#2424fc" stroke-width="4.4" stroke-linecap="round"/>
<path d="M261.4 220.5h0M263.4 222.2h0M283.4 220.7h0M285.4 218.2h0" stroke="#2424fc" stroke-width="4.6" stroke-linecap="round"/>
<path d="M265.4 224.3h0M267.4 226.2h0M269.4 227.8h0M271.4 228.7h0M273.4 229h0M275.4 228.6h0M277.4 227.6h0M279.4 225.8h0M281.4 223.3h0" stroke="#2424fc" stroke-width="4.8" stroke-linecap="round"/>
<path d="M293.4 214.3h0" stroke="#6024e4" stroke-width="3.0" stroke-linecap="round"/>
<path d="M295.4 215.8h0" stroke="#9c24b4" stroke-width="2.0" stroke-linecap="round"/>
<path d="M297.4 218.5h0" stroke="#cc2478" stroke-width="1.8" stroke-linecap="round"/>
<path d="M299.4 220.5h0M301.4 221.9h0M303.4 222.8h0M305.4 223h0M307.4 222.6h0M309.4 221.7h0M311.4 220.2h0M313.4 218.1h0M315.4 215.5h0" stroke="#cc2478" stroke-width="1.6" stroke-linecap="round"/>
<path d="M317.4 212.9h0" stroke="#b4249c" stroke-width="1.6" stroke-linecap="round"/>
<path d="M319.4 210.3h0M321.4 207.5h0M323.4 204.8h0M325.4 202.4h0M187.4 195.1h0M189.4 195.5h0M191.4 196.6h0M193.4 198.3h0" stroke="#9024cc" stroke-width="1.6" stroke-linecap="round"/>
<path d="M327.4 199.8h0" stroke="#a824b4" stroke-width="1.6" stroke-linecap="round"/>
<path d="M329.4 197.2h0" stroke="#c02490" stroke-width="1.6" stroke-linecap="round"/>
<path d="M331.4 194.6h0" stroke="#d82460" stroke-width="1.6" stroke-linecap="round"/>
<path d="M333.4 192.4h0" stroke="#fc2424" stroke-width="1.6" stroke-linecap="round"/>
<path d="M335.4 190.8h0" stroke="#fc1818" stroke-width="1.6" stroke-linecap="round"/>
<path d="M295.4 217h0M307.4 223.8h0" stroke="#cc246c" stroke-width="1.4" stroke-linecap="round"/>
<path d="M297.4 219.5h0M315.4 205.5h0" stroke="#f0243c" stroke-width="1.4" stroke-linecap="round"/>
<path d="M299.4 222.3h0M301.4 224h0M303.4 224.6h0M317.4 204.6h0M319.4 203.5h0M321.4 202.2h0M323.4 200.6h0M325.4 198.9h0M327.4 196.9h0M329.4 194.9h0M331.4 192.9h0M333.4 191.5h0M335.4 190.6h0M259.4 184.8h0" stroke="#fc1818" stroke-width="1.4" stroke-linecap="round"/>
<path d="M305.4 224.5h0" stroke="#f02430" stroke-width="1.4" stroke-linecap="round"/>
<path d="M195.4 200.5h0" stroke="#8424d8" stroke-width="1.6" stroke-linecap="round"/>
<path d="M197.4 203h0" stroke="#6c24e4" stroke-width="1.8" stroke-linecap="round"/>
<path d="M199.4 205.4h0" stroke="#6024e4" stroke-width="1.8" stroke-linecap="round"/>
<path d="M201.4 207.7h0M245.4 298.8h0M247.4 297h0M249.4 295.4h0M251.4 293.9h0M241.4 299.7h0M243.4 299.3h0M245.4 298.8h0M247.4 298.1h0M249.4 297.4h0M251.4 296.5h0" stroke="#6024e4" stroke-width="2.0" stroke-linecap="round"/>
<path d="M203.4 209.8h0" stroke="#4824f0" stroke-width="2.0" stroke-linecap="round"/>
<path d="M205.4 211.7h0" stroke="#3024fc" stroke-width="2.2" stroke-linecap="round"/>
<path d="M207.4 213.4h0" stroke="#2424fc" stroke-width="2.4" stroke-linecap="round"/>
<path d="M209.4 214.6h0M301.4 204.5h0M303.4 204.9h0M305.4 205.3h0M307.4 205.7h0" stroke="#2424fc" stroke-width="3.0" stroke-linecap="round"/>
<path d="M211.4 215h0M213.4 214.6h0M215.4 213.7h0M217.4 212.4h0M219.4 210.8h0M221.4 209.3h0M223.4 207.6h0M225.4 205.9h0M227.4 204.1h0M229.4 202.5h0M231.4 200.9h0M233.4 199.5h0M235.4 198.3h0M237.4 197.4h0M239.4 197.2h0M241.4 197.4h0M201.4 284.9h0M203.4 286.7h0M205.4 289h0M207.4 291.9h0M209.4 295.4h0M211.4 300.2h0M311.4 300.2h0M313.4 295.4h0M315.4 291.9h0M317.4 289h0M319.4 286.7h0M321.4 284.9h0" stroke="#2424fc" stroke-width="3.6" stroke-linecap="round"/>
<path d="M243.4 197.3h0" stroke="#2424fc" stroke-width="3.2" stroke-linecap="round"/>
<path d="M245.4 196.9h0M297.4 203.4h0M299.4 204h0M309.4 206h0M311.4 205.9h0" stroke="#2424fc" stroke-width="2.8" stroke-linecap="round"/>
<path d="M247.4 196.1h0M295.4 202.6h0" stroke="#2424fc" stroke-width="2.6" stroke-linecap="round"/>
<path d="M249.4 194.9h0" stroke="#3024fc" stroke-width="2.4" stroke-linecap="round"/>
<path d="M251.4 193.2h0" stroke="#5424f0" stroke-width="2.2" stroke-linecap="round"/>
<path d="M253.4 191h0M251.4 195h0" stroke="#7824d8" stroke-width="2.2" stroke-linecap="round"/>
<path d="M255.4 188.5h0M289.4 293.5h0" stroke="#9c24c0" stroke-width="2.2" stroke-linecap="round"/>
<path d="M257.4 185.7h0M257.4 190.2h0" stroke="#b4249c" stroke-width="2.2" stroke-linecap="round"/>
<path d="M259.4 183.3h0" stroke="#cc246c" stroke-width="2.2" stroke-linecap="round"/>
<path d="M261.4 181.4h0" stroke="#f0243c" stroke-width="2.2" stroke-linecap="round"/>
<path d="M263.4 179.6h0M265.4 177.9h0M267.4 176.5h0M263.4 182.6h0M265.4 179.6h0M267.4 177.3h0M269.4 176h0M321.4 199.8h0M323.4 198.1h0M325.4 196.3h0M327.4 194.4h0M329.4 192.7h0M331.4 191.2h0M333.4 190.1h0M335.4 189.5h0" stroke="#fc1818" stroke-width="2.2" stroke-linecap="round"/>
<path d="M253.4 193.8h0M255.4 192.2h0M257.4 289.8h0M257.4 293.2h0M289.4 297.9h0" stroke="#9024cc" stroke-width="2.2" stroke-linecap="round"/>
<path d="M259.4 187.9h0" stroke="#d8246c" stroke-width="2.2" stroke-linecap="round"/>
<path d="M261.4 185.5h0" stroke="#fc2430" stroke-width="2.2" stroke-linecap="round"/>
<path d="M277.4 176.5h0M279.4 177.8h0M281.4 180h0M283.4 183.4h0M275.4 177.3h0M277.4 179.5h0M279.4 182.5h0" stroke="#fc1818" stroke-width="2.0" stroke-linecap="round"/>
<path d="M285.4 188.7h0" stroke="#fc2424" stroke-width="2.0" stroke-linecap="round"/>
<path d="M287.4 193.6h0M289.4 196.6h0M283.4 190.2h0M285.4 194.3h0" stroke="#cc2478" stroke-width="2.0" stroke-linecap="round"/>
<path d="M291.4 199.3h0" stroke="#8424c0" stroke-width="2.2" stroke-linecap="round"/>
<path d="M293.4 201.3h0" stroke="#4824f0" stroke-width="2.4" stroke-linecap="round"/>
<path d="M313.4 205.4h0" stroke="#6c24c0" stroke-width="2.6" stroke-linecap="round"/>
<path d="M315.4 204.3h0" stroke="#c02478" stroke-width="2.4" stroke-linecap="round"/>
<path d="M317.4 202.9h0" stroke="#d82454" stroke-width="2.4" stroke-linecap="round"/>
<path d="M319.4 201.4h0" stroke="#f02430" stroke-width="2.2" stroke-linecap="round"/>
<path d="M281.4 186.2h0" stroke="#f02430" stroke-width="2.0" stroke-linecap="round"/>
<path d="M287.4 197.6h0" stroke="#a824a8" stroke-width="2.0" stroke-linecap="round"/>
<path d="M289.4 200.2h0M291.4 202h0" stroke="#9024cc" stroke-width="2.0" stroke-linecap="round"/>
<path d="M313.4 206.3h0" stroke="#d82460" stroke-width="1.4" stroke-linecap="round"/>
<path d="M253.4 292.5h0M253.4 295.5h0" stroke="#6c24d8" stroke-width="2.0" stroke-linecap="round"/>
<path d="M255.4 291.1h0M291.4 295.9h0M255.4 294.4h0" stroke="#8424d8" stroke-width="2.2" stroke-linecap="round"/>
<path d="M259.4 288.4h0M287.4 291.3h0M259.4 291.8h0" stroke="#a824a8" stroke-width="2.2" stroke-linecap="round"/>
<path d="M261.4 287.1h0M261.4 290.5h0" stroke="#c02484" stroke-width="2.4" stroke-linecap="round"/>
<path d="M263.4 285.6h0M263.4 289.1h0" stroke="#d82460" stroke-width="2.4" stroke-linecap="round"/>
<path d="M265.4 284.1h0" stroke="#e42448" stroke-width="2.6" stroke-linecap="round"/>
<path d="M267.4 282.5h0M267.4 286.5h0" stroke="#fc2424" stroke-width="2.6" stroke-linecap="round"/>
<path d="M269.4 281h0M277.4 282h0M269.4 285.2h0M277.4 286.3h0" stroke="#fc1818" stroke-width="2.6" stroke-linecap="round"/>
<path d="M271.4 279.9h0M273.4 279.8h0M275.4 280.6h0M271.4 284.2h0M273.4 284.1h0M275.4 284.9h0" stroke="#fc1818" stroke-width="2.8" stroke-linecap="round"/>
<path d="M279.4 283.6h0M279.4 287.9h0" stroke="#f02430" stroke-width="2.6" stroke-linecap="round"/>
<path d="M281.4 285.4h0M281.4 289.5h0" stroke="#e42454" stroke-width="2.4" stroke-linecap="round"/>
<path d="M283.4 287.2h0M283.4 291.3h0" stroke="#cc246c" stroke-width="2.4" stroke-linecap="round"/>
<path d="M285.4 289.2h0" stroke="#c02490" stroke-width="2.4" stroke-linecap="round"/>
<path d="M293.4 298.5h0" stroke="#6c24e4" stroke-width="2.0" stroke-linecap="round"/>
<path d="M265.4 287.8h0" stroke="#e4243c" stroke-width="2.6" stroke-linecap="round"/>
<path d="M285.4 293.4h0" stroke="#b42490" stroke-width="2.4" stroke-linecap="round"/>
<path d="M287.4 295.6h0" stroke="#a824b4" stroke-width="2.2" stroke-linecap="round"/>
<path d="M197.4 281.8h0M199.4 283.2h0M323.4 283.2h0M325.4 281.8h0" stroke="#2424fc" stroke-width="3.8" stroke-linecap="round"/>
<path d="M186.4 259.6h0M188.4 260.2h0M190.4 260.8h0M192.4 261.6h0M336.4 259.6h0M334.4 260.2h0M332.4 260.8h0M330.4 261.6h0" stroke="#2424fc" stroke-width="2.0" stroke-linecap="round"/>
<path d="M194.4 262.6h0M196.4 263.8h0M198.4 265.2h0M328.4 262.6h0M326.4 263.8h0M324.4 265.2h0M190.4 289.7h0M192.4 290.4h0M194.4 290.9h0M196.4 291.5h0M198.4 292h0M200.4 292.6h0M202.4 293.3h0M204.4 294.3h0M206.4 295.6h0M208.4 297.4h0M210.4 300.3h0M332.4 289.7h0M330.4 290.4h0M328.4 290.9h0M326.4 291.5h0M324.4 292h0M322.4 292.6h0M320.4 293.3h0M318.4 294.3h0M316.4 295.6h0M314.4 297.4h0M312.4 300.3h0" stroke="#2424fc" stroke-width="1.8" stroke-linecap="round"/>
<path d="M200.4 267h0M322.4 267h0M190.4 292.3h0M192.4 293h0M194.4 293.5h0M196.4 294.1h0M198.4 294.7h0M200.4 295.4h0M202.4 296.4h0M204.4 297.8h0M206.4 299.7h0M332.4 292.3h0M330.4 293h0M328.4 293.5h0M326.4 294.1h0M324.4 294.7h0M322.4 295.4h0M320.4 296.4h0M318.4 297.8h0M316.4 299.7h0" stroke="#2424fc" stroke-width="1.6" stroke-linecap="round"/>
<path d="M202.4 269.3h0M320.4 269.3h0" stroke="#2424fc" stroke-width="1.4" stroke-linecap="round"/>
</g>
<g clip-path="url(#cg)">
<path d="M356.5,175.5 358,176.8 359.6,177.9 361.2,179 362.9,179.9 364.6,180.9 366.4,181.8 368.1,182.7 369.9,183.5 371.7,184.3 373.5,185 375.4,185.6 377.3,185.9 379.2,186 381.2,185.7 383.1,185.3 384.9,184.7 386.7,183.9 388.5,183 390.2,182 391.9,181 393.5,179.9 395.1,178.8 396.6,177.5 398,176.2" fill="none" stroke="#c8a0b0" stroke-width="0.45"/>
<path d="M355.5,175.5 356.7,177 358,178.5 359.2,180.1 360.4,181.6 361.6,183.1 362.9,184.6 364.2,186 365.6,187.4 367.1,188.7 368.6,189.9 370.4,190.8 372.3,191.4 374.2,191.6 376.1,191.4 378,190.7 379.8,189.9 381.6,189 383.3,188.2 385,187.3 386.8,186.4 388.4,185.4 390.1,184.4 391.7,183.3 393.4,182.3 395.1,181.2 396.7,180.1 398.2,179 399.7,177.7 401,176.2" fill="none" stroke="#c8a0b0" stroke-width="0.45"/>
<path d="M357,184.5 358.3,186 359.6,187.5 361,188.8 362.4,190.2 363.9,191.4 365.4,192.6 367.1,193.6 368.9,194.5 370.8,195.3 372.7,195.6 374.6,195.4 376.5,194.8 378.3,194 380.1,193.2 381.8,192.3 383.6,191.5 385.3,190.7 387.1,189.9 388.9,189.2" fill="none" stroke="#c8a0b0" stroke-width="0.45"/>
<path d="M372,203.5 373.6,202.3 375.3,201.3 377,200.4 378.7,199.6 380.5,198.7 382.2,197.8 383.9,196.8 385.5,195.7 387.2,194.7 388.8,193.7 390.5,192.7 392.3,191.8 394,191 395.8,190.1 397.6,189.4 399.4,188.7 401.2,188 403.1,187.4 405,186.8 406.9,186.3 408.8,186 410.7,185.8 412.7,185.8 414.6,186.1 416.3,186.9 417.9,188.2 419.2,189.6 420.4,191.2 421.5,192.8 422.5,194.4 423.6,196.1 424.5,197.8 425.6,199.4 426.6,201.1 427.7,202.7 428.8,204.3 430,205.9 431.3,207.3 432.8,208.6 434.4,209.7 436.1,210.7 438,210.8 439.8,210 441.4,208.8 442.8,207.4 444,205.8 445.1,204.3 446.1,202.6 447.2,201 448.3,199.3 449.4,197.7 450.8,196.3 452.5,195.3 454.4,194.8 456.3,195.2 458,196.2 459.5,197.6 460.8,198.9 462.4,200.1 464.1,201 466,201.6 468,201.9 469.9,201.9 471.9,201.5 473.7,200.9 475.4,199.9 477,198.7 478.5,197.5 479.9,196.1 481.3,194.7 482.6,193.3 483.8,191.8 485.1,190.3 486.2,188.7 487.3,187.1 488.4,185.4 489.3,183.7 490.2,182 491,180.2 491.8,178.4 492.5,176.6" fill="none" stroke="#c8a0b0" stroke-width="0.45"/>
<path d="M412,187.5 413.7,188.4 415.4,189.4 417,190.5 418.5,191.8 419.9,193.2 421.2,194.7 422.3,196.3 423.4,197.9 424.4,199.6 425.5,201.2 426.6,202.8 427.7,204.4 428.9,205.9 430.2,207.4 431.5,208.9 432.9,210.2 434.6,211.3 436.4,212.1 438.3,212.3 440.2,211.7" fill="none" stroke="#c8a0b0" stroke-width="0.45"/>
<path d="M458,198.5 459.2,200.1 460.6,201.5 462.1,202.7 463.6,203.9 465.2,204.9 466.9,206 468.6,207 470.4,207.9 472.3,208.3 474.2,208.1 476.1,207.4 477.7,206.4 479.1,205 480.4,203.5 481.6,201.9 482.8,200.4 483.9,198.8 484.9,197.1 486,195.5 487,193.8 487.9,192.1 488.8,190.4 489.7,188.6 490.5,186.8 491.2,185 491.9,183.2 492.6,181.4 493.2,179.5 493.8,177.6 494.4,175.8" fill="none" stroke="#c8a0b0" stroke-width="0.45"/>
<path d="M446,175.5 447.7,176.5 449.5,177.1 451.4,177.5 453.4,177.9 455.3,178.4 457.1,179.1 458.8,180 460.5,181 462.2,182 463.9,182.9 465.6,183.8 467.4,184.7 469.2,185.5 471.1,186.1 473,186.5 474.9,186.4 476.8,185.8 478.5,184.8 480.3,183.8 481.9,182.8 483.5,181.6 485,180.5 486.6,179.3 488.1,178 489.5,176.7" fill="none" stroke="#c8a0b0" stroke-width="0.45"/>
<path d="M454,175.5 455.9,176.2 457.6,177 459.3,178 460.9,179.1 462.5,180.2 464.2,181.2 466,182.1 467.8,182.8 469.7,183.2 471.7,183.5 473.7,183.5 475.6,183.2 477.5,182.6 479.3,181.8 480.9,180.7 482.4,179.5 483.9,178.1 485.3,176.7" fill="none" stroke="#c8a0b0" stroke-width="0.45"/>
<path d="M449,175.5 450.7,176.5 452.4,177.4 454.1,178.4 455.7,179.5 457.4,180.5 459,181.6 460.7,182.6 462.3,183.7 463.9,184.7 465.6,185.8 467.3,186.8 469.1,187.6 471,188.2 472.9,188.4 474.8,188.2 476.7,187.6 478.5,186.7 480.2,185.7 481.8,184.5 483.3,183.2 484.6,181.9 486,180.4 487.2,178.9 488.5,177.4 489.7,175.9" fill="none" stroke="#c8a0b0" stroke-width="0.45"/>
<path d="M406,175.5 407.8,176.3 409.6,177 411.5,177.6 413.4,177.8 415.4,177.4 417.2,176.7 418.8,175.6" fill="none" stroke="#c8a0b0" stroke-width="0.45"/>
<path d="M348.5,259.6 350.4,259.7 352.4,260 354.3,260.5 356.1,261.1 357.9,262 359.5,263.1 361,264.3 362.4,265.7 363.7,267.2 364.9,268.7 366.1,270.3 367.2,271.8 368.4,273.4 369.5,275 370.7,276.5 371.9,278.1 373.1,279.7 374.2,281.2 375.5,282.8 376.7,284.2 378.1,285.6 379.6,286.9 381.3,287.9 383.1,288.6 385,288.9 387,288.7 388.8,288 390.5,287 392.1,285.9 393.8,284.9 395.6,284.1 397.4,283.4 399.3,282.8 400.9,281.8 402.3,280.4 403.4,278.8 404.4,277 405.3,275.2 406.2,273.5 407.2,271.9 408.5,270.5 410,269.3 411.6,268.1 413.2,266.9 414.8,265.7 416.3,264.5 417.7,263.2 419.1,261.8 420.5,260.5 422,259.1 423.4,257.8 424.9,256.5 426.3,255.2 427.9,254.1 429.4,252.9 431.1,251.9 432.8,250.8 434.6,249.9 436.4,249.6 438.3,250.1 440.1,251.1 441.5,252.4 442.8,253.9 444.1,255.4 445.4,256.8 446.8,258.2 448.2,259.6 449.5,261 450.5,262.7 451.4,264.4 452.3,266.2 453.5,267.7 454.9,269 456.5,270.2 458.2,271.3 459.8,272.3 461.4,273.4 463.1,274.4 464.8,275.3 466.6,276.1 468.5,276.7 470.4,277 472.4,276.9 474.3,276.3 476,275.3 477.5,274.1 479,272.8 480.4,271.5 481.8,270.1 483.2,268.7 484.5,267.3 485.9,265.9 487.3,264.6 488.7,263.2 490.3,262 491.9,261 493.7,260.2 495.6,259.7 497.5,259.4 499.5,259.3" fill="none" stroke="#c8a0b0" stroke-width="0.45"/>
<path d="M378,300.5 379.3,299 380.8,297.8 382.5,297 384.4,296.4 386.3,295.9 388.2,295.4 390.1,294.9 392,294.2 393.8,293.4 395.6,292.7 397.4,292 399.2,291.3 401,290.5 402.6,289.4 404.1,288.1 405.3,286.6 406.5,285 407.7,283.5 409.1,282.2 410.7,281 412.2,279.8 413.8,278.6 415.4,277.5 417,276.3 418.5,275.1 420.1,274 421.6,272.8 423.1,271.5 424.7,270.4 426.3,269.2 427.8,268.1 429.5,267 431.1,266 432.9,265.1 434.7,264.3 436.6,264.1 438.5,264.6 440.3,265.6 441.8,266.8 443.1,268.3 444.4,269.8 445.7,271.2 447,272.7 448.4,274 449.8,275.4 451.2,276.7 452.7,278 454.2,279.2 455.8,280.4 457.5,281.3 459.2,282.2 461.1,282.8 462.9,283.4 464.8,284 466.8,284.5 468.7,284.5 470.5,283.9 472.2,282.9 473.8,281.7 475.2,280.3 476.4,278.8 477.7,277.4" fill="none" stroke="#c8a0b0" stroke-width="0.45"/>
<path d="M348.5,279.7 350.5,279.7 352.4,279.9 354.3,280.2 356.3,280.6 358.1,281.2 360,281.8 361.8,282.6 363.6,283.4 365.3,284.3 366.9,285.4 368.5,286.6 369.9,287.9" fill="none" stroke="#c8a0b0" stroke-width="0.45"/>
<path d="M478,286 479.7,285.1 481.4,284.1 483.1,283 484.8,282 486.6,281.2 488.4,280.5 490.3,280.1 492.2,279.9 494.2,279.8 496.2,279.8 498.2,279.8 500.1,279.7" fill="none" stroke="#c8a0b0" stroke-width="0.45"/>
<path d="M405,283 405.2,284.9 405.5,286.9 405.8,288.8 406.1,290.8 406.5,292.7 406.8,294.6 407.1,296.6 407.4,298.5 407.6,300.4" fill="none" stroke="#c8a0b0" stroke-width="0.45"/>
<path d="M403.5,300.5 403.6,298.5 403.8,296.6 404,294.7 404.2,292.7 404.5,290.8 404.8,288.8 405.1,286.9" fill="none" stroke="#c8a0b0" stroke-width="0.45"/>
<path d="M350.5 177h0M352.5 177.9h0M354.5 178.8h0M356.5 179.8h0M358.5 180.8h0M360.5 181.8h0M362.5 182.7h0M364.5 183.4h0M366.5 184h0M368.5 184.3h0M370.5 184.5h0M372.5 184.4h0M374.5 184.1h0M376.5 183.6h0M378.5 182.9h0M380.5 182.1h0M382.5 181.1h0M384.5 180.1h0M386.5 179.1h0M388.5 178.2h0M390.5 177.3h0M392.5 176.6h0M394.5 176h0M396.5 175.6h0M398.5 175.5h0M400.5 175.6h0M402.5 175.9h0M404.5 176.4h0M406.5 177.1h0M408.5 178h0M410.5 178.9h0M412.5 179.9h0M414.5 180.9h0M416.5 181.9h0M418.5 182.7h0M420.5 183.5h0M422.5 184h0M424.5 184.4h0M426.5 184.5h0M428.5 184.4h0M430.5 184.1h0M432.5 183.6h0M434.5 182.8h0M436.5 182h0M438.5 181h0M440.5 180h0M442.5 179h0M444.5 178.1h0M446.5 177.2h0M448.5 176.5h0M450.5 176h0M452.5 175.6h0M454.5 175.5h0M456.5 175.6h0M458.5 175.9h0M460.5 176.5h0M462.5 177.2h0M464.5 178h0M466.5 179h0M468.5 180h0M470.5 181h0M472.5 182h0M474.5 182.8h0M476.5 183.5h0M478.5 184.1h0M480.5 184.4h0M482.5 184.5h0M484.5 184.4h0M486.5 184h0M488.5 183.5h0M490.5 182.8h0M492.5 181.9h0M494.5 180.9h0M496.5 179.9h0M498.5 178.9h0M350.5 189.1h0M352.5 189.4h0M354.5 189.5h0M356.5 189.4h0M358.5 189h0M360.5 188.5h0M362.5 187.8h0M364.5 186.9h0M366.5 185.9h0M368.5 184.9h0M370.5 183.9h0M372.5 183h0M374.5 182.1h0M376.5 181.4h0M378.5 180.9h0M380.5 180.6h0M382.5 180.5h0M384.5 180.6h0M386.5 181h0M388.5 181.6h0M390.5 182.3h0M392.5 183.2h0M394.5 184.1h0M396.5 185.1h0M398.5 186.1h0M400.5 187.1h0M402.5 187.9h0M404.5 188.6h0M406.5 189.1h0M408.5 189.4h0M410.5 189.5h0M412.5 189.4h0M414.5 189h0M416.5 188.4h0M418.5 187.7h0M420.5 186.8h0M422.5 185.8h0M424.5 184.8h0M426.5 183.8h0M428.5 182.9h0M430.5 182.1h0M432.5 181.4h0M434.5 180.9h0M436.5 180.6h0M438.5 180.5h0M440.5 180.7h0M442.5 181h0M444.5 181.6h0M446.5 182.4h0M448.5 183.2h0M450.5 184.2h0M452.5 185.2h0M454.5 186.2h0M456.5 187.2h0M458.5 188h0M460.5 188.7h0M462.5 189.2h0M464.5 189.4h0M466.5 189.5h0M468.5 189.3h0M470.5 188.9h0M472.5 188.3h0M474.5 187.6h0M476.5 186.7h0M478.5 185.7h0M480.5 184.7h0M482.5 183.7h0M484.5 182.8h0M486.5 182h0M488.5 181.3h0M490.5 180.8h0M492.5 180.6h0M494.5 180.5h0M496.5 180.7h0M498.5 181.1h0" stroke="#fc5454" stroke-width="1.2" stroke-linecap="round" stroke-opacity="0.3"/>
<path d="M350.5 190.7h0M352.5 189.7h0M354.5 188.7h0M356.5 187.8h0M358.5 187h0M360.5 186.3h0M362.5 185.8h0M364.5 185.6h0M366.5 185.5h0M368.5 185.7h0M370.5 186.1h0M372.5 186.7h0M374.5 187.5h0M376.5 188.4h0M378.5 189.3h0M380.5 190.3h0M382.5 191.3h0M384.5 192.3h0M386.5 193.1h0M388.5 193.7h0M390.5 194.2h0M392.5 194.5h0M394.5 194.5h0M396.5 194.3h0M398.5 193.9h0M400.5 193.3h0M402.5 192.5h0M404.5 191.6h0M406.5 190.6h0M408.5 189.6h0M410.5 188.6h0M412.5 187.7h0M414.5 186.9h0M416.5 186.2h0M418.5 185.8h0M420.5 185.5h0M422.5 185.5h0M424.5 185.7h0M426.5 186.1h0M428.5 186.8h0M430.5 187.5h0M432.5 188.4h0M434.5 189.4h0M436.5 190.4h0M438.5 191.4h0M440.5 192.3h0M442.5 193.1h0M444.5 193.8h0M446.5 194.2h0M448.5 194.5h0M450.5 194.5h0M452.5 194.3h0M454.5 193.8h0M456.5 193.2h0M458.5 192.4h0M460.5 191.5h0M462.5 190.5h0M464.5 189.5h0M466.5 188.5h0M468.5 187.6h0M470.5 186.8h0M472.5 186.2h0M474.5 185.8h0M476.5 185.5h0M478.5 185.5h0M480.5 185.8h0M482.5 186.2h0M484.5 186.8h0M486.5 187.6h0M488.5 188.5h0M490.5 189.5h0M492.5 190.5h0M494.5 191.5h0M496.5 192.4h0M498.5 193.2h0M350.5 190.5h0M352.5 190.8h0M354.5 191.2h0M356.5 191.8h0M358.5 192.6h0M360.5 193.6h0M362.5 194.5h0M364.5 195.6h0M366.5 196.5h0M368.5 197.4h0M370.5 198.2h0M372.5 198.8h0M374.5 199.3h0M376.5 199.5h0M378.5 199.5h0M380.5 199.2h0M382.5 198.8h0M384.5 198.1h0M386.5 197.3h0M388.5 196.4h0M390.5 195.4h0M392.5 194.4h0M394.5 193.4h0M396.5 192.5h0M398.5 191.7h0M400.5 191.1h0M402.5 190.7h0M404.5 190.5h0M406.5 190.5h0M408.5 190.8h0M410.5 191.3h0M412.5 191.9h0M414.5 192.7h0M416.5 193.7h0M418.5 194.6h0M420.5 195.7h0M422.5 196.6h0M424.5 197.5h0M426.5 198.3h0M428.5 198.9h0M430.5 199.3h0M432.5 199.5h0M434.5 199.4h0M436.5 199.2h0M438.5 198.7h0M440.5 198h0M442.5 197.2h0M444.5 196.3h0M446.5 195.3h0M448.5 194.3h0M450.5 193.3h0M452.5 192.4h0M454.5 191.7h0M456.5 191.1h0M458.5 190.7h0M460.5 190.5h0M462.5 190.6h0M464.5 190.8h0M466.5 191.3h0M468.5 192h0M470.5 192.8h0M472.5 193.8h0M474.5 194.7h0M476.5 195.8h0M478.5 196.7h0M480.5 197.6h0M482.5 198.4h0M484.5 198.9h0M486.5 199.3h0M488.5 199.5h0M490.5 199.4h0M492.5 199.1h0M494.5 198.6h0M496.5 198h0M498.5 197.1h0" stroke="#fc6060" stroke-width="1.2" stroke-linecap="round" stroke-opacity="0.3"/>
<path d="M350.5 201.7h0M352.5 202.6h0M354.5 203.4h0M356.5 204h0M358.5 204.3h0M360.5 204.5h0M362.5 204.4h0M364.5 204.1h0M366.5 203.6h0M368.5 203h0M370.5 202.1h0M372.5 201.2h0M374.5 200.2h0M376.5 199.2h0M378.5 198.2h0M380.5 197.3h0M382.5 196.6h0M384.5 196h0M386.5 195.7h0M388.5 195.5h0M390.5 195.6h0M392.5 195.9h0M394.5 196.4h0M396.5 197.1h0M398.5 197.9h0M400.5 198.9h0M402.5 199.9h0M404.5 200.9h0M406.5 201.8h0M408.5 202.7h0M410.5 203.4h0M412.5 204h0M414.5 204.4h0M416.5 204.5h0M418.5 204.4h0M420.5 204.1h0M422.5 203.6h0M424.5 202.9h0M426.5 202h0M428.5 201.1h0M430.5 200.1h0M432.5 199.1h0M434.5 198.1h0M436.5 197.3h0M438.5 196.5h0M440.5 196h0M442.5 195.6h0M444.5 195.5h0M446.5 195.6h0M448.5 195.9h0M450.5 196.5h0M452.5 197.2h0M454.5 198h0M456.5 199h0M458.5 200h0M460.5 201h0M462.5 201.9h0M464.5 202.8h0M466.5 203.5h0M468.5 204h0M470.5 204.4h0M472.5 204.5h0M474.5 204.4h0M476.5 204.1h0M478.5 203.5h0M480.5 202.8h0M482.5 201.9h0M484.5 201h0M486.5 200h0M488.5 199h0M490.5 198h0M492.5 197.2h0M494.5 196.5h0M496.5 195.9h0M498.5 195.6h0M350.5 206.3h0M352.5 205.8h0M354.5 205.6h0M356.5 205.5h0M358.5 205.7h0M360.5 206.1h0M362.5 206.7h0M364.5 207.4h0M366.5 208.3h0M368.5 209.3h0M370.5 210.3h0M372.5 211.3h0M374.5 212.2h0M376.5 213h0M378.5 213.7h0M380.5 214.2h0M382.5 214.4h0M384.5 214.5h0M386.5 214.3h0M388.5 213.9h0M390.5 213.3h0M392.5 212.5h0M394.5 211.6h0M396.5 210.7h0M398.5 209.6h0M400.5 208.7h0M402.5 207.7h0M404.5 206.9h0M406.5 206.3h0M408.5 205.8h0M410.5 205.5h0M412.5 205.5h0M414.5 205.7h0M416.5 206.1h0M418.5 206.7h0M420.5 207.5h0M422.5 208.4h0M424.5 209.4h0M426.5 210.4h0M428.5 211.4h0M430.5 212.3h0M432.5 213.1h0M434.5 213.8h0M436.5 214.2h0M438.5 214.5h0M440.5 214.5h0M442.5 214.3h0M444.5 213.8h0M446.5 213.2h0M448.5 212.4h0M450.5 211.5h0M452.5 210.6h0M454.5 209.5h0M456.5 208.6h0M458.5 207.6h0M460.5 206.8h0M462.5 206.2h0M464.5 205.8h0M466.5 205.5h0M468.5 205.5h0M470.5 205.7h0M472.5 206.2h0M474.5 206.8h0M476.5 207.6h0M478.5 208.5h0M480.5 209.5h0M482.5 210.5h0M484.5 211.5h0M486.5 212.4h0M488.5 213.2h0M490.5 213.8h0M492.5 214.3h0M494.5 214.5h0M496.5 214.5h0M498.5 214.2h0" stroke="#fc6c6c" stroke-width="1.2" stroke-linecap="round" stroke-opacity="0.3"/>
<path d="M350.5 208.5h0M352.5 207.8h0M354.5 206.9h0M356.5 206h0M358.5 205h0M360.5 204h0M362.5 203h0M364.5 202.2h0M366.5 201.5h0M368.5 200.9h0M370.5 200.6h0M372.5 200.5h0M374.5 200.6h0M376.5 201h0M378.5 201.5h0M380.5 202.3h0M382.5 203.1h0M384.5 204.1h0M386.5 205.1h0M388.5 206.1h0M390.5 207h0M392.5 207.9h0M394.5 208.6h0M396.5 209.1h0M398.5 209.4h0M400.5 209.5h0M402.5 209.4h0M404.5 209h0M406.5 208.4h0M408.5 207.7h0M410.5 206.8h0M412.5 205.9h0M414.5 204.9h0M416.5 203.9h0M418.5 202.9h0M420.5 202.1h0M422.5 201.4h0M424.5 200.9h0M426.5 200.6h0M428.5 200.5h0M430.5 200.7h0M432.5 201h0M434.5 201.6h0M436.5 202.3h0M438.5 203.2h0M440.5 204.2h0M442.5 205.2h0M444.5 206.2h0M446.5 207.1h0M448.5 208h0M450.5 208.6h0M452.5 209.1h0M454.5 209.4h0M456.5 209.5h0M458.5 209.3h0M460.5 209h0M462.5 208.4h0M464.5 207.6h0M466.5 206.7h0M468.5 205.8h0M470.5 204.8h0M472.5 203.8h0M474.5 202.8h0M476.5 202h0M478.5 201.3h0M480.5 200.8h0M482.5 200.6h0M484.5 200.5h0M486.5 200.7h0M488.5 201.1h0M490.5 201.7h0M492.5 202.4h0M494.5 203.3h0M496.5 204.3h0M498.5 205.3h0" stroke="#8484fc" stroke-width="1.2" stroke-linecap="round" stroke-opacity="0.3"/>
<path d="M350.5 213.5h0M352.5 214.5h0M354.5 215.5h0M356.5 216.5h0M358.5 217.4h0M360.5 218.2h0M362.5 218.8h0M364.5 219.3h0M366.5 219.5h0M368.5 219.5h0M370.5 219.2h0M372.5 218.8h0M374.5 218.1h0M376.5 217.3h0M378.5 216.4h0M380.5 215.4h0M382.5 214.4h0M384.5 213.5h0M386.5 212.5h0M388.5 211.8h0M390.5 211.1h0M392.5 210.7h0M394.5 210.5h0M396.5 210.5h0M398.5 210.8h0M400.5 211.2h0M402.5 211.9h0M404.5 212.7h0M406.5 213.6h0M408.5 214.6h0M410.5 215.6h0M412.5 216.6h0M414.5 217.5h0M416.5 218.3h0M418.5 218.9h0M420.5 219.3h0M422.5 219.5h0M424.5 219.5h0M426.5 219.2h0M428.5 218.7h0M430.5 218.1h0M432.5 217.3h0M434.5 216.3h0M436.5 215.3h0M438.5 214.3h0M440.5 213.4h0M442.5 212.5h0M444.5 211.7h0M446.5 211.1h0M448.5 210.7h0M450.5 210.5h0M452.5 210.6h0M454.5 210.8h0M456.5 211.3h0M458.5 212h0M460.5 212.8h0M462.5 213.7h0M464.5 214.7h0M466.5 215.7h0M468.5 216.7h0M470.5 217.6h0M472.5 218.3h0M474.5 218.9h0M476.5 219.3h0M478.5 219.5h0M480.5 219.4h0M482.5 219.2h0M484.5 218.7h0M486.5 218h0M488.5 217.2h0M490.5 216.2h0M492.5 215.2h0M494.5 214.2h0M496.5 213.3h0M498.5 212.4h0" stroke="#9090fc" stroke-width="1.2" stroke-linecap="round" stroke-opacity="0.3"/>
<path d="M350.5 225.3h0M352.5 224.9h0M354.5 224.2h0M356.5 223.5h0M358.5 222.6h0M360.5 221.6h0M362.5 220.6h0M364.5 219.6h0M366.5 218.7h0M368.5 217.9h0M370.5 217.2h0M372.5 216.8h0M374.5 216.5h0M376.5 216.5h0M378.5 216.7h0M380.5 217.2h0M382.5 217.8h0M384.5 218.6h0M386.5 219.5h0M388.5 220.5h0M390.5 221.5h0M392.5 222.5h0M394.5 223.4h0M396.5 224.2h0M398.5 224.8h0M400.5 225.2h0M402.5 225.5h0M404.5 225.5h0M406.5 225.2h0M408.5 224.8h0M410.5 224.2h0M412.5 223.4h0M414.5 222.5h0M416.5 221.5h0M418.5 220.5h0M420.5 219.5h0M422.5 218.6h0M424.5 217.8h0M426.5 217.2h0M428.5 216.7h0M430.5 216.5h0M432.5 216.5h0M434.5 216.8h0M436.5 217.2h0M438.5 217.9h0M440.5 218.7h0M442.5 219.6h0M444.5 220.6h0M446.5 221.6h0M448.5 222.6h0M450.5 223.5h0M452.5 224.2h0M454.5 224.9h0M456.5 225.3h0M458.5 225.5h0M460.5 225.5h0M462.5 225.2h0M464.5 224.8h0M466.5 224.1h0M468.5 223.3h0M470.5 222.4h0M472.5 221.4h0M474.5 220.4h0M476.5 219.4h0M478.5 218.5h0M480.5 217.7h0M482.5 217.1h0M484.5 216.7h0M486.5 216.5h0M488.5 216.5h0M490.5 216.8h0M492.5 217.3h0M494.5 217.9h0M496.5 218.7h0M498.5 219.7h0" stroke="#fc9090" stroke-width="1.2" stroke-linecap="round" stroke-opacity="0.3"/>
<path d="M356.5 276h0M358.5 274h0M360.5 272.4h0M362.5 270.9h0M364.5 269.8h0M366.5 268.8h0M368.5 268.1h0M370.5 267.7h0M372.5 267.5h0M374.5 267.6h0M376.5 267.9h0M378.5 268.4h0M380.5 269.3h0M382.5 270.3h0M384.5 271.6h0M386.5 273.2h0M388.5 275h0M452.5 267.8h0M454.5 265.8h0M456.5 264.2h0M458.5 262.7h0M460.5 261.6h0M462.5 260.6h0M464.5 259.9h0M466.5 259.5h0M468.5 259.3h0M470.5 259.4h0M472.5 259.7h0M474.5 260.2h0M476.5 261.1h0M478.5 262.1h0M480.5 263.4h0M482.5 265h0M484.5 266.8h0" stroke="#5454fc" stroke-width="1.2" stroke-linecap="round" stroke-opacity="0.28"/>
<path d="M380.5 269.7h0M382.5 268.5h0M384.5 267.4h0M386.5 266.4h0M388.5 265.5h0M390.5 264.7h0M392.5 264h0M394.5 263.4h0M396.5 262.9h0M398.5 262.5h0M400.5 262.3h0M402.5 262.1h0M404.5 262h0M406.5 262h0M408.5 262.2h0M410.5 262.4h0M412.5 262.7h0M414.5 263.2h0M416.5 263.7h0M418.5 264.3h0M420.5 265.1h0M422.5 265.9h0M424.5 266.9h0M426.5 267.9h0M428.5 269.1h0M420.5 271.7h0M422.5 270.5h0M424.5 269.4h0M426.5 268.4h0M428.5 267.5h0M430.5 266.7h0M432.5 266h0M434.5 265.4h0M436.5 264.9h0M438.5 264.5h0M440.5 264.3h0M442.5 264.1h0M444.5 264h0M446.5 264h0M448.5 264.2h0M450.5 264.4h0M452.5 264.7h0M454.5 265.2h0M456.5 265.7h0M458.5 266.3h0M460.5 267.1h0M462.5 267.9h0M464.5 268.9h0M466.5 269.9h0M468.5 271.1h0" stroke="#8484fc" stroke-width="1.2" stroke-linecap="round" stroke-opacity="0.28"/>
<path d="M362.5 285.6h0M364.5 284h0M366.5 282.7h0M368.5 281.5h0M370.5 280.4h0M372.5 279.6h0M374.5 278.9h0M376.5 278.4h0M378.5 278.1h0M380.5 278h0M382.5 278h0M384.5 278.3h0M386.5 278.7h0M388.5 279.2h0M390.5 280h0M392.5 280.9h0M394.5 282h0M396.5 283.3h0M398.5 284.8h0" stroke="#fc6c6c" stroke-width="1.2" stroke-linecap="round" stroke-opacity="0.28"/>
<path d="M450.5 285.6h0M452.5 284.1h0M454.5 282.8h0M456.5 281.6h0M458.5 280.6h0M460.5 279.8h0M462.5 279.1h0M464.5 278.6h0M466.5 278.2h0M468.5 278h0M470.5 278h0M472.5 278.1h0M474.5 278.4h0M476.5 278.8h0M478.5 279.4h0M480.5 280.2h0M482.5 281.1h0M484.5 282.2h0M486.5 283.4h0M488.5 284.8h0M350.5 290.7h0M352.5 290.9h0M354.5 291h0M356.5 290.8h0M358.5 290.5h0M360.5 290h0M362.5 289.3h0M364.5 288.5h0M366.5 287.7h0M368.5 286.8h0M370.5 285.9h0M372.5 285.1h0M374.5 284.3h0M376.5 283.7h0M378.5 283.3h0M380.5 283.1h0M382.5 283h0M384.5 283.2h0M386.5 283.5h0M388.5 284h0M390.5 284.7h0M392.5 285.5h0M394.5 286.4h0M396.5 287.3h0M398.5 288.2h0M400.5 289h0M402.5 289.7h0M404.5 290.3h0M406.5 290.7h0M408.5 291h0M410.5 291h0M412.5 290.8h0M414.5 290.5h0M416.5 289.9h0M418.5 289.2h0M420.5 288.4h0M422.5 287.6h0M424.5 286.7h0M426.5 285.8h0M428.5 285h0M430.5 284.3h0M432.5 283.7h0M434.5 283.3h0M436.5 283h0M438.5 283h0M440.5 283.2h0M442.5 283.6h0M444.5 284.1h0M446.5 284.8h0M448.5 285.6h0M450.5 286.5h0M452.5 287.4h0M454.5 288.2h0M456.5 289.1h0M458.5 289.8h0M460.5 290.3h0M462.5 290.8h0M464.5 291h0M466.5 291h0M468.5 290.8h0M470.5 290.4h0M472.5 289.9h0M474.5 289.2h0M476.5 288.4h0M478.5 287.5h0M480.5 286.6h0M482.5 285.7h0M484.5 284.9h0M486.5 284.2h0M488.5 283.6h0M490.5 283.2h0M492.5 283h0M494.5 283h0M496.5 283.2h0M498.5 283.6h0" stroke="#6c6cfc" stroke-width="1.2" stroke-linecap="round" stroke-opacity="0.28"/>
<path d="M350.5 292h0M352.5 291.2h0M354.5 290.4h0M356.5 289.8h0M358.5 289.3h0M360.5 289.1h0M362.5 289h0M364.5 289.1h0M366.5 289.5h0M368.5 290h0M370.5 290.6h0M372.5 291.4h0M374.5 292.2h0M376.5 293.1h0M378.5 294h0M380.5 294.9h0M382.5 295.6h0M384.5 296.2h0M386.5 296.7h0M388.5 296.9h0M390.5 297h0M392.5 296.9h0M394.5 296.5h0M396.5 296h0M398.5 295.4h0M400.5 294.6h0M402.5 293.7h0M404.5 292.8h0M406.5 291.9h0M408.5 291.1h0M410.5 290.4h0M412.5 289.8h0M414.5 289.3h0M416.5 289.1h0M418.5 289h0M420.5 289.2h0M422.5 289.5h0M424.5 290h0M426.5 290.7h0M428.5 291.5h0M430.5 292.3h0M432.5 293.2h0M434.5 294.1h0M436.5 295h0M438.5 295.7h0M440.5 296.3h0M442.5 296.7h0M444.5 296.9h0M446.5 297h0M448.5 296.8h0M450.5 296.5h0M452.5 296h0M454.5 295.3h0M456.5 294.5h0M458.5 293.6h0M460.5 292.7h0M462.5 291.8h0M464.5 291h0M466.5 290.3h0M468.5 289.7h0M470.5 289.3h0M472.5 289h0M474.5 289h0M476.5 289.2h0M478.5 289.5h0M480.5 290.1h0M482.5 290.8h0M484.5 291.6h0M486.5 292.4h0M488.5 293.3h0M490.5 294.2h0M492.5 295h0M494.5 295.7h0M496.5 296.3h0M498.5 296.7h0" stroke="#fc8484" stroke-width="1.2" stroke-linecap="round" stroke-opacity="0.28"/>
<path d="M358.5 177.2h0M360.5 178.5h0M398.5 175.6h0M470.5 185.9h0M472.5 186.4h0M474.5 186.4h0M476.5 185.9h0M478.5 184.9h0M428.5 253.6h0M430.5 252.2h0M432.5 251h0M438.5 250.2h0M440.5 251.5h0M442.5 253.5h0M444.5 255.9h0M446.5 257.9h0M448.5 259.9h0M428.5 267.6h0M430.5 266.4h0M432.5 265.3h0M438.5 264.6h0M440.5 265.7h0M442.5 267.6h0M444.5 269.9h0M446.5 272.1h0M448.5 274.2h0" stroke="#fc1818" stroke-width="2.0" stroke-linecap="round"/>
<path d="M362.5 179.7h0M364.5 180.8h0M366.5 181.8h0M392.5 180.6h0M394.5 179.2h0M396.5 177.6h0M434.5 250h0M436.5 249.6h0M434.5 264.4h0M436.5 264.1h0" stroke="#fc1818" stroke-width="2.2" stroke-linecap="round"/>
<path d="M368.5 182.9h0M370.5 183.8h0M372.5 184.7h0M374.5 185.4h0M384.5 184.8h0M386.5 184h0M388.5 183h0M390.5 181.9h0" stroke="#fc1818" stroke-width="2.4" stroke-linecap="round"/>
<path d="M376.5 185.8h0M378.5 186h0M380.5 185.8h0M382.5 185.5h0" stroke="#fc1818" stroke-width="2.6" stroke-linecap="round"/>
<path d="M356.5 176.7h0M358.5 179.2h0M468.5 201.9h0M470.5 201.8h0M472.5 201.3h0M472.5 183.5h0M474.5 183.4h0M476.5 182.9h0M478.5 182.2h0M378.5 299.8h0M380.5 298h0M382.5 297h0M384.5 296.4h0M386.5 295.9h0M388.5 295.4h0" stroke="#cc2478" stroke-width="1.6" stroke-linecap="round"/>
<path d="M360.5 181.7h0M362.5 184.1h0M364.5 186.3h0M386.5 186.5h0M446.5 175.8h0M448.5 176.8h0M450.5 177.3h0M452.5 177.7h0M454.5 178.2h0M386.5 288.8h0M388.5 288.1h0M390.5 287h0M420.5 260.5h0M454.5 268.7h0M456.5 270.2h0M458.5 271.5h0M460.5 272.8h0M462.5 274h0M464.5 275.1h0M420.5 273.6h0M454.5 279.4h0M456.5 280.8h0M458.5 281.8h0M460.5 282.6h0M462.5 283.3h0M464.5 283.9h0" stroke="#cc2478" stroke-width="1.8" stroke-linecap="round"/>
<path d="M366.5 188.3h0" stroke="#b4249c" stroke-width="2.0" stroke-linecap="round"/>
<path d="M368.5 189.8h0" stroke="#9c24b4" stroke-width="2.0" stroke-linecap="round"/>
<path d="M370.5 190.9h0M372.5 191.5h0M374.5 191.6h0" stroke="#9024cc" stroke-width="2.0" stroke-linecap="round"/>
<path d="M376.5 191.3h0M384.5 196.4h0M384.5 288.9h0" stroke="#a824a8" stroke-width="2.0" stroke-linecap="round"/>
<path d="M378.5 190.5h0" stroke="#c02490" stroke-width="2.0" stroke-linecap="round"/>
<path d="M380.5 189.6h0M382.5 188.6h0M384.5 187.6h0M466.5 276.1h0M468.5 276.7h0M470.5 277h0M466.5 284.5h0" stroke="#cc2478" stroke-width="2.0" stroke-linecap="round"/>
<path d="M388.5 185.3h0M456.5 178.9h0M458.5 181.2h0M422.5 258.6h0M422.5 272.1h0" stroke="#d82460" stroke-width="1.8" stroke-linecap="round"/>
<path d="M390.5 184.1h0M458.5 179.8h0M456.5 180h0M424.5 256.8h0M424.5 270.5h0" stroke="#e42448" stroke-width="1.8" stroke-linecap="round"/>
<path d="M392.5 182.8h0" stroke="#fc2424" stroke-width="1.8" stroke-linecap="round"/>
<path d="M394.5 181.6h0M396.5 180.3h0M398.5 178.8h0M400.5 176.8h0M478.5 197.4h0M480.5 195.5h0M482.5 193.3h0M484.5 191h0M486.5 188.3h0M488.5 185.2h0M490.5 181.2h0M492.5 176.7h0M486.5 194.6h0M488.5 191h0M490.5 186.8h0M492.5 181.6h0M494.5 175.5h0M486.5 175.5h0" stroke="#fc1818" stroke-width="1.6" stroke-linecap="round"/>
<path d="M358.5 186.2h0M360.5 188.4h0M362.5 190.3h0M458.5 199.2h0M454.5 175.7h0M464.5 181.3h0M406.5 175.7h0M416.5 177h0M418.5 175.9h0M396.5 283.7h0M398.5 283h0M400.5 282.1h0M402.5 280.2h0M404.5 276.8h0M412.5 267.5h0M396.5 292.3h0M406.5 285h0M408.5 282.8h0M410.5 281.1h0M412.5 279.6h0" stroke="#9024cc" stroke-width="1.6" stroke-linecap="round"/>
<path d="M364.5 191.9h0" stroke="#8424cc" stroke-width="1.6" stroke-linecap="round"/>
<path d="M366.5 193.2h0M374.5 195.4h0M460.5 201.4h0M456.5 176.5h0M460.5 178.8h0M408.5 176.6h0M414.5 177.7h0M398.5 291.6h0" stroke="#7824d8" stroke-width="1.6" stroke-linecap="round"/>
<path d="M368.5 194.4h0M370.5 195.2h0M372.5 195.6h0M372.5 203.1h0M374.5 201.8h0M462.5 203.1h0M464.5 204.5h0M466.5 205.7h0M458.5 177.6h0M410.5 177.4h0M412.5 177.8h0M400.5 290.8h0M402.5 289.5h0M366.5 285.1h0" stroke="#6024e4" stroke-width="1.6" stroke-linecap="round"/>
<path d="M376.5 194.8h0M462.5 180.2h0M410.5 268.9h0" stroke="#8424d8" stroke-width="1.6" stroke-linecap="round"/>
<path d="M378.5 193.9h0M476.5 207.2h0M466.5 182.3h0" stroke="#9c24c0" stroke-width="1.6" stroke-linecap="round"/>
<path d="M380.5 193h0M468.5 183h0M394.5 284.5h0M416.5 264.2h0M416.5 276.7h0" stroke="#a824a8" stroke-width="1.6" stroke-linecap="round"/>
<path d="M382.5 192h0" stroke="#b42490" stroke-width="1.6" stroke-linecap="round"/>
<path d="M384.5 191h0" stroke="#c02478" stroke-width="1.6" stroke-linecap="round"/>
<path d="M386.5 190.1h0" stroke="#d82460" stroke-width="1.6" stroke-linecap="round"/>
<path d="M388.5 189.3h0" stroke="#f0243c" stroke-width="1.6" stroke-linecap="round"/>
<path d="M376.5 200.7h0" stroke="#6c24d8" stroke-width="1.8" stroke-linecap="round"/>
<path d="M378.5 199.7h0" stroke="#8424d8" stroke-width="1.8" stroke-linecap="round"/>
<path d="M380.5 198.7h0" stroke="#9024cc" stroke-width="1.8" stroke-linecap="round"/>
<path d="M382.5 197.6h0" stroke="#9c24c0" stroke-width="2.0" stroke-linecap="round"/>
<path d="M386.5 195.1h0" stroke="#c02490" stroke-width="2.2" stroke-linecap="round"/>
<path d="M388.5 193.9h0" stroke="#cc2478" stroke-width="2.4" stroke-linecap="round"/>
<path d="M390.5 192.7h0" stroke="#d82454" stroke-width="2.6" stroke-linecap="round"/>
<path d="M392.5 191.7h0" stroke="#f0243c" stroke-width="2.8" stroke-linecap="round"/>
<path d="M394.5 190.7h0" stroke="#fc1824" stroke-width="2.8" stroke-linecap="round"/>
<path d="M396.5 189.8h0" stroke="#fc1818" stroke-width="3.2" stroke-linecap="round"/>
<path d="M398.5 189h0M400.5 188.2h0M402.5 187.6h0M404.5 186.9h0M406.5 186.4h0M408.5 186h0M410.5 185.8h0" stroke="#fc1818" stroke-width="3.6" stroke-linecap="round"/>
<path d="M412.5 185.8h0" stroke="#f0243c" stroke-width="3.4" stroke-linecap="round"/>
<path d="M414.5 186h0" stroke="#cc246c" stroke-width="3.0" stroke-linecap="round"/>
<path d="M416.5 187h0" stroke="#b4249c" stroke-width="3.2" stroke-linecap="round"/>
<path d="M418.5 188.8h0" stroke="#8424cc" stroke-width="3.6" stroke-linecap="round"/>
<path d="M420.5 191.3h0" stroke="#4824f0" stroke-width="3.8" stroke-linecap="round"/>
<path d="M422.5 194.3h0M446.5 202.1h0M430.5 207.9h0M440.5 211.5h0M362.5 265.8h0M478.5 273.3h0M478.5 276.5h0" stroke="#2424fc" stroke-width="4.0" stroke-linecap="round"/>
<path d="M424.5 197.7h0M432.5 209.9h0M434.5 211.3h0M436.5 212.1h0M438.5 212.2h0M358.5 262.4h0M360.5 263.8h0M480.5 271.4h0" stroke="#2424fc" stroke-width="4.2" stroke-linecap="round"/>
<path d="M426.5 200.9h0M444.5 205.1h0M350.5 259.7h0M352.5 260h0M354.5 260.5h0M356.5 261.3h0M482.5 269.4h0M484.5 267.3h0" stroke="#2424fc" stroke-width="4.4" stroke-linecap="round"/>
<path d="M428.5 203.9h0M486.5 265.3h0M488.5 263.4h0M490.5 261.9h0M492.5 260.7h0M494.5 260h0M496.5 259.6h0M498.5 259.3h0M500.5 259.3h0" stroke="#2424fc" stroke-width="4.6" stroke-linecap="round"/>
<path d="M430.5 206.4h0M432.5 208.4h0M442.5 207.7h0" stroke="#2424fc" stroke-width="4.8" stroke-linecap="round"/>
<path d="M434.5 209.8h0M436.5 210.8h0M438.5 210.7h0M440.5 209.6h0" stroke="#2424fc" stroke-width="5.0" stroke-linecap="round"/>
<path d="M448.5 198.9h0M426.5 202.7h0" stroke="#2424fc" stroke-width="3.4" stroke-linecap="round"/>
<path d="M450.5 196.6h0" stroke="#2424fc" stroke-width="3.0" stroke-linecap="round"/>
<path d="M452.5 195.3h0" stroke="#3c24fc" stroke-width="2.6" stroke-linecap="round"/>
<path d="M454.5 194.8h0M378.5 286h0M472.5 282.7h0" stroke="#6024e4" stroke-width="2.4" stroke-linecap="round"/>
<path d="M456.5 195.3h0" stroke="#6024e4" stroke-width="2.2" stroke-linecap="round"/>
<path d="M458.5 196.7h0" stroke="#6024e4" stroke-width="2.0" stroke-linecap="round"/>
<path d="M460.5 198.6h0" stroke="#8424d8" stroke-width="2.0" stroke-linecap="round"/>
<path d="M462.5 200.2h0" stroke="#9c24c0" stroke-width="1.8" stroke-linecap="round"/>
<path d="M464.5 201.2h0" stroke="#b4249c" stroke-width="1.8" stroke-linecap="round"/>
<path d="M466.5 201.7h0" stroke="#c02484" stroke-width="1.8" stroke-linecap="round"/>
<path d="M474.5 200.4h0" stroke="#d82454" stroke-width="1.6" stroke-linecap="round"/>
<path d="M476.5 199.1h0" stroke="#f02430" stroke-width="1.6" stroke-linecap="round"/>
<path d="M412.5 187.7h0" stroke="#fc2424" stroke-width="2.0" stroke-linecap="round"/>
<path d="M414.5 188.8h0" stroke="#e42448" stroke-width="2.2" stroke-linecap="round"/>
<path d="M416.5 190.2h0" stroke="#cc246c" stroke-width="2.2" stroke-linecap="round"/>
<path d="M418.5 191.8h0" stroke="#c02490" stroke-width="2.4" stroke-linecap="round"/>
<path d="M420.5 193.9h0" stroke="#a824b4" stroke-width="2.4" stroke-linecap="round"/>
<path d="M422.5 196.6h0" stroke="#7824d8" stroke-width="2.6" stroke-linecap="round"/>
<path d="M424.5 199.7h0" stroke="#3c24fc" stroke-width="2.8" stroke-linecap="round"/>
<path d="M428.5 205.4h0M364.5 268.2h0M366.5 270.8h0" stroke="#2424fc" stroke-width="3.8" stroke-linecap="round"/>
<path d="M468.5 206.9h0M364.5 283.9h0" stroke="#5424f0" stroke-width="1.6" stroke-linecap="round"/>
<path d="M470.5 207.9h0" stroke="#3c24fc" stroke-width="1.6" stroke-linecap="round"/>
<path d="M472.5 208.3h0" stroke="#3024fc" stroke-width="1.6" stroke-linecap="round"/>
<path d="M474.5 208.1h0M406.5 272.9h0M408.5 270.5h0M404.5 287.6h0" stroke="#6c24e4" stroke-width="1.6" stroke-linecap="round"/>
<path d="M478.5 205.6h0M392.5 294h0" stroke="#b4249c" stroke-width="1.6" stroke-linecap="round"/>
<path d="M480.5 203.4h0" stroke="#cc246c" stroke-width="1.6" stroke-linecap="round"/>
<path d="M482.5 200.8h0M482.5 179.4h0" stroke="#e42448" stroke-width="1.6" stroke-linecap="round"/>
<path d="M484.5 197.8h0M484.5 177.5h0" stroke="#fc2424" stroke-width="1.6" stroke-linecap="round"/>
<path d="M460.5 181h0M454.5 178.7h0M464.5 185.1h0M426.5 255.1h0M450.5 262.7h0M426.5 269h0M450.5 276.1h0" stroke="#f02430" stroke-width="1.8" stroke-linecap="round"/>
<path d="M462.5 182.1h0M464.5 183.3h0M466.5 184.3h0M468.5 185.2h0M480.5 183.7h0M482.5 182.3h0M484.5 180.9h0M486.5 179.3h0M488.5 177.6h0M490.5 175.9h0M450.5 176.3h0M452.5 177.5h0M466.5 186.3h0M468.5 187.4h0M470.5 188.1h0M472.5 188.4h0M474.5 188.2h0M476.5 187.7h0M478.5 186.7h0M480.5 185.5h0M482.5 183.9h0M484.5 182h0M486.5 179.8h0M488.5 177.4h0" stroke="#fc1818" stroke-width="1.8" stroke-linecap="round"/>
<path d="M470.5 183.4h0M392.5 285.7h0M418.5 262.4h0M418.5 275.2h0" stroke="#c02490" stroke-width="1.6" stroke-linecap="round"/>
<path d="M480.5 181.1h0" stroke="#d8246c" stroke-width="1.6" stroke-linecap="round"/>
<path d="M460.5 182.5h0M452.5 266.5h0M452.5 277.8h0" stroke="#cc246c" stroke-width="1.8" stroke-linecap="round"/>
<path d="M462.5 183.8h0" stroke="#e42454" stroke-width="1.8" stroke-linecap="round"/>
<path d="M368.5 273.6h0" stroke="#2424fc" stroke-width="3.6" stroke-linecap="round"/>
<path d="M370.5 276.3h0" stroke="#3c24fc" stroke-width="3.6" stroke-linecap="round"/>
<path d="M372.5 278.9h0" stroke="#5424f0" stroke-width="3.6" stroke-linecap="round"/>
<path d="M374.5 281.5h0" stroke="#6024e4" stroke-width="3.4" stroke-linecap="round"/>
<path d="M376.5 284h0" stroke="#6024e4" stroke-width="2.8" stroke-linecap="round"/>
<path d="M380.5 287.5h0" stroke="#7824d8" stroke-width="2.2" stroke-linecap="round"/>
<path d="M382.5 288.5h0" stroke="#9024cc" stroke-width="2.2" stroke-linecap="round"/>
<path d="M414.5 266h0M414.5 278.1h0" stroke="#9c24b4" stroke-width="1.6" stroke-linecap="round"/>
<path d="M472.5 276.8h0" stroke="#9024c0" stroke-width="2.4" stroke-linecap="round"/>
<path d="M474.5 276.2h0" stroke="#6024f0" stroke-width="2.8" stroke-linecap="round"/>
<path d="M476.5 275h0" stroke="#4824f0" stroke-width="3.4" stroke-linecap="round"/>
<path d="M390.5 294.8h0" stroke="#c02484" stroke-width="1.6" stroke-linecap="round"/>
<path d="M394.5 293.1h0" stroke="#a824b4" stroke-width="1.6" stroke-linecap="round"/>
<path d="M468.5 284.6h0" stroke="#c02484" stroke-width="2.0" stroke-linecap="round"/>
<path d="M470.5 283.9h0" stroke="#9024b4" stroke-width="2.2" stroke-linecap="round"/>
<path d="M474.5 281h0" stroke="#4824f0" stroke-width="3.0" stroke-linecap="round"/>
<path d="M476.5 278.8h0" stroke="#3024fc" stroke-width="3.4" stroke-linecap="round"/>
<path d="M350.5 279.7h0M352.5 279.9h0M354.5 280.2h0M356.5 280.7h0M358.5 281.3h0M490.5 280.1h0M492.5 279.9h0M494.5 279.8h0M496.5 279.8h0M498.5 279.8h0M500.5 279.7h0" stroke="#2424fc" stroke-width="2.0" stroke-linecap="round"/>
<path d="M360.5 282h0M482.5 283.4h0M484.5 282.2h0M486.5 281.2h0M488.5 280.5h0" stroke="#2424fc" stroke-width="1.8" stroke-linecap="round"/>
<path d="M362.5 282.9h0" stroke="#3c24fc" stroke-width="1.8" stroke-linecap="round"/>
<path d="M368.5 286.6h0M478.5 285.7h0" stroke="#6024e4" stroke-width="1.4" stroke-linecap="round"/>
<path d="M480.5 284.6h0" stroke="#3c24f0" stroke-width="1.6" stroke-linecap="round"/>
<path d="M406.5 292.9h0" stroke="#6024e4" stroke-width="1.2" stroke-linecap="round"/>
<path d="M404.5 290.6h0" stroke="#9024cc" stroke-width="1.2" stroke-linecap="round"/>
</g>
<g clip-path="url(#ch)">
<path d="M519.6,176.6 521.2,177.3 522.8,178 524.4,178.8 526,179.6 527.7,180.3 529.3,180.9 531,181.4" fill="none" stroke="#a8a8a8" stroke-width="0.55"/>
<path d="M625,176.6 626.3,177.2 627.7,178 629,178.9 630.4,179.8 631.7,180.8 633.1,181.8 634.6,182.6 636,183.4 637.5,184 639,184.4 640.5,184.5 642.1,184.4 643.6,184 645.1,183.3 646.6,182.5 648,181.5 649.2,180.4 650.3,179.2 651.3,177.9 652,176.6" fill="none" stroke="#a8a8a8" stroke-width="0.55"/>
<path d="M641,187.3 642.7,186.8 644.3,186.2 645.8,185.3 647.2,184.3 648.5,183.2 649.7,182 650.8,180.7 651.9,179.3 653,178 654,176.6" fill="none" stroke="#a8a8a8" stroke-width="0.55"/>
<path d="M528,176.6 529.4,177.4 531.1,178.2 532.8,178.7 534.5,178.9 536.2,178.7 537.7,178 539,176.6" fill="none" stroke="#a8a8a8" stroke-width="0.55"/>
<path d="M511.4,290.2 513.1,290.3 514.8,290.5 516.5,290.8 518.1,291.3 519.7,291.9 521.2,292.6 522.8,293.4 524.3,294.2 525.8,295 527.2,295.9 528.6,296.9 529.8,298 531,299.3" fill="none" stroke="#a05050" stroke-width="0.6"/>
<path d="M633.2,291.8 634.5,290.8 636,290 637.5,289.5 639.1,289.1 640.7,289 642.3,288.9 644,288.9 645.6,289.1 647.2,289.3 648.8,289.6 650.4,289.9 652,290.4 653.6,290.8 655.2,291.2 656.7,291.5 658.3,291.5 659.9,291.3 661.5,290.8 663.1,289.8" fill="none" stroke="#a05050" stroke-width="0.6"/>
<path d="M628,299.3 629.4,298.5 630.9,297.8 632.4,297.1 633.9,296.4 635.4,295.7 636.9,295.2 638.5,294.8 640.1,294.5 641.8,294.3 643.4,294.3 645.1,294.4 646.7,294.6 648.3,294.9 649.9,295.3 651.5,295.8 653,296.4 654.4,297.2 655.7,298.2 657,299.3" fill="none" stroke="#6060c0" stroke-width="0.6"/>
<path d="M648,299.3 649.3,298 650.6,296.9 651.9,295.9 653.4,295.1 654.8,294.4 656.4,293.8 658,293.3 659.6,293 661.3,292.8 663.1,292.8" fill="none" stroke="#a05050" stroke-width="0.6"/>
<path d="M518.3,176 519.3,177.7 520.3,179.4 521.3,181 522.3,182.7 523.4,184.3 524.4,186 525.5,187.6 526.6,189.2 527.7,190.8 528.7,192.5 529.8,194.1 531,195.7 532.3,197.1 533.8,198.3 535.5,199.3 537.4,200 539.3,200.5 541.2,200.3 543,199.6 544.8,198.6 546.4,197.6 548,196.4 549.6,195.3 551.1,194.1 552.7,193 554.5,192.1 556.3,191.4 558.1,190.8 560,190.3 562,190 563.9,189.7 565.8,189.4 567.8,189.2 569.7,188.9 571.5,188.2 573.2,187.3 575.1,186.6 577.1,186.3 578.9,186.7 580.6,187.7 582,189.1 583.4,190.5 584.7,191.9 586,193.4 587.2,194.9 588.4,196.5 589.5,198.1 590.7,199.7 591.8,201.2 592.9,202.7 594.1,204.3 595.2,205.9 596.3,207.7 597.4,209.5 598.8,210.8 600.6,211.1 602.5,210.5 604.1,209.3 605.4,207.8 606.4,206.1 607.2,204.3 607.9,202.5 608.7,200.7 609.7,199.1 611,197.6 612.7,196.5 614.6,195.9 616.5,196.1 618.3,196.9 619.8,198.1 621.2,199.5 622.7,200.8 624.4,201.7 626.2,202.5 628.1,203 630,203.4 632,203.5 633.9,203.4 635.8,202.9 637.7,202.2 639.3,201.2 640.9,200 642.3,198.6 643.5,197.1 644.7,195.5 645.8,193.9 646.9,192.3 647.9,190.6 648.9,189 649.9,187.3 650.9,185.6 651.8,183.8 652.6,182.1 653.5,180.3 654.4,178.6 655.4,176.9" fill="none" stroke="#c8a0b0" stroke-width="0.45"/>
<path d="M570.2,189.6 572,190.4 573.8,191 575.8,191.5 577.6,192 579.5,192.7 581.1,193.7 582.7,194.9 584.1,196.3 585.4,197.8 586.5,199.4 587.7,201 588.8,202.6 590,204.1 591.3,205.5 592.6,206.9 593.9,208.4 595.2,210.1 596.6,211.5 598.2,212.6 600,212.7" fill="none" stroke="#c8a0b0" stroke-width="0.45"/>
<path d="M617.5,200 618.6,201.6 620,203 621.4,204.3 622.9,205.6 624.4,206.9 625.9,208.2 627.4,209.4 629.1,210.3 631.1,210.8 633,210.7 634.9,210.1 636.6,209.1 638.3,208 639.8,206.8 641.1,205.4 642.4,203.9 643.5,202.3 644.6,200.7 645.6,199 646.7,197.3 647.7,195.7 648.8,194 649.8,192.4 650.7,190.7 651.6,188.9 652.3,187.1 653,185.3 653.7,183.4 654.4,181.6 655.1,179.8 656,178.1 657,176.4" fill="none" stroke="#c8a0b0" stroke-width="0.45"/>
<path d="M521.3,176.6 522.9,177.7 524.6,178.7 526.3,179.7 528,180.6 529.8,181.5 531.5,182.4 533.2,183.3 535,184.1 536.7,185 538.5,185.7 540.4,186.4 542.2,187 544.1,187.5 546.1,187.7 548,187.5 549.9,186.9 551.7,186 553.3,184.8 554.6,183.5 555.8,181.9 557,180.4 558.4,179 559.9,177.8 561.5,176.6" fill="none" stroke="#c8a0b0" stroke-width="0.45"/>
<path d="M569.5,175.5 571.2,176.5 572.7,177.8 574.3,179 576.1,179.7 578,179.6 579.8,178.7 581.5,177.7 583,176.5" fill="none" stroke="#c8a0b0" stroke-width="0.45"/>
<path d="M607,175.8 608.8,176.5 610.7,177.1 612.5,177.8 614.4,178.4 616.2,179 618.1,179.5 620,180 621.9,180.5 623.7,181.2 625.5,182 627.2,182.9 628.9,183.8 630.6,184.8 632.3,185.7 634.1,186.6 636,187.3 637.9,187.7 639.8,187.8 641.7,187.4 643.6,186.7 645.3,185.7 646.8,184.5 648.3,183.1 649.6,181.8 651,180.3 652.3,178.9 653.5,177.4" fill="none" stroke="#c8a0b0" stroke-width="0.45"/>
<path d="M628,175.8 629.6,176.9 631.1,178.1 632.7,179.3 634.4,180.4 636.1,181.2 638,181.8 639.9,182 641.9,181.9 643.9,181.5 645.6,180.6 647.1,179.3 648.4,177.8 649.6,176.3" fill="none" stroke="#c8a0b0" stroke-width="0.45"/>
<path d="M511.4,266.1 513.4,266.1 515.3,266.2 517.2,266.5 519.1,267 521,267.6 522.8,268.3 524.6,269.2 526.2,270.2 527.8,271.3 529.3,272.6 530.7,273.9 532,275.4 533.3,276.9 534.4,278.5 535.4,280.2 536.5,281.8 537.6,283.4 538.8,284.9 540.1,286.4 541.5,287.7 543.1,288.9 544.8,289.8 546.8,290.2 548.7,290.2 550.6,289.6 552.3,288.6 553.9,287.4 555.5,286.3 557.2,285.3 558.9,284.5 560.8,283.9 562.7,283.4 564.5,282.7 566.2,281.7 567.7,280.5 569,279 570.1,277.4 571.2,275.7 572.2,274 573.3,272.4 574.5,270.9 575.8,269.5 577.3,268.2 578.8,267 580.4,265.8 581.9,264.6 583.5,263.4 585,262.1 586.5,260.9 587.9,259.6 589.2,258.2 590.6,256.9 592,255.5 593.4,254.1 595,252.7 596.7,251.5 598.5,250.9 600.2,251.2 602,252.1 603.6,253.4 605.1,254.9 606.4,256.4 607.6,257.8 609,259.2 610.4,260.5 611.8,261.9 613.1,263.3 614.4,264.8 615.7,266.3 616.9,267.7 618.2,269.2 619.6,270.6 621,271.9 622.6,273.1 624.2,274.3 625.8,275.3 627.5,276.2 629.3,277.1 631.1,277.8 633,278.4 634.9,278.6 636.8,278.2 638.6,277.3 640.2,276.2 641.8,275 643.2,273.7 644.7,272.4 646.2,271.2 647.8,270.1 649.5,269.1 651.3,268.3 653.1,267.6 655,267 656.9,266.5 658.8,266.2 660.8,266 662.7,265.9" fill="none" stroke="#c8a0b0" stroke-width="0.45"/>
<path d="M546.5,300.2 547.8,298.7 549.5,297.7 551.3,296.9 553,296.1 554.5,294.8 555.9,293.4 557.3,292 559,291.2 560.9,290.7 562.9,290.5 564.9,290.2 566.6,289.5 568.1,288.3 569.4,286.7 570.6,285.1 571.8,283.5 573.2,282.1 574.6,280.8 576,279.5 577.6,278.3 579.2,277.2 580.9,276.2 582.5,275.2 584.2,274.2 585.9,273.3 587.6,272.3 589.3,271.3 590.9,270.3 592.5,269.2 594.1,267.9 595.8,266.6 597.4,265.7 599.3,265.3 601.1,265.7 603,266.6 604.5,267.9 605.8,269.4 607,271 608.1,272.5 609.2,274.1 610.4,275.7 611.7,277.2 613.1,278.6 614.6,279.8 616.1,281 617.8,282 619.5,282.9 621.3,283.6 623.2,284.2 625.1,284.8 627,285.3 629,285.6 630.9,285.6 632.8,285.2 634.6,284.5 636.3,283.4 637.7,282 638.9,280.5 640.1,278.9 641.3,277.4" fill="none" stroke="#c8a0b0" stroke-width="0.45"/>
<path d="M567.2,281 567.6,282.9 568.1,284.8 568.6,286.7 569.2,288.6 569.8,290.5 570.3,292.3 570.8,294.2 571.2,296.1 571.6,298.1 571.9,300" fill="none" stroke="#c8a0b0" stroke-width="0.45"/>
<path d="M564,300.5 564.5,298.6 564.9,296.7 565.3,294.8 565.7,292.9 566.1,290.9 566.4,289 566.7,287.1 567,285.1 567.2,283.2" fill="none" stroke="#c8a0b0" stroke-width="0.45"/>
<path d="M519.4 177.9h0M521.4 181.2h0M523.4 184.4h0M525.4 187.4h0M527.4 190.5h0M529.4 193.4h0M531.4 196.2h0M527.4 180.3h0M587.4 260h0M589.4 258.1h0M591.4 256h0M593.4 254.1h0M595.4 252.4h0M601.4 251.7h0M603.4 253.2h0M605.4 255.3h0M607.4 257.5h0M609.4 259.6h0M611.4 261.5h0M613.4 263.6h0M615.4 265.9h0M617.4 268.3h0M585.4 273.6h0M587.4 272.5h0M589.4 271.3h0M591.4 270h0M593.4 268.5h0M595.4 266.9h0M601.4 265.8h0M603.4 266.9h0M605.4 268.8h0M607.4 271.6h0M609.4 274.4h0M611.4 276.8h0M613.4 278.9h0M615.4 280.5h0M617.4 281.8h0" stroke="#fc1818" stroke-width="2.0" stroke-linecap="round"/>
<path d="M533.4 198h0M583.4 274.7h0" stroke="#f02430" stroke-width="2.0" stroke-linecap="round"/>
<path d="M535.4 199.2h0M573.4 190.9h0M621.4 204.3h0" stroke="#d82460" stroke-width="2.2" stroke-linecap="round"/>
<path d="M537.4 200h0" stroke="#c02490" stroke-width="2.2" stroke-linecap="round"/>
<path d="M539.4 200.5h0" stroke="#9c24c0" stroke-width="2.2" stroke-linecap="round"/>
<path d="M541.4 200.2h0" stroke="#9024cc" stroke-width="2.2" stroke-linecap="round"/>
<path d="M543.4 199.4h0M621.4 199.7h0" stroke="#9024cc" stroke-width="2.4" stroke-linecap="round"/>
<path d="M545.4 198.3h0" stroke="#a824b4" stroke-width="2.4" stroke-linecap="round"/>
<path d="M547.4 196.9h0" stroke="#c02490" stroke-width="2.4" stroke-linecap="round"/>
<path d="M549.4 195.4h0" stroke="#cc246c" stroke-width="2.4" stroke-linecap="round"/>
<path d="M551.4 193.9h0" stroke="#e42448" stroke-width="2.4" stroke-linecap="round"/>
<path d="M553.4 192.6h0M555.4 191.7h0M557.4 191h0M559.4 190.5h0M561.4 190.1h0M563.4 189.7h0M633.4 186.3h0M635.4 187.1h0M637.4 187.6h0M639.4 187.8h0" stroke="#fc1818" stroke-width="2.4" stroke-linecap="round"/>
<path d="M565.4 189.5h0M567.4 189.3h0M569.4 188.9h0M529.4 181.3h0" stroke="#fc1818" stroke-width="2.6" stroke-linecap="round"/>
<path d="M571.4 188.2h0" stroke="#f02430" stroke-width="2.6" stroke-linecap="round"/>
<path d="M573.4 187.2h0" stroke="#d82460" stroke-width="2.6" stroke-linecap="round"/>
<path d="M575.4 186.5h0" stroke="#c02484" stroke-width="2.6" stroke-linecap="round"/>
<path d="M577.4 186.3h0" stroke="#a824b4" stroke-width="2.6" stroke-linecap="round"/>
<path d="M579.4 186.9h0" stroke="#8424d8" stroke-width="2.6" stroke-linecap="round"/>
<path d="M581.4 188.5h0M583.4 190.5h0M585.4 192.7h0" stroke="#6024e4" stroke-width="2.8" stroke-linecap="round"/>
<path d="M587.4 195.2h0" stroke="#5424f0" stroke-width="3.0" stroke-linecap="round"/>
<path d="M589.4 197.9h0" stroke="#3c24fc" stroke-width="3.0" stroke-linecap="round"/>
<path d="M591.4 200.6h0M591.4 205.6h0" stroke="#2424fc" stroke-width="3.2" stroke-linecap="round"/>
<path d="M593.4 203.3h0M533.4 277.1h0" stroke="#2424fc" stroke-width="3.6" stroke-linecap="round"/>
<path d="M595.4 206.3h0M615.4 195.9h0M597.4 212.2h0M531.4 274.6h0M639.4 276.8h0M641.4 277.2h0" stroke="#2424fc" stroke-width="4.0" stroke-linecap="round"/>
<path d="M597.4 209.5h0M613.4 196.2h0M599.4 212.8h0M529.4 272.6h0M641.4 275.3h0M643.4 273.5h0" stroke="#2424fc" stroke-width="4.2" stroke-linecap="round"/>
<path d="M599.4 211h0M601.4 210.9h0M603.4 209.9h0M605.4 207.8h0M607.4 203.7h0M609.4 199.6h0M611.4 197.3h0M525.4 269.7h0M527.4 271h0M645.4 271.8h0M647.4 270.4h0" stroke="#2424fc" stroke-width="4.4" stroke-linecap="round"/>
<path d="M617.4 196.4h0" stroke="#4824f0" stroke-width="3.4" stroke-linecap="round"/>
<path d="M619.4 197.7h0" stroke="#6c24e4" stroke-width="2.8" stroke-linecap="round"/>
<path d="M623.4 201.2h0" stroke="#a824b4" stroke-width="2.2" stroke-linecap="round"/>
<path d="M625.4 202.2h0M619.4 202.5h0" stroke="#b42490" stroke-width="2.2" stroke-linecap="round"/>
<path d="M627.4 202.8h0M629.4 203.3h0M631.4 203.5h0M629.4 277.1h0M629.4 285.6h0" stroke="#cc2478" stroke-width="2.2" stroke-linecap="round"/>
<path d="M633.4 203.4h0" stroke="#d82454" stroke-width="2.2" stroke-linecap="round"/>
<path d="M635.4 203.1h0M571.4 190.2h0" stroke="#f02430" stroke-width="2.2" stroke-linecap="round"/>
<path d="M637.4 202.3h0M639.4 201.2h0M641.4 199.5h0M643.4 197.3h0M645.4 194.5h0M647.4 191.4h0M649.4 188.2h0M651.4 184.5h0M653.4 180.5h0M655.4 176.9h0M625.4 207.8h0M627.4 209.4h0M629.4 210.4h0M631.4 210.8h0M633.4 210.6h0M635.4 209.8h0M637.4 208.6h0M639.4 207.1h0M641.4 205.1h0M643.4 202.5h0M645.4 199.4h0M647.4 196.2h0M649.4 193h0M651.4 189.2h0M653.4 184.1h0M655.4 179.2h0M657.4 175.8h0M611.4 177.4h0M613.4 178.1h0M615.4 178.7h0M617.4 179.3h0M619.4 179.8h0M621.4 180.4h0M623.4 181.1h0M625.4 182h0M627.4 183h0M629.4 184.1h0M631.4 185.2h0M641.4 187.5h0M643.4 186.8h0M645.4 185.6h0M647.4 183.9h0M649.4 182h0M651.4 179.9h0M653.4 177.5h0M597.4 251.2h0M599.4 250.9h0M597.4 265.7h0M599.4 265.3h0" stroke="#fc1818" stroke-width="2.2" stroke-linecap="round"/>
<path d="M575.4 191.4h0" stroke="#c02478" stroke-width="2.4" stroke-linecap="round"/>
<path d="M577.4 192h0M583.4 176.2h0" stroke="#b4249c" stroke-width="2.4" stroke-linecap="round"/>
<path d="M579.4 192.7h0" stroke="#9c24c0" stroke-width="2.4" stroke-linecap="round"/>
<path d="M581.4 193.9h0" stroke="#8424cc" stroke-width="2.6" stroke-linecap="round"/>
<path d="M583.4 195.6h0" stroke="#7824d8" stroke-width="2.6" stroke-linecap="round"/>
<path d="M585.4 197.9h0" stroke="#6024f0" stroke-width="2.8" stroke-linecap="round"/>
<path d="M587.4 200.6h0" stroke="#3c24f0" stroke-width="2.8" stroke-linecap="round"/>
<path d="M589.4 203.3h0" stroke="#2424fc" stroke-width="2.8" stroke-linecap="round"/>
<path d="M593.4 207.8h0" stroke="#2424fc" stroke-width="3.4" stroke-linecap="round"/>
<path d="M595.4 210.2h0M639.4 279.9h0" stroke="#2424fc" stroke-width="3.8" stroke-linecap="round"/>
<path d="M623.4 205.9h0" stroke="#fc2424" stroke-width="2.2" stroke-linecap="round"/>
<path d="M521.4 176.7h0" stroke="#fc1818" stroke-width="1.0" stroke-linecap="round"/>
<path d="M523.4 178h0" stroke="#fc1818" stroke-width="1.4" stroke-linecap="round"/>
<path d="M525.4 179.2h0" stroke="#fc1818" stroke-width="1.6" stroke-linecap="round"/>
<path d="M531.4 182.3h0M533.4 183.3h0M535.4 184.3h0M537.4 185.2h0M539.4 186.1h0M541.4 186.8h0M543.4 187.3h0M545.4 187.7h0M547.4 187.6h0M549.4 187.1h0" stroke="#fc1818" stroke-width="2.8" stroke-linecap="round"/>
<path d="M551.4 186.1h0" stroke="#fc2424" stroke-width="2.8" stroke-linecap="round"/>
<path d="M553.4 184.7h0" stroke="#d82454" stroke-width="2.8" stroke-linecap="round"/>
<path d="M555.4 182.5h0" stroke="#c02490" stroke-width="2.6" stroke-linecap="round"/>
<path d="M557.4 179.9h0" stroke="#9c24c0" stroke-width="2.6" stroke-linecap="round"/>
<path d="M559.4 178.2h0" stroke="#7824d8" stroke-width="2.4" stroke-linecap="round"/>
<path d="M561.4 176.6h0M571.4 176.7h0M573.4 178.4h0M575.4 179.5h0M577.4 179.7h0M579.4 179h0M537.4 283.1h0" stroke="#6024e4" stroke-width="2.4" stroke-linecap="round"/>
<path d="M581.4 177.8h0" stroke="#8424d8" stroke-width="2.4" stroke-linecap="round"/>
<path d="M607.4 175.9h0" stroke="#cc246c" stroke-width="2.2" stroke-linecap="round"/>
<path d="M609.4 176.7h0" stroke="#f0243c" stroke-width="2.2" stroke-linecap="round"/>
<path d="M629.4 176.8h0" stroke="#f0243c" stroke-width="1.8" stroke-linecap="round"/>
<path d="M631.4 178.3h0M577.4 278.5h0" stroke="#cc246c" stroke-width="1.8" stroke-linecap="round"/>
<path d="M633.4 179.8h0" stroke="#d82454" stroke-width="1.8" stroke-linecap="round"/>
<path d="M635.4 180.9h0" stroke="#fc2430" stroke-width="1.8" stroke-linecap="round"/>
<path d="M637.4 181.6h0M639.4 182h0M641.4 182h0M643.4 181.7h0M645.4 180.7h0M647.4 179h0M649.4 176.6h0M547.4 299.1h0" stroke="#fc1818" stroke-width="1.8" stroke-linecap="round"/>
<path d="M513.4 266.1h0M515.4 266.3h0M517.4 266.6h0M519.4 267.1h0M521.4 267.7h0M523.4 268.6h0M649.4 269.2h0M651.4 268.3h0M653.4 267.5h0M655.4 266.9h0M657.4 266.4h0M659.4 266.1h0M661.4 266h0" stroke="#2424fc" stroke-width="4.6" stroke-linecap="round"/>
<path d="M535.4 280.1h0" stroke="#3c24f0" stroke-width="3.2" stroke-linecap="round"/>
<path d="M539.4 285.6h0" stroke="#8424d8" stroke-width="2.2" stroke-linecap="round"/>
<path d="M541.4 287.6h0M543.4 289.1h0" stroke="#9024cc" stroke-width="2.0" stroke-linecap="round"/>
<path d="M545.4 290h0M559.4 284.4h0M561.4 283.8h0" stroke="#9024cc" stroke-width="1.8" stroke-linecap="round"/>
<path d="M547.4 290.3h0M555.4 286.4h0M555.4 293.9h0" stroke="#b4249c" stroke-width="1.8" stroke-linecap="round"/>
<path d="M549.4 290h0M551.4 289.1h0M553.4 287.8h0M575.4 269.9h0M577.4 268.1h0M579.4 266.5h0M581.4 265h0M553.4 295.8h0" stroke="#cc2478" stroke-width="1.8" stroke-linecap="round"/>
<path d="M557.4 285.2h0M557.4 292h0M571.4 284.1h0" stroke="#9c24c0" stroke-width="1.8" stroke-linecap="round"/>
<path d="M563.4 283.1h0M569.4 278.4h0M569.4 286.7h0" stroke="#8424cc" stroke-width="1.8" stroke-linecap="round"/>
<path d="M565.4 282.2h0" stroke="#6c24d8" stroke-width="1.8" stroke-linecap="round"/>
<path d="M567.4 280.8h0M561.4 290.7h0M567.4 288.9h0" stroke="#6c24e4" stroke-width="1.8" stroke-linecap="round"/>
<path d="M571.4 275.4h0" stroke="#9c24b4" stroke-width="1.8" stroke-linecap="round"/>
<path d="M573.4 272.3h0" stroke="#c02490" stroke-width="1.8" stroke-linecap="round"/>
<path d="M583.4 263.4h0" stroke="#d82454" stroke-width="2.0" stroke-linecap="round"/>
<path d="M585.4 261.8h0" stroke="#f0243c" stroke-width="2.0" stroke-linecap="round"/>
<path d="M619.4 270.4h0M619.4 282.8h0" stroke="#fc2430" stroke-width="2.0" stroke-linecap="round"/>
<path d="M621.4 272.2h0M581.4 275.9h0M621.4 283.6h0" stroke="#e42448" stroke-width="2.0" stroke-linecap="round"/>
<path d="M623.4 273.8h0M579.4 277.1h0M623.4 284.3h0" stroke="#d82460" stroke-width="2.0" stroke-linecap="round"/>
<path d="M625.4 275.1h0M627.4 276.2h0M625.4 284.9h0M627.4 285.4h0" stroke="#cc2478" stroke-width="2.0" stroke-linecap="round"/>
<path d="M631.4 277.9h0M631.4 285.6h0" stroke="#c02484" stroke-width="2.2" stroke-linecap="round"/>
<path d="M633.4 278.5h0M633.4 285.1h0" stroke="#9024b4" stroke-width="2.4" stroke-linecap="round"/>
<path d="M635.4 278.6h0M635.4 284h0" stroke="#6024e4" stroke-width="2.6" stroke-linecap="round"/>
<path d="M637.4 278h0M637.4 282.3h0" stroke="#4824f0" stroke-width="3.2" stroke-linecap="round"/>
<path d="M549.4 297.8h0" stroke="#f02430" stroke-width="1.8" stroke-linecap="round"/>
<path d="M551.4 296.9h0" stroke="#e42454" stroke-width="1.8" stroke-linecap="round"/>
<path d="M559.4 291h0" stroke="#8424d8" stroke-width="1.8" stroke-linecap="round"/>
<path d="M563.4 290.4h0M565.4 290h0" stroke="#6024e4" stroke-width="1.8" stroke-linecap="round"/>
<path d="M573.4 281.9h0" stroke="#a8249c" stroke-width="1.8" stroke-linecap="round"/>
<path d="M575.4 280h0" stroke="#c02484" stroke-width="1.8" stroke-linecap="round"/>
<path d="M567.4 282.1h0" stroke="#9024cc" stroke-width="1.2" stroke-linecap="round"/>
<path d="M569.4 289.3h0M571.4 296.9h0M565.4 294.5h0" stroke="#6024e4" stroke-width="1.2" stroke-linecap="round"/>
</g>
<line x1="184.5" y1="78.50" x2="336.7" y2="78.50" stroke="#a4a4a4" stroke-width="0.8" stroke-dasharray="1.8,0.9"/>
<line x1="348.4" y1="78.50" x2="500.9" y2="78.50" stroke="#a4a4a4" stroke-width="0.8" stroke-dasharray="1.8,0.9"/>
<line x1="23.6" y1="237.90" x2="175.6" y2="237.90" stroke="#a4a4a4" stroke-width="0.8" stroke-dasharray="1.8,0.9"/>
<line x1="185.4" y1="237.90" x2="337.4" y2="237.90" stroke="#a4a4a4" stroke-width="0.8" stroke-dasharray="1.8,0.9"/>
<line x1="348.5" y1="237.90" x2="500.8" y2="237.90" stroke="#a4a4a4" stroke-width="0.8" stroke-dasharray="1.8,0.9"/>
<line x1="511.4" y1="237.90" x2="663.1" y2="237.90" stroke="#a4a4a4" stroke-width="0.8" stroke-dasharray="1.8,0.9"/>
<line x1="184.5" y1="124.62" x2="186.1" y2="124.62" stroke="#6e6e6e" stroke-width="0.8"/>
<line x1="336.7" y1="124.62" x2="335.09999999999997" y2="124.62" stroke="#6e6e6e" stroke-width="0.8"/>
<line x1="184.5" y1="109.25" x2="187.1" y2="109.25" stroke="#6e6e6e" stroke-width="0.8"/>
<line x1="336.7" y1="109.25" x2="334.09999999999997" y2="109.25" stroke="#6e6e6e" stroke-width="0.8"/>
<line x1="184.5" y1="93.88" x2="186.1" y2="93.88" stroke="#6e6e6e" stroke-width="0.8"/>
<line x1="336.7" y1="93.88" x2="335.09999999999997" y2="93.88" stroke="#6e6e6e" stroke-width="0.8"/>
<line x1="184.5" y1="78.50" x2="187.1" y2="78.50" stroke="#6e6e6e" stroke-width="0.8"/>
<line x1="336.7" y1="78.50" x2="334.09999999999997" y2="78.50" stroke="#6e6e6e" stroke-width="0.8"/>
<line x1="184.5" y1="63.12" x2="186.1" y2="63.12" stroke="#6e6e6e" stroke-width="0.8"/>
<line x1="336.7" y1="63.12" x2="335.09999999999997" y2="63.12" stroke="#6e6e6e" stroke-width="0.8"/>
<line x1="184.5" y1="47.75" x2="187.1" y2="47.75" stroke="#6e6e6e" stroke-width="0.8"/>
<line x1="336.7" y1="47.75" x2="334.09999999999997" y2="47.75" stroke="#6e6e6e" stroke-width="0.8"/>
<line x1="184.5" y1="32.38" x2="186.1" y2="32.38" stroke="#6e6e6e" stroke-width="0.8"/>
<line x1="336.7" y1="32.38" x2="335.09999999999997" y2="32.38" stroke="#6e6e6e" stroke-width="0.8"/>
<line x1="348.4" y1="124.62" x2="350.0" y2="124.62" stroke="#6e6e6e" stroke-width="0.8"/>
<line x1="500.9" y1="124.62" x2="499.29999999999995" y2="124.62" stroke="#6e6e6e" stroke-width="0.8"/>
<line x1="348.4" y1="109.25" x2="351.0" y2="109.25" stroke="#6e6e6e" stroke-width="0.8"/>
<line x1="500.9" y1="109.25" x2="498.29999999999995" y2="109.25" stroke="#6e6e6e" stroke-width="0.8"/>
<line x1="348.4" y1="93.88" x2="350.0" y2="93.88" stroke="#6e6e6e" stroke-width="0.8"/>
<line x1="500.9" y1="93.88" x2="499.29999999999995" y2="93.88" stroke="#6e6e6e" stroke-width="0.8"/>
<line x1="348.4" y1="78.50" x2="351.0" y2="78.50" stroke="#6e6e6e" stroke-width="0.8"/>
<line x1="500.9" y1="78.50" x2="498.29999999999995" y2="78.50" stroke="#6e6e6e" stroke-width="0.8"/>
<line x1="348.4" y1="63.12" x2="350.0" y2="63.12" stroke="#6e6e6e" stroke-width="0.8"/>
<line x1="500.9" y1="63.12" x2="499.29999999999995" y2="63.12" stroke="#6e6e6e" stroke-width="0.8"/>
<line x1="348.4" y1="47.75" x2="351.0" y2="47.75" stroke="#6e6e6e" stroke-width="0.8"/>
<line x1="500.9" y1="47.75" x2="498.29999999999995" y2="47.75" stroke="#6e6e6e" stroke-width="0.8"/>
<line x1="348.4" y1="32.38" x2="350.0" y2="32.38" stroke="#6e6e6e" stroke-width="0.8"/>
<line x1="500.9" y1="32.38" x2="499.29999999999995" y2="32.38" stroke="#6e6e6e" stroke-width="0.8"/>
<line x1="23.6" y1="283.95" x2="25.200000000000003" y2="283.95" stroke="#6e6e6e" stroke-width="0.8"/>
<line x1="175.6" y1="283.95" x2="174.0" y2="283.95" stroke="#6e6e6e" stroke-width="0.8"/>
<line x1="23.6" y1="268.60" x2="26.200000000000003" y2="268.60" stroke="#6e6e6e" stroke-width="0.8"/>
<line x1="175.6" y1="268.60" x2="173.0" y2="268.60" stroke="#6e6e6e" stroke-width="0.8"/>
<line x1="23.6" y1="253.25" x2="25.200000000000003" y2="253.25" stroke="#6e6e6e" stroke-width="0.8"/>
<line x1="175.6" y1="253.25" x2="174.0" y2="253.25" stroke="#6e6e6e" stroke-width="0.8"/>
<line x1="23.6" y1="237.90" x2="26.200000000000003" y2="237.90" stroke="#6e6e6e" stroke-width="0.8"/>
<line x1="175.6" y1="237.90" x2="173.0" y2="237.90" stroke="#6e6e6e" stroke-width="0.8"/>
<line x1="23.6" y1="222.55" x2="25.200000000000003" y2="222.55" stroke="#6e6e6e" stroke-width="0.8"/>
<line x1="175.6" y1="222.55" x2="174.0" y2="222.55" stroke="#6e6e6e" stroke-width="0.8"/>
<line x1="23.6" y1="207.20" x2="26.200000000000003" y2="207.20" stroke="#6e6e6e" stroke-width="0.8"/>
<line x1="175.6" y1="207.20" x2="173.0" y2="207.20" stroke="#6e6e6e" stroke-width="0.8"/>
<line x1="23.6" y1="191.85" x2="25.200000000000003" y2="191.85" stroke="#6e6e6e" stroke-width="0.8"/>
<line x1="175.6" y1="191.85" x2="174.0" y2="191.85" stroke="#6e6e6e" stroke-width="0.8"/>
<line x1="185.4" y1="283.95" x2="187.0" y2="283.95" stroke="#6e6e6e" stroke-width="0.8"/>
<line x1="337.4" y1="283.95" x2="335.79999999999995" y2="283.95" stroke="#6e6e6e" stroke-width="0.8"/>
<line x1="185.4" y1="268.60" x2="188.0" y2="268.60" stroke="#6e6e6e" stroke-width="0.8"/>
<line x1="337.4" y1="268.60" x2="334.79999999999995" y2="268.60" stroke="#6e6e6e" stroke-width="0.8"/>
<line x1="185.4" y1="253.25" x2="187.0" y2="253.25" stroke="#6e6e6e" stroke-width="0.8"/>
<line x1="337.4" y1="253.25" x2="335.79999999999995" y2="253.25" stroke="#6e6e6e" stroke-width="0.8"/>
<line x1="185.4" y1="237.90" x2="188.0" y2="237.90" stroke="#6e6e6e" stroke-width="0.8"/>
<line x1="337.4" y1="237.90" x2="334.79999999999995" y2="237.90" stroke="#6e6e6e" stroke-width="0.8"/>
<line x1="185.4" y1="222.55" x2="187.0" y2="222.55" stroke="#6e6e6e" stroke-width="0.8"/>
<line x1="337.4" y1="222.55" x2="335.79999999999995" y2="222.55" stroke="#6e6e6e" stroke-width="0.8"/>
<line x1="185.4" y1="207.20" x2="188.0" y2="207.20" stroke="#6e6e6e" stroke-width="0.8"/>
<line x1="337.4" y1="207.20" x2="334.79999999999995" y2="207.20" stroke="#6e6e6e" stroke-width="0.8"/>
<line x1="185.4" y1="191.85" x2="187.0" y2="191.85" stroke="#6e6e6e" stroke-width="0.8"/>
<line x1="337.4" y1="191.85" x2="335.79999999999995" y2="191.85" stroke="#6e6e6e" stroke-width="0.8"/>
<line x1="348.5" y1="283.95" x2="350.1" y2="283.95" stroke="#6e6e6e" stroke-width="0.8"/>
<line x1="500.8" y1="283.95" x2="499.2" y2="283.95" stroke="#6e6e6e" stroke-width="0.8"/>
<line x1="348.5" y1="268.60" x2="351.1" y2="268.60" stroke="#6e6e6e" stroke-width="0.8"/>
<line x1="500.8" y1="268.60" x2="498.2" y2="268.60" stroke="#6e6e6e" stroke-width="0.8"/>
<line x1="348.5" y1="253.25" x2="350.1" y2="253.25" stroke="#6e6e6e" stroke-width="0.8"/>
<line x1="500.8" y1="253.25" x2="499.2" y2="253.25" stroke="#6e6e6e" stroke-width="0.8"/>
<line x1="348.5" y1="237.90" x2="351.1" y2="237.90" stroke="#6e6e6e" stroke-width="0.8"/>
<line x1="500.8" y1="237.90" x2="498.2" y2="237.90" stroke="#6e6e6e" stroke-width="0.8"/>
<line x1="348.5" y1="222.55" x2="350.1" y2="222.55" stroke="#6e6e6e" stroke-width="0.8"/>
<line x1="500.8" y1="222.55" x2="499.2" y2="222.55" stroke="#6e6e6e" stroke-width="0.8"/>
<line x1="348.5" y1="207.20" x2="351.1" y2="207.20" stroke="#6e6e6e" stroke-width="0.8"/>
<line x1="500.8" y1="207.20" x2="498.2" y2="207.20" stroke="#6e6e6e" stroke-width="0.8"/>
<line x1="348.5" y1="191.85" x2="350.1" y2="191.85" stroke="#6e6e6e" stroke-width="0.8"/>
<line x1="500.8" y1="191.85" x2="499.2" y2="191.85" stroke="#6e6e6e" stroke-width="0.8"/>
<line x1="511.4" y1="283.95" x2="513.0" y2="283.95" stroke="#6e6e6e" stroke-width="0.8"/>
<line x1="663.1" y1="283.95" x2="661.5" y2="283.95" stroke="#6e6e6e" stroke-width="0.8"/>
<line x1="511.4" y1="268.60" x2="514.0" y2="268.60" stroke="#6e6e6e" stroke-width="0.8"/>
<line x1="663.1" y1="268.60" x2="660.5" y2="268.60" stroke="#6e6e6e" stroke-width="0.8"/>
<line x1="511.4" y1="253.25" x2="513.0" y2="253.25" stroke="#6e6e6e" stroke-width="0.8"/>
<line x1="663.1" y1="253.25" x2="661.5" y2="253.25" stroke="#6e6e6e" stroke-width="0.8"/>
<line x1="511.4" y1="237.90" x2="514.0" y2="237.90" stroke="#6e6e6e" stroke-width="0.8"/>
<line x1="663.1" y1="237.90" x2="660.5" y2="237.90" stroke="#6e6e6e" stroke-width="0.8"/>
<line x1="511.4" y1="222.55" x2="513.0" y2="222.55" stroke="#6e6e6e" stroke-width="0.8"/>
<line x1="663.1" y1="222.55" x2="661.5" y2="222.55" stroke="#6e6e6e" stroke-width="0.8"/>
<line x1="511.4" y1="207.20" x2="514.0" y2="207.20" stroke="#6e6e6e" stroke-width="0.8"/>
<line x1="663.1" y1="207.20" x2="660.5" y2="207.20" stroke="#6e6e6e" stroke-width="0.8"/>
<line x1="511.4" y1="191.85" x2="513.0" y2="191.85" stroke="#6e6e6e" stroke-width="0.8"/>
<line x1="663.1" y1="191.85" x2="661.5" y2="191.85" stroke="#6e6e6e" stroke-width="0.8"/>
<line x1="240.21" y1="140" x2="240.21" y2="137.8" stroke="#6e6e6e" stroke-width="0.8"/>
<line x1="240.21" y1="17" x2="240.21" y2="19.2" stroke="#6e6e6e" stroke-width="0.8"/>
<line x1="272.37" y1="140" x2="272.37" y2="137.8" stroke="#6e6e6e" stroke-width="0.8"/>
<line x1="272.37" y1="17" x2="272.37" y2="19.2" stroke="#6e6e6e" stroke-width="0.8"/>
<line x1="404.22" y1="140" x2="404.22" y2="137.8" stroke="#6e6e6e" stroke-width="0.8"/>
<line x1="404.22" y1="17" x2="404.22" y2="19.2" stroke="#6e6e6e" stroke-width="0.8"/>
<line x1="436.45" y1="140" x2="436.45" y2="137.8" stroke="#6e6e6e" stroke-width="0.8"/>
<line x1="436.45" y1="17" x2="436.45" y2="19.2" stroke="#6e6e6e" stroke-width="0.8"/>
<line x1="79.24" y1="299.3" x2="79.24" y2="297.1" stroke="#6e6e6e" stroke-width="0.8"/>
<line x1="79.24" y1="176.5" x2="79.24" y2="178.7" stroke="#6e6e6e" stroke-width="0.8"/>
<line x1="111.36" y1="299.3" x2="111.36" y2="297.1" stroke="#6e6e6e" stroke-width="0.8"/>
<line x1="111.36" y1="176.5" x2="111.36" y2="178.7" stroke="#6e6e6e" stroke-width="0.8"/>
<line x1="241.04" y1="299.3" x2="241.04" y2="297.1" stroke="#6e6e6e" stroke-width="0.8"/>
<line x1="241.04" y1="176.5" x2="241.04" y2="178.7" stroke="#6e6e6e" stroke-width="0.8"/>
<line x1="273.16" y1="299.3" x2="273.16" y2="297.1" stroke="#6e6e6e" stroke-width="0.8"/>
<line x1="273.16" y1="176.5" x2="273.16" y2="178.7" stroke="#6e6e6e" stroke-width="0.8"/>
<line x1="404.25" y1="299.3" x2="404.25" y2="297.1" stroke="#6e6e6e" stroke-width="0.8"/>
<line x1="404.25" y1="176.5" x2="404.25" y2="178.7" stroke="#6e6e6e" stroke-width="0.8"/>
<line x1="436.43" y1="299.3" x2="436.43" y2="297.1" stroke="#6e6e6e" stroke-width="0.8"/>
<line x1="436.43" y1="176.5" x2="436.43" y2="178.7" stroke="#6e6e6e" stroke-width="0.8"/>
<line x1="566.93" y1="299.3" x2="566.93" y2="297.1" stroke="#6e6e6e" stroke-width="0.8"/>
<line x1="566.93" y1="176.5" x2="566.93" y2="178.7" stroke="#6e6e6e" stroke-width="0.8"/>
<line x1="598.98" y1="299.3" x2="598.98" y2="297.1" stroke="#6e6e6e" stroke-width="0.8"/>
<line x1="598.98" y1="176.5" x2="598.98" y2="178.7" stroke="#6e6e6e" stroke-width="0.8"/>
<text x="182.30" y="20.80" text-anchor="end" style="font-size:11px;font-weight:bold;font-family:'Liberation Serif',serif;fill:#111;">2</text>
<text x="503.60" y="20.80" style="font-size:11px;font-weight:bold;font-family:'Liberation Serif',serif;fill:#111;">2</text>
<text x="20.80" y="180.30" text-anchor="end" style="font-size:11px;font-weight:bold;font-family:'Liberation Serif',serif;fill:#111;">2</text>
<text x="666.00" y="180.30" style="font-size:11px;font-weight:bold;font-family:'Liberation Serif',serif;fill:#111;">2</text>
<text x="182.30" y="51.55" text-anchor="end" style="font-size:11px;font-weight:bold;font-family:'Liberation Serif',serif;fill:#111;">1</text>
<text x="503.60" y="51.55" style="font-size:11px;font-weight:bold;font-family:'Liberation Serif',serif;fill:#111;">1</text>
<text x="20.80" y="211.00" text-anchor="end" style="font-size:11px;font-weight:bold;font-family:'Liberation Serif',serif;fill:#111;">1</text>
<text x="666.00" y="211.00" style="font-size:11px;font-weight:bold;font-family:'Liberation Serif',serif;fill:#111;">1</text>
<text x="182.30" y="82.30" text-anchor="end" style="font-size:11px;font-weight:bold;font-family:'Liberation Serif',serif;fill:#111;">0</text>
<text x="503.60" y="82.30" style="font-size:11px;font-weight:bold;font-family:'Liberation Serif',serif;fill:#111;">0</text>
<text x="20.80" y="241.70" text-anchor="end" style="font-size:11px;font-weight:bold;font-family:'Liberation Serif',serif;fill:#111;">0</text>
<text x="666.00" y="241.70" style="font-size:11px;font-weight:bold;font-family:'Liberation Serif',serif;fill:#111;">0</text>
<text x="182.30" y="113.05" text-anchor="end" style="font-size:11px;font-weight:bold;font-family:'Liberation Serif',serif;fill:#111;">-1</text>
<text x="503.60" y="113.05" style="font-size:11px;font-weight:bold;font-family:'Liberation Serif',serif;fill:#111;">-1</text>
<text x="20.80" y="272.40" text-anchor="end" style="font-size:11px;font-weight:bold;font-family:'Liberation Serif',serif;fill:#111;">-1</text>
<text x="666.00" y="272.40" style="font-size:11px;font-weight:bold;font-family:'Liberation Serif',serif;fill:#111;">-1</text>
<text x="182.30" y="143.80" text-anchor="end" style="font-size:11px;font-weight:bold;font-family:'Liberation Serif',serif;fill:#111;">-2</text>
<text x="503.60" y="143.80" style="font-size:11px;font-weight:bold;font-family:'Liberation Serif',serif;fill:#111;">-2</text>
<text x="20.80" y="303.10" text-anchor="end" style="font-size:11px;font-weight:bold;font-family:'Liberation Serif',serif;fill:#111;">-2</text>
<text x="666.00" y="303.10" style="font-size:11px;font-weight:bold;font-family:'Liberation Serif',serif;fill:#111;">-2</text>
<text x="0.00" y="0.00" text-anchor="middle" style="font-size:13.4px;font-weight:bold;font-family:'Liberation Serif',serif;fill:#111;" transform="translate(172.0,81.4) rotate(-90)">Energy (eV)</text>
<text x="0.00" y="0.00" text-anchor="middle" style="font-size:13.4px;font-weight:bold;font-family:'Liberation Serif',serif;fill:#111;" transform="translate(518.0,80.3) rotate(90)">Energy (eV)</text>
<text x="0.00" y="0.00" text-anchor="middle" style="font-size:13.4px;font-weight:bold;font-family:'Liberation Serif',serif;fill:#111;" transform="translate(10.0,240.5) rotate(-90)">Energy (eV)</text>
<text x="0.00" y="0.00" text-anchor="middle" style="font-size:13.4px;font-weight:bold;font-family:'Liberation Serif',serif;fill:#111;" transform="translate(675.8,231.3) rotate(90)">Energy (eV)</text>
<text x="184.00" y="151" text-anchor="middle" style="font-size:10.2px;font-weight:bold;font-family:'Liberation Serif',serif;fill:#111">Γs</text>
<text x="239.71" y="151" text-anchor="middle" style="font-size:10.2px;font-weight:bold;font-family:'Liberation Serif',serif;fill:#111">Ms</text>
<text x="271.87" y="151" text-anchor="middle" style="font-size:10.2px;font-weight:bold;font-family:'Liberation Serif',serif;fill:#111">Ks</text>
<text x="336.20" y="151" text-anchor="middle" style="font-size:10.2px;font-weight:bold;font-family:'Liberation Serif',serif;fill:#111">Γs</text>
<text x="347.90" y="151" text-anchor="middle" style="font-size:10.2px;font-weight:bold;font-family:'Liberation Serif',serif;fill:#111">Γs</text>
<text x="403.72" y="151" text-anchor="middle" style="font-size:10.2px;font-weight:bold;font-family:'Liberation Serif',serif;fill:#111">Ms</text>
<text x="435.95" y="151" text-anchor="middle" style="font-size:10.2px;font-weight:bold;font-family:'Liberation Serif',serif;fill:#111">Ks</text>
<text x="500.40" y="151" text-anchor="middle" style="font-size:10.2px;font-weight:bold;font-family:'Liberation Serif',serif;fill:#111">Γs</text>
<text x="22.40" y="309.8" text-anchor="middle" style="font-size:10px;font-weight:bold;font-family:'Liberation Serif',serif;fill:#111">Γ</text>
<text x="79.24" y="309.8" text-anchor="middle" style="font-size:10px;font-weight:bold;font-family:'Liberation Serif',serif;fill:#111">M</text>
<text x="111.36" y="309.8" text-anchor="middle" style="font-size:10px;font-weight:bold;font-family:'Liberation Serif',serif;fill:#111">K</text>
<text x="175.00" y="309.8" text-anchor="middle" style="font-size:10px;font-weight:bold;font-family:'Liberation Serif',serif;fill:#111">Γ</text>
<text x="184.20" y="309.8" text-anchor="middle" style="font-size:10px;font-weight:bold;font-family:'Liberation Serif',serif;fill:#111">Γ</text>
<text x="241.04" y="309.8" text-anchor="middle" style="font-size:10px;font-weight:bold;font-family:'Liberation Serif',serif;fill:#111">M</text>
<text x="273.16" y="309.8" text-anchor="middle" style="font-size:10px;font-weight:bold;font-family:'Liberation Serif',serif;fill:#111">K</text>
<text x="336.80" y="309.8" text-anchor="middle" style="font-size:10px;font-weight:bold;font-family:'Liberation Serif',serif;fill:#111">Γ</text>
<text x="347.30" y="309.8" text-anchor="middle" style="font-size:10px;font-weight:bold;font-family:'Liberation Serif',serif;fill:#111">Γ</text>
<text x="404.25" y="309.8" text-anchor="middle" style="font-size:10px;font-weight:bold;font-family:'Liberation Serif',serif;fill:#111">M</text>
<text x="436.43" y="309.8" text-anchor="middle" style="font-size:10px;font-weight:bold;font-family:'Liberation Serif',serif;fill:#111">K</text>
<text x="500.20" y="309.8" text-anchor="middle" style="font-size:10px;font-weight:bold;font-family:'Liberation Serif',serif;fill:#111">Γ</text>
<text x="510.20" y="309.8" text-anchor="middle" style="font-size:10px;font-weight:bold;font-family:'Liberation Serif',serif;fill:#111">Γ</text>
<text x="566.93" y="309.8" text-anchor="middle" style="font-size:10px;font-weight:bold;font-family:'Liberation Serif',serif;fill:#111">M</text>
<text x="598.98" y="309.8" text-anchor="middle" style="font-size:10px;font-weight:bold;font-family:'Liberation Serif',serif;fill:#111">K</text>
<text x="662.50" y="309.8" text-anchor="middle" style="font-size:10px;font-weight:bold;font-family:'Liberation Serif',serif;fill:#111">Γ</text>
<rect x="24" y="18.5" width="124.30" height="124.70" fill="none" stroke="#6e6e6e" stroke-width="1.2"/>
<rect x="184.5" y="17" width="152.20" height="123.00" fill="none" stroke="#6e6e6e" stroke-width="1.2"/>
<rect x="348.4" y="17" width="152.50" height="123.00" fill="none" stroke="#6e6e6e" stroke-width="1.2"/>
<rect x="534.5" y="17.7" width="126.70" height="125.30" fill="none" stroke="#6e6e6e" stroke-width="1.2"/>
<rect x="23.6" y="176.5" width="152.00" height="122.80" fill="none" stroke="#6e6e6e" stroke-width="1.2"/>
<rect x="185.4" y="176.5" width="152.00" height="122.80" fill="none" stroke="#6e6e6e" stroke-width="1.2"/>
<rect x="348.5" y="176.5" width="152.30" height="122.80" fill="none" stroke="#6e6e6e" stroke-width="1.2"/>
<rect x="511.4" y="176.5" width="151.70" height="122.80" fill="none" stroke="#6e6e6e" stroke-width="1.2"/>
<text x="12.40" y="10.60" style="font-size:13px;font-weight:bold;font-family:'Liberation Serif',serif;fill:#111;">(a)</text>
<text x="31.60" y="10.80" style="font-family:'Liberation Serif',serif;font-weight:bold;fill:#111;font-size:11.2px;stroke:#111;stroke-width:0.15">MoS<tspan style="font-size:7.8px" dy="3.0">2</tspan><tspan dy="-3.0">-(</tspan></text>
<path d="M66.20,7.40 L67.30,6.80 L69.41,11.60 L72.90,1.50 L86.90,1.50" fill="none" stroke="#111" stroke-width="0.85" stroke-linejoin="miter"/>
<text x="74.50 80.60" y="10.70" style="font-size:10.8px;font-weight:bold;font-family:'Liberation Serif',serif;fill:#111;">13</text>
<path d="M91.1,5.1L96.7,10.7M96.7,5.1L91.1,10.7" stroke="#111" stroke-width="0.95"/>
<path d="M101.20,7.40 L102.30,6.80 L104.33,11.60 L107.70,1.50 L121.80,1.50" fill="none" stroke="#111" stroke-width="0.85" stroke-linejoin="miter"/>
<text x="108.90 115.40" y="10.70" style="font-size:10.8px;font-weight:bold;font-family:'Liberation Serif',serif;fill:#111;">13</text>
<text x="121.70" y="10.80" style="font-size:11.5px;font-weight:bold;font-family:'Liberation Serif',serif;fill:#111;">)</text>
<text x="126.80" y="10.80" style="font-size:11.0px;font-weight:bold;font-family:'Liberation Serif',serif;fill:#111;font-style:italic">R</text>
<text x="135.60 141.60 148.40 152.70" y="10.80" style="font-size:11.2px;font-weight:bold;font-family:'Liberation Serif',serif;fill:#111;">13.9</text>
<text x="158.90" y="11.40" style="font-size:10.5px;font-weight:bold;font-family:'Liberation Serif',serif;fill:#111;">°</text>
<text x="185.70" y="11.60" style="font-size:13px;font-weight:bold;font-family:'Liberation Serif',serif;fill:#111;">(b)</text>
<text x="230.00" y="12.10" style="font-family:'Liberation Serif',serif;font-weight:bold;fill:#111;font-size:11.5px;stroke:#111;stroke-width:0.15">MoS<tspan style="font-size:7.8px" dy="3.0">2</tspan><tspan dy="-3.0"> in SC</tspan></text>
<text x="347.90" y="11.60" style="font-size:13px;font-weight:bold;font-family:'Liberation Serif',serif;fill:#111;">(c)</text>
<text x="392.00" y="12.10" style="font-family:'Liberation Serif',serif;font-weight:bold;fill:#111;font-size:11.5px;stroke:#111;stroke-width:0.15">WSe<tspan style="font-size:7.8px" dy="3.0">2</tspan><tspan dy="-3.0"> in SC</tspan></text>
<text x="529.80" y="10.80" style="font-size:13px;font-weight:bold;font-family:'Liberation Serif',serif;fill:#111;">(d)</text>
<text x="549.60" y="10.80" style="font-family:'Liberation Serif',serif;font-weight:bold;fill:#111;font-size:11.2px;stroke:#111;stroke-width:0.15">WSe<tspan style="font-size:7.8px" dy="3.0">2</tspan><tspan dy="-3.0">-(2</tspan></text>
<path d="M591.00,7.40 L592.10,6.80 L593.67,11.60 L596.40,1.50 L604.80,1.50" fill="none" stroke="#111" stroke-width="0.85" stroke-linejoin="miter"/>
<text x="596.90" y="10.80" textLength="7.50" lengthAdjust="spacingAndGlyphs" style="font-size:11.3px;font-weight:bold;font-family:'Liberation Serif',serif;fill:#111;">3</text>
<path d="M609.3,5.1L614.9,10.7M614.9,5.1L609.3,10.7" stroke="#111" stroke-width="0.95"/>
<text x="618.60" y="10.80" style="font-size:11.2px;font-weight:bold;font-family:'Liberation Serif',serif;fill:#111;">2</text>
<path d="M624.90,7.40 L626.00,6.80 L627.32,11.60 L629.70,1.50 L638.70,1.50" fill="none" stroke="#111" stroke-width="0.85" stroke-linejoin="miter"/>
<text x="629.80" y="10.80" textLength="8.60" lengthAdjust="spacingAndGlyphs" style="font-size:11.3px;font-weight:bold;font-family:'Liberation Serif',serif;fill:#111;">3</text>
<text x="638.90" y="10.80" style="font-size:11.5px;font-weight:bold;font-family:'Liberation Serif',serif;fill:#111;">)</text>
<text x="644.10" y="10.80" style="font-size:11.0px;font-weight:bold;font-family:'Liberation Serif',serif;fill:#111;font-style:italic">R</text>
<text x="652.40" y="10.80" textLength="12.60" lengthAdjust="spacingAndGlyphs" style="font-size:11.5px;font-weight:bold;font-family:'Liberation Serif',serif;fill:#111;">30</text>
<text x="665.10" y="11.40" style="font-size:10.5px;font-weight:bold;font-family:'Liberation Serif',serif;fill:#111;">°</text>
<text x="24.60" y="170.60" style="font-size:13px;font-weight:bold;font-family:'Liberation Serif',serif;fill:#111;">(e)</text>
<text x="63.60" y="170.60" style="font-family:'Liberation Serif',serif;font-weight:bold;fill:#111;font-size:11.5px;stroke:#111;stroke-width:0.15">MoS<tspan style="font-size:7.8px" dy="3.0">2</tspan><tspan dy="-3.0"> monolayer</tspan></text>
<text x="180.90" y="170.90" style="font-size:13px;font-weight:bold;font-family:'Liberation Serif',serif;fill:#111;">(f)</text>
<text x="202.00" y="170.90" style="font-family:'Liberation Serif',serif;font-weight:bold;fill:#111;font-size:11.5px;stroke:#111;stroke-width:0.15">MoS<tspan style="font-size:7.8px" dy="3.0">2</tspan><tspan dy="-3.0"> in SC unfold to UC</tspan></text>
<text x="347.90" y="170.90" style="font-size:13px;font-weight:bold;font-family:'Liberation Serif',serif;fill:#111;">(g)</text>
<text x="369.00" y="170.90" style="font-family:'Liberation Serif',serif;font-weight:bold;fill:#111;font-size:11.5px;stroke:#111;stroke-width:0.15">WSe<tspan style="font-size:7.8px" dy="3.0">2</tspan><tspan dy="-3.0"> in SC unfold to UC</tspan></text>
<text x="507.10" y="170.60" style="font-size:13px;font-weight:bold;font-family:'Liberation Serif',serif;fill:#111;">(h)</text>
<text x="558.00" y="170.60" style="font-family:'Liberation Serif',serif;font-weight:bold;fill:#111;font-size:11.5px;stroke:#111;stroke-width:0.15">WSe<tspan style="font-size:7.8px" dy="3.0">2</tspan><tspan dy="-3.0"> monolayer</tspan></text>
<circle cx="222.8" cy="85.1" r="2.3" fill="#ff2a2a"/>
<circle cx="222.8" cy="99.0" r="2.3" fill="#3a3aff"/>
<text x="229.50" y="87.60" style="font-family:'Liberation Serif',serif;font-weight:bold;fill:#111;stroke:#111;stroke-width:0.25;font-size:10.8px;font-style:italic">(</text>
<text x="232.80" y="87.60" style="font-family:'Liberation Serif',serif;font-weight:bold;fill:#111;stroke:#111;stroke-width:0.25;font-size:11px;font-style:italic">d</text>
<text x="239.20" y="90.80" style="font-family:'Liberation Serif',serif;font-weight:bold;fill:#111;stroke:#111;stroke-width:0.25;font-size:7.8px;font-style:italic">x</text>
<text x="243.60" y="87.30" style="font-family:'Liberation Serif',serif;font-weight:bold;fill:#111;stroke:#111;stroke-width:0.25;font-size:7px;font-style:normal">2</text>
<text x="247.70" y="90.60" style="font-family:'Liberation Serif',serif;font-weight:bold;fill:#111;stroke:#111;stroke-width:0.25;font-size:7.5px;font-style:normal">−</text>
<text x="252.40" y="90.80" style="font-family:'Liberation Serif',serif;font-weight:bold;fill:#111;stroke:#111;stroke-width:0.25;font-size:7.8px;font-style:italic">y</text>
<text x="256.90" y="87.30" style="font-family:'Liberation Serif',serif;font-weight:bold;fill:#111;stroke:#111;stroke-width:0.25;font-size:7px;font-style:normal">2</text>
<text x="261.50" y="87.60" style="font-family:'Liberation Serif',serif;font-weight:bold;fill:#111;stroke:#111;stroke-width:0.25;font-size:9.8px;font-style:normal">+</text>
<text x="267.40" y="87.60" style="font-family:'Liberation Serif',serif;font-weight:bold;fill:#111;stroke:#111;stroke-width:0.25;font-size:11px;font-style:italic">d</text>
<text x="273.90" y="90.80" style="font-family:'Liberation Serif',serif;font-weight:bold;fill:#111;stroke:#111;stroke-width:0.25;font-size:7.8px;font-style:italic">x</text>
<text x="277.40" y="90.80" style="font-family:'Liberation Serif',serif;font-weight:bold;fill:#111;stroke:#111;stroke-width:0.25;font-size:7.8px;font-style:italic">y</text>
<text x="282.40" y="87.60" style="font-family:'Liberation Serif',serif;font-weight:bold;fill:#111;stroke:#111;stroke-width:0.25;font-size:10.8px;font-style:italic">)</text>
<text x="285.80" y="87.60" style="font-family:'Liberation Serif',serif;font-weight:bold;fill:#111;stroke:#111;stroke-width:0.25;font-size:10.8px;font-style:italic">/</text>
<text x="290.50" y="87.60" style="font-family:'Liberation Serif',serif;font-weight:bold;fill:#111;stroke:#111;stroke-width:0.25;font-size:10.5px;font-style:italic">2</text>
<text x="231.80" y="102.20" style="font-family:'Liberation Serif',serif;font-weight:bold;fill:#111;stroke:#111;stroke-width:0.25;font-size:11px;font-style:italic">d</text>
<text x="238.10" y="105.10" style="font-family:'Liberation Serif',serif;font-weight:bold;fill:#111;stroke:#111;stroke-width:0.25;font-size:7.8px;font-style:italic">z</text>
<text x="241.80" y="102.20" style="font-family:'Liberation Serif',serif;font-weight:bold;fill:#111;stroke:#111;stroke-width:0.25;font-size:7px;font-style:normal">2</text>
<circle cx="367.6" cy="73.7" r="2.3" fill="#ff2a2a"/>
<circle cx="367.6" cy="88.0" r="2.3" fill="#3a3aff"/>
<text x="374.40" y="76.40" style="font-family:'Liberation Serif',serif;font-weight:bold;fill:#111;stroke:#111;stroke-width:0.25;font-size:10.8px;font-style:italic">(</text>
<text x="377.70" y="76.40" style="font-family:'Liberation Serif',serif;font-weight:bold;fill:#111;stroke:#111;stroke-width:0.25;font-size:11px;font-style:italic">d</text>
<text x="384.10" y="79.60" style="font-family:'Liberation Serif',serif;font-weight:bold;fill:#111;stroke:#111;stroke-width:0.25;font-size:7.8px;font-style:italic">x</text>
<text x="388.50" y="76.10" style="font-family:'Liberation Serif',serif;font-weight:bold;fill:#111;stroke:#111;stroke-width:0.25;font-size:7px;font-style:normal">2</text>
<text x="392.60" y="79.40" style="font-family:'Liberation Serif',serif;font-weight:bold;fill:#111;stroke:#111;stroke-width:0.25;font-size:7.5px;font-style:normal">−</text>
<text x="397.30" y="79.60" style="font-family:'Liberation Serif',serif;font-weight:bold;fill:#111;stroke:#111;stroke-width:0.25;font-size:7.8px;font-style:italic">y</text>
<text x="401.80" y="76.10" style="font-family:'Liberation Serif',serif;font-weight:bold;fill:#111;stroke:#111;stroke-width:0.25;font-size:7px;font-style:normal">2</text>
<text x="406.40" y="76.40" style="font-family:'Liberation Serif',serif;font-weight:bold;fill:#111;stroke:#111;stroke-width:0.25;font-size:9.8px;font-style:normal">+</text>
<text x="412.30" y="76.40" style="font-family:'Liberation Serif',serif;font-weight:bold;fill:#111;stroke:#111;stroke-width:0.25;font-size:11px;font-style:italic">d</text>
<text x="418.80" y="79.60" style="font-family:'Liberation Serif',serif;font-weight:bold;fill:#111;stroke:#111;stroke-width:0.25;font-size:7.8px;font-style:italic">x</text>
<text x="422.30" y="79.60" style="font-family:'Liberation Serif',serif;font-weight:bold;fill:#111;stroke:#111;stroke-width:0.25;font-size:7.8px;font-style:italic">y</text>
<text x="427.30" y="76.40" style="font-family:'Liberation Serif',serif;font-weight:bold;fill:#111;stroke:#111;stroke-width:0.25;font-size:10.8px;font-style:italic">)</text>
<text x="430.70" y="76.40" style="font-family:'Liberation Serif',serif;font-weight:bold;fill:#111;stroke:#111;stroke-width:0.25;font-size:10.8px;font-style:italic">/</text>
<text x="435.40" y="76.40" style="font-family:'Liberation Serif',serif;font-weight:bold;fill:#111;stroke:#111;stroke-width:0.25;font-size:10.5px;font-style:italic">2</text>
<text x="377.00" y="90.30" style="font-family:'Liberation Serif',serif;font-weight:bold;fill:#111;stroke:#111;stroke-width:0.25;font-size:11px;font-style:italic">d</text>
<text x="383.30" y="93.20" style="font-family:'Liberation Serif',serif;font-weight:bold;fill:#111;stroke:#111;stroke-width:0.25;font-size:7.8px;font-style:italic">z</text>
<text x="387.00" y="90.30" style="font-family:'Liberation Serif',serif;font-weight:bold;fill:#111;stroke:#111;stroke-width:0.25;font-size:7px;font-style:normal">2</text>
<circle cx="40.5" cy="248.8" r="2.3" fill="#ff2a2a"/>
<circle cx="40.5" cy="263.0" r="2.3" fill="#3a3aff"/>
<text x="47.30" y="251.40" style="font-family:'Liberation Serif',serif;font-weight:bold;fill:#111;stroke:#111;stroke-width:0.25;font-size:10.8px;font-style:italic">(</text>
<text x="50.60" y="251.40" style="font-family:'Liberation Serif',serif;font-weight:bold;fill:#111;stroke:#111;stroke-width:0.25;font-size:11px;font-style:italic">d</text>
<text x="57.00" y="254.60" style="font-family:'Liberation Serif',serif;font-weight:bold;fill:#111;stroke:#111;stroke-width:0.25;font-size:7.8px;font-style:italic">x</text>
<text x="61.40" y="251.10" style="font-family:'Liberation Serif',serif;font-weight:bold;fill:#111;stroke:#111;stroke-width:0.25;font-size:7px;font-style:normal">2</text>
<text x="65.50" y="254.40" style="font-family:'Liberation Serif',serif;font-weight:bold;fill:#111;stroke:#111;stroke-width:0.25;font-size:7.5px;font-style:normal">−</text>
<text x="70.20" y="254.60" style="font-family:'Liberation Serif',serif;font-weight:bold;fill:#111;stroke:#111;stroke-width:0.25;font-size:7.8px;font-style:italic">y</text>
<text x="74.70" y="251.10" style="font-family:'Liberation Serif',serif;font-weight:bold;fill:#111;stroke:#111;stroke-width:0.25;font-size:7px;font-style:normal">2</text>
<text x="79.30" y="251.40" style="font-family:'Liberation Serif',serif;font-weight:bold;fill:#111;stroke:#111;stroke-width:0.25;font-size:9.8px;font-style:normal">+</text>
<text x="85.20" y="251.40" style="font-family:'Liberation Serif',serif;font-weight:bold;fill:#111;stroke:#111;stroke-width:0.25;font-size:11px;font-style:italic">d</text>
<text x="91.70" y="254.60" style="font-family:'Liberation Serif',serif;font-weight:bold;fill:#111;stroke:#111;stroke-width:0.25;font-size:7.8px;font-style:italic">x</text>
<text x="95.20" y="254.60" style="font-family:'Liberation Serif',serif;font-weight:bold;fill:#111;stroke:#111;stroke-width:0.25;font-size:7.8px;font-style:italic">y</text>
<text x="100.20" y="251.40" style="font-family:'Liberation Serif',serif;font-weight:bold;fill:#111;stroke:#111;stroke-width:0.25;font-size:10.8px;font-style:italic">)</text>
<text x="103.60" y="251.40" style="font-family:'Liberation Serif',serif;font-weight:bold;fill:#111;stroke:#111;stroke-width:0.25;font-size:10.8px;font-style:italic">/</text>
<text x="108.30" y="251.40" style="font-family:'Liberation Serif',serif;font-weight:bold;fill:#111;stroke:#111;stroke-width:0.25;font-size:10.5px;font-style:italic">2</text>
<text x="49.60" y="266.70" style="font-family:'Liberation Serif',serif;font-weight:bold;fill:#111;stroke:#111;stroke-width:0.25;font-size:11px;font-style:italic">d</text>
<text x="55.90" y="269.60" style="font-family:'Liberation Serif',serif;font-weight:bold;fill:#111;stroke:#111;stroke-width:0.25;font-size:7.8px;font-style:italic">z</text>
<text x="59.60" y="266.70" style="font-family:'Liberation Serif',serif;font-weight:bold;fill:#111;stroke:#111;stroke-width:0.25;font-size:7px;font-style:normal">2</text>
<circle cx="544.1" cy="232.0" r="2.3" fill="#ff2a2a"/>
<circle cx="544.1" cy="246.1" r="2.3" fill="#3a3aff"/>
<text x="551.50" y="234.30" style="font-family:'Liberation Serif',serif;font-weight:bold;fill:#111;stroke:#111;stroke-width:0.25;font-size:10.8px;font-style:italic">(</text>
<text x="554.80" y="234.30" style="font-family:'Liberation Serif',serif;font-weight:bold;fill:#111;stroke:#111;stroke-width:0.25;font-size:11px;font-style:italic">d</text>
<text x="561.20" y="237.50" style="font-family:'Liberation Serif',serif;font-weight:bold;fill:#111;stroke:#111;stroke-width:0.25;font-size:7.8px;font-style:italic">x</text>
<text x="565.60" y="234.00" style="font-family:'Liberation Serif',serif;font-weight:bold;fill:#111;stroke:#111;stroke-width:0.25;font-size:7px;font-style:normal">2</text>
<text x="569.70" y="237.30" style="font-family:'Liberation Serif',serif;font-weight:bold;fill:#111;stroke:#111;stroke-width:0.25;font-size:7.5px;font-style:normal">−</text>
<text x="574.40" y="237.50" style="font-family:'Liberation Serif',serif;font-weight:bold;fill:#111;stroke:#111;stroke-width:0.25;font-size:7.8px;font-style:italic">y</text>
<text x="578.90" y="234.00" style="font-family:'Liberation Serif',serif;font-weight:bold;fill:#111;stroke:#111;stroke-width:0.25;font-size:7px;font-style:normal">2</text>
<text x="583.50" y="234.30" style="font-family:'Liberation Serif',serif;font-weight:bold;fill:#111;stroke:#111;stroke-width:0.25;font-size:9.8px;font-style:normal">+</text>
<text x="589.40" y="234.30" style="font-family:'Liberation Serif',serif;font-weight:bold;fill:#111;stroke:#111;stroke-width:0.25;font-size:11px;font-style:italic">d</text>
<text x="595.90" y="237.50" style="font-family:'Liberation Serif',serif;font-weight:bold;fill:#111;stroke:#111;stroke-width:0.25;font-size:7.8px;font-style:italic">x</text>
<text x="599.40" y="237.50" style="font-family:'Liberation Serif',serif;font-weight:bold;fill:#111;stroke:#111;stroke-width:0.25;font-size:7.8px;font-style:italic">y</text>
<text x="604.40" y="234.30" style="font-family:'Liberation Serif',serif;font-weight:bold;fill:#111;stroke:#111;stroke-width:0.25;font-size:10.8px;font-style:italic">)</text>
<text x="607.80" y="234.30" style="font-family:'Liberation Serif',serif;font-weight:bold;fill:#111;stroke:#111;stroke-width:0.25;font-size:10.8px;font-style:italic">/</text>
<text x="612.50" y="234.30" style="font-family:'Liberation Serif',serif;font-weight:bold;fill:#111;stroke:#111;stroke-width:0.25;font-size:10.5px;font-style:italic">2</text>
<text x="553.70" y="248.60" style="font-family:'Liberation Serif',serif;font-weight:bold;fill:#111;stroke:#111;stroke-width:0.25;font-size:11px;font-style:italic">d</text>
<text x="560.00" y="251.50" style="font-family:'Liberation Serif',serif;font-weight:bold;fill:#111;stroke:#111;stroke-width:0.25;font-size:7.8px;font-style:italic">z</text>
<text x="563.70" y="248.60" style="font-family:'Liberation Serif',serif;font-weight:bold;fill:#111;stroke:#111;stroke-width:0.25;font-size:7px;font-style:normal">2</text>
<line x1="315.2" y1="238.1" x2="279.5" y2="233.8" stroke="#4f7fcf" stroke-width="1.1"/>
<polygon points="275.8,233.4 280.5,231.5 280.0,235.9" fill="#4f7fcf"/>
<line x1="375.1" y1="238.9" x2="427.0" y2="245.7" stroke="#4f7fcf" stroke-width="1.1"/>
<polygon points="430.8,246.2 426.4,247.9 427.0,243.5" fill="#4f7fcf"/>
<rect x="315.2" y="224.6" width="59.6" height="29.0" fill="#fff" stroke="#9fb9e2" stroke-width="1"/>
<text x="322.50" y="236.40" textLength="44.30" lengthAdjust="spacingAndGlyphs" style="font-size:10.9px;font-weight:bold;font-family:'Liberation Serif',serif;fill:#111;stroke:#111;stroke-width:0.15;">Direct gap</text>
<text x="324.60" y="248.30" textLength="40.10" lengthAdjust="spacingAndGlyphs" style="font-size:10.9px;font-weight:bold;font-family:'Liberation Serif',serif;fill:#111;stroke:#111;stroke-width:0.15;">of bilayer</text>
</svg></body></html>
